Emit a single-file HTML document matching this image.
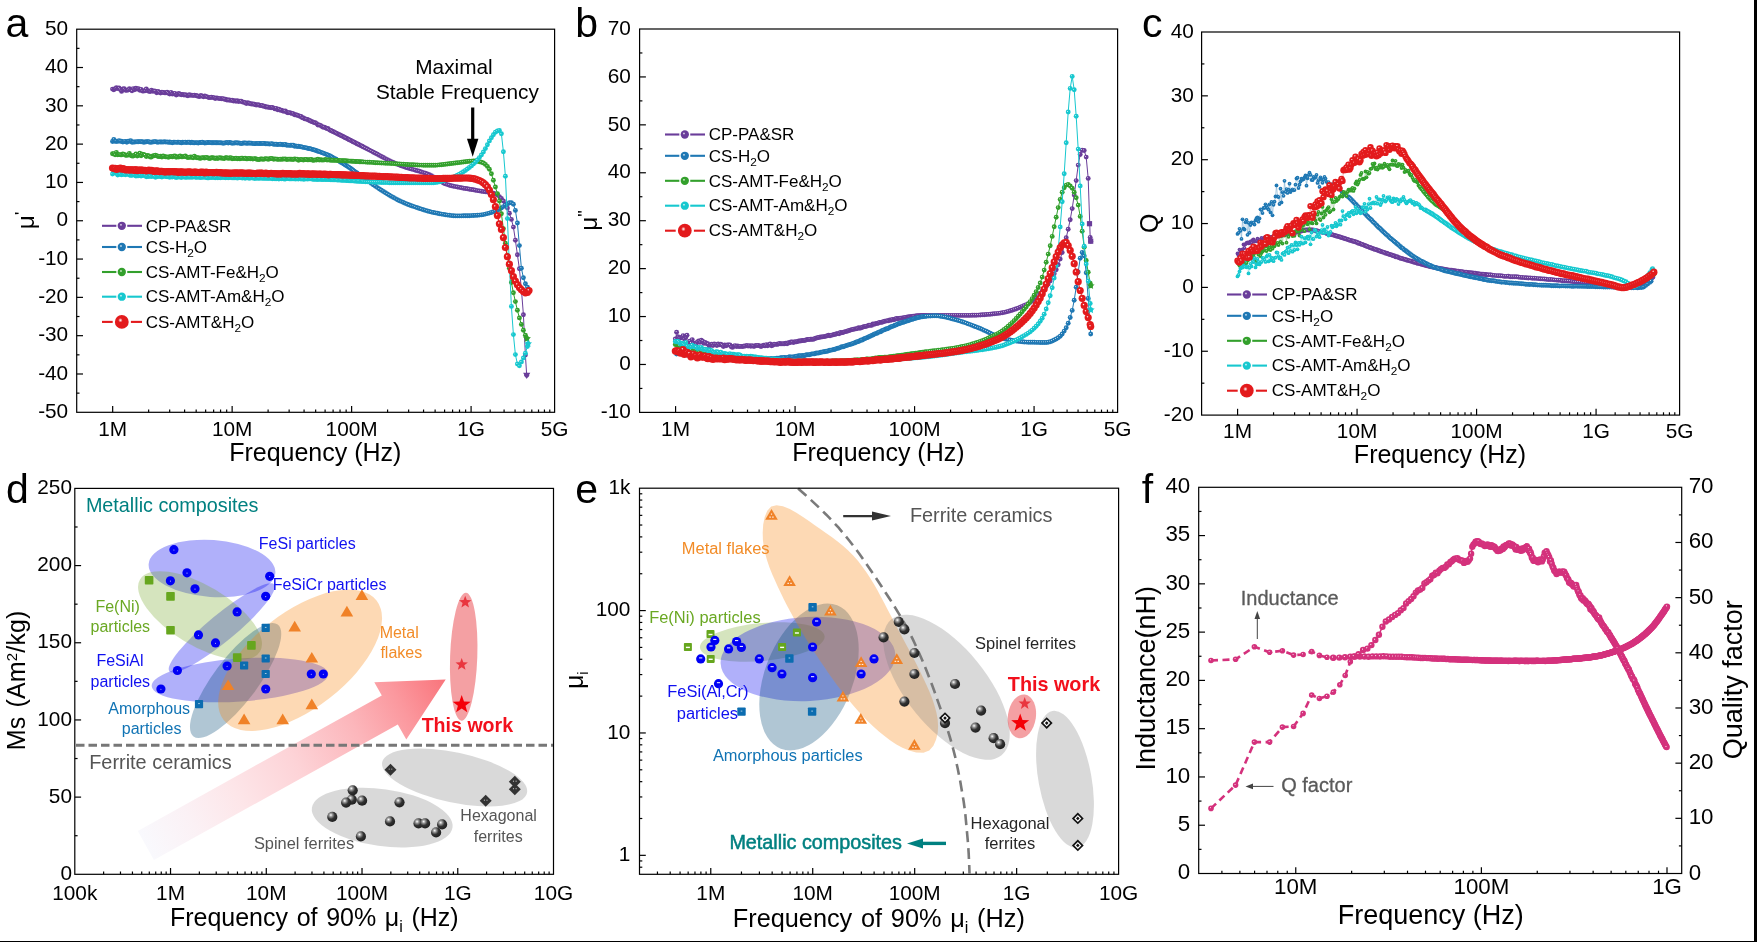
<!DOCTYPE html>
<html><head><meta charset="utf-8"><title>Figure</title>
<style>html,body{margin:0;padding:0;background:#fff;overflow:hidden}svg{display:block;will-change:transform}text{font-family:'Liberation Sans', sans-serif;}</style>
</head><body>
<svg width="1757" height="942" viewBox="0 0 1757 942">
<defs>
<radialGradient id="gpurple" cx="0.4" cy="0.38" r="0.5"><stop offset="0" stop-color="#fff" stop-opacity="0.95"/><stop offset="0.32" stop-color="#6a3d9a"/><stop offset="1" stop-color="#6a3d9a"/></radialGradient>
<marker id="mpurples" markerUnits="userSpaceOnUse" markerWidth="4.8" markerHeight="4.8" refX="2.4" refY="2.4"><circle cx="2.4" cy="2.4" r="1.9" fill="url(#gpurple)"/></marker>
<marker id="mpurple" markerUnits="userSpaceOnUse" markerWidth="5.9" markerHeight="5.9" refX="2.95" refY="2.95"><circle cx="2.95" cy="2.95" r="2.45" fill="url(#gpurple)"/></marker>
<radialGradient id="gblue" cx="0.4" cy="0.38" r="0.5"><stop offset="0" stop-color="#fff" stop-opacity="0.95"/><stop offset="0.32" stop-color="#1f78b4"/><stop offset="1" stop-color="#1f78b4"/></radialGradient>
<marker id="mblues" markerUnits="userSpaceOnUse" markerWidth="4.8" markerHeight="4.8" refX="2.4" refY="2.4"><circle cx="2.4" cy="2.4" r="1.9" fill="url(#gblue)"/></marker>
<marker id="mblue" markerUnits="userSpaceOnUse" markerWidth="5.9" markerHeight="5.9" refX="2.95" refY="2.95"><circle cx="2.95" cy="2.95" r="2.45" fill="url(#gblue)"/></marker>
<radialGradient id="ggreen" cx="0.4" cy="0.38" r="0.5"><stop offset="0" stop-color="#fff" stop-opacity="0.95"/><stop offset="0.32" stop-color="#33a02c"/><stop offset="1" stop-color="#33a02c"/></radialGradient>
<marker id="mgreens" markerUnits="userSpaceOnUse" markerWidth="4.8" markerHeight="4.8" refX="2.4" refY="2.4"><circle cx="2.4" cy="2.4" r="1.9" fill="url(#ggreen)"/></marker>
<marker id="mgreen" markerUnits="userSpaceOnUse" markerWidth="5.9" markerHeight="5.9" refX="2.95" refY="2.95"><circle cx="2.95" cy="2.95" r="2.45" fill="url(#ggreen)"/></marker>
<radialGradient id="gcyan" cx="0.4" cy="0.38" r="0.5"><stop offset="0" stop-color="#fff" stop-opacity="0.95"/><stop offset="0.32" stop-color="#17c8cf"/><stop offset="1" stop-color="#17c8cf"/></radialGradient>
<marker id="mcyans" markerUnits="userSpaceOnUse" markerWidth="4.8" markerHeight="4.8" refX="2.4" refY="2.4"><circle cx="2.4" cy="2.4" r="1.9" fill="url(#gcyan)"/></marker>
<marker id="mcyan" markerUnits="userSpaceOnUse" markerWidth="5.9" markerHeight="5.9" refX="2.95" refY="2.95"><circle cx="2.95" cy="2.95" r="2.45" fill="url(#gcyan)"/></marker>
<radialGradient id="gred" cx="0.4" cy="0.38" r="0.5"><stop offset="0" stop-color="#fff" stop-opacity="0.95"/><stop offset="0.32" stop-color="#e31a1c"/><stop offset="1" stop-color="#e31a1c"/></radialGradient>
<marker id="mreds" markerUnits="userSpaceOnUse" markerWidth="7.4" markerHeight="7.4" refX="3.7" refY="3.7"><circle cx="3.7" cy="3.7" r="3.2" fill="url(#gred)"/></marker>
<marker id="mred" markerUnits="userSpaceOnUse" markerWidth="8.2" markerHeight="8.2" refX="4.1" refY="4.1"><circle cx="4.1" cy="4.1" r="3.6" fill="url(#gred)"/></marker>
<radialGradient id="gpk" cx="0.4" cy="0.38" r="0.5"><stop offset="0" stop-color="#fff" stop-opacity="0.9"/><stop offset="0.3" stop-color="#d4317c"/><stop offset="1" stop-color="#d4317c"/></radialGradient>
<marker id="mpks" markerUnits="userSpaceOnUse" markerWidth="8" markerHeight="8" refX="4" refY="4"><circle cx="4" cy="4" r="2.8" fill="url(#gpk)"/></marker>
<marker id="mpk" markerUnits="userSpaceOnUse" markerWidth="8" markerHeight="8" refX="4" refY="4"><circle cx="4" cy="4" r="3.2" fill="url(#gpk)"/></marker>
<radialGradient id="gdk" cx="0.36" cy="0.32" r="0.65"><stop offset="0" stop-color="#fff"/><stop offset="0.25" stop-color="#999"/><stop offset="0.6" stop-color="#333"/><stop offset="1" stop-color="#222"/></radialGradient>
<linearGradient id="garr" gradientUnits="userSpaceOnUse" x1="146" y1="845.5" x2="445.7" y2="679.5"><stop offset="0" stop-color="#f9f9fd"/><stop offset="0.15" stop-color="#fbf1f5"/><stop offset="0.3" stop-color="#fde6e9"/><stop offset="0.5" stop-color="#fdd3d7"/><stop offset="0.7" stop-color="#fcb6bb"/><stop offset="0.85" stop-color="#fb989e"/><stop offset="1" stop-color="#f9747b"/></linearGradient>
</defs>
<rect width="1757" height="942" fill="#fff"/>
<polyline points="112.5,89.1 113.8,89.7 115.1,88.7 116.4,87.8 117.7,88.6 119,87.9 120.3,89.5 121.6,91.4 122.9,88.9 124.2,88.8 125.5,90.3 126.8,90.2 128.1,90 129.4,88.8 130.7,89.9 132,90.8 133.3,88.6 134.6,89.7 135.9,88.3 137.2,89 138.5,88.6 139.8,90.3 141.1,89.4 142.4,91 143.7,91 145,90.8 146.3,88.9 147.6,90.7 148.9,91.2 150.2,91.5 151.5,90.3 152.8,91.3 154.1,91 155.4,91.3 156.7,92.7 158,91.5 159.3,92.2 160.6,93 161.9,92.1 163.2,92.5 164.5,92.8 165.8,92.9 167.1,92.3 168.4,93.2 169.7,94.1 171,92.5 172.3,94 173.6,93.7 174.9,93.4 176.2,95 177.5,94.4 178.8,93.5 180.1,94.3 181.4,94.7 182.7,94.4 184,95 185.3,94.7 186.6,95.2 187.9,95.7 189.2,94.8 190.5,95.3 191.8,95.1 193.1,95.5 194.4,95.1 195.7,95.5 197,95.8 198.3,96.4 199.6,96.6 200.9,95.7" fill="none" stroke="#6a3d9a" stroke-width="0.35" stroke-linejoin="round" marker-start="url(#mpurple)" marker-mid="url(#mpurple)" marker-end="url(#mpurple)"/>
<polyline points="200.9,95.7 202.2,96.1 203.5,96.8 204.8,95.9 206.1,96.6 207.4,96.9 208.7,97.6 210,97.5 211.3,97.3 212.6,97.4 213.9,97.6 215.2,98.5 216.5,97.9 217.8,98.1 219.1,98.6 220.4,98.6 221.7,98.7 223,98.6 224.3,99.2 225.6,99.2 226.9,100 228.2,100 229.5,100 230.8,100.4 232.1,100.3 233.4,101 234.7,100.8 236,101.2 237.3,100.8 238.6,101.6 239.9,101.1 241.2,101.2 242.5,102.1 243.8,102.1 245.1,102.7 246.4,103.6 247.7,102.8 249,103.2 250.3,103.7 251.6,104 252.9,104 254.2,104.3 255.5,104.8 256.8,105 258.1,104.8 259.4,105.3 260.7,105.6 262,105.5 263.3,106.2 264.6,106.1 265.9,107 267.2,107 268.5,107.3 269.8,107.4 271.1,107.8 272.4,107.5 273.7,108.1 275,108.9 276.3,108.4 277.6,109.7 278.9,109.2 280.2,110.3 281.5,110.1 282.8,111 284.1,111.2 285.4,111 286.7,112.2 288,112.7 289.3,112.6 290.6,113 291.9,113.4 293.2,113.6 294.5,114.7 295.8,114.7 297.1,115.3 298.4,115.6 299.7,116.2 301,116.5 302.3,117.8 303.6,118 304.9,118.9 306.2,119.1 307.5,119.5 308.8,120.2 310.1,120.7 311.4,121.5 312.7,121.9 314,122.6 315.3,122.8 316.6,123.6 317.9,125 319.2,124.9 320.5,125.4 321.8,126.4 323.1,127.3 324.4,127.1 325.7,128 327,128.5 328.3,128.8 329.6,130.1 330.9,130.5 332.2,131.2 333.5,131.8 334.8,132.4 336.1,133.1 337.4,133.7 338.7,134.4 340,135 341.3,135.7 342.6,136.3 343.9,137 345.2,137.7 346.5,138.3 347.8,139 349.1,139.7 350.4,140.3 351.7,141 353,141.7 354.3,142.3 355.6,143 356.9,143.7 358.2,144.3 359.5,145 360.8,145.6 362.1,146.3 363.4,147 365.4,148 367.4,149 369.4,150.1 371.4,151.1 373.4,152.2 375.4,153.3 377.4,154.3 379.4,155.4 381.4,156.5 383.4,157.5 385.4,158.6 387.4,159.6 389.4,160.6 391.4,161.6 393.4,162.5 395.4,163.4 397.4,164.3 399.4,165.1 401.4,165.9 403.4,166.6 405.4,167.3 407.4,167.9 409.4,168.5 411.4,169.1 413.4,169.6 415.4,170.2 417.4,170.7 419.4,171.3 421.4,171.9 423.4,172.6 425.4,173.3 427.4,174 429.4,174.8 431.4,175.8 433.4,176.9 435.4,178.2 437.4,179.4 439.4,180.7 441.4,181.9 443.4,183 445.4,183.9 447.4,184.6 449.4,185.2 451.4,185.7 453.4,186.2 455.4,186.6 457.4,187 459.4,187.4 461.4,187.8 463.4,188.2 465.4,188.5 467.4,188.8 469.4,189.2 471.4,189.5 473.4,189.8 475.4,190.2 477.4,190.6 479.4,190.9 481.4,191.3 483.4,191.6 485.4,191.8 487.4,192.1 489.4,192.4 491.4,192.8 493.4,193.3 495.4,193.9 497.4,194.9 499.4,196.6 501.4,198.5 503.4,201 505.4,204.1 507.4,208.1 509.4,213.3 511.4,219.4 513.4,227.1 515.4,240.2 517.4,254.7 519.4,268.8 521.4,289.2 523.4,314.7 525.4,355.1 526.7,375.3" fill="none" stroke="#6a3d9a" stroke-width="1.0" stroke-linejoin="round" marker-start="url(#mpurple)" marker-mid="url(#mpurple)" marker-end="url(#mpurple)"/>
<polyline points="112.5,141.5 113.8,139.5 115.1,141.4 116.4,141.2 117.7,141.4 119,140.7 120.3,141.2 121.6,141.3 122.9,142.1 124.2,141.6 125.5,141.4 126.8,142.2 128.1,141.2 129.4,141.3 130.7,140.7 132,142.3 133.3,142 134.6,142 135.9,141.9 137.2,141.7 138.5,141.8 139.8,141.6 141.1,141.7 142.4,141.8 143.7,142.3 145,142 146.3,141.8 147.6,141.6 148.9,141.7 150.2,142.4 151.5,142.1 152.8,142 154.1,141.8 155.4,141.6 156.7,142 158,142.3 159.3,141.9 160.6,142 161.9,142 163.2,142.1 164.5,141.7 165.8,142.1 167.1,141.9 168.4,142.4 169.7,142 171,142.4 172.3,142.7 173.6,142.2 174.9,142.1 176.2,142.4 177.5,142.3 178.8,142.1 180.1,142.5 181.4,142.9 182.7,142.3 184,142.4 185.3,142.2 186.6,142.5 187.9,142.2 189.2,142.2 190.5,142.8 191.8,142.3 193.1,142.8 194.4,142.9 195.7,142.6 197,142.7 198.3,143 199.6,142.6 200.9,142.5" fill="none" stroke="#1f78b4" stroke-width="0.35" stroke-linejoin="round" marker-start="url(#mblue)" marker-mid="url(#mblue)" marker-end="url(#mblue)"/>
<polyline points="200.9,142.5 202.2,142.3 203.5,142.6 204.8,143 206.1,142.9 207.4,142.5 208.7,142.5 210,142.6 211.3,142.8 212.6,142.7 213.9,142.8 215.2,142.8 216.5,142.7 217.8,142.8 219.1,142.9 220.4,142.8 221.7,142.9 223,143.3 224.3,143 225.6,142.9 226.9,142.5 228.2,143 229.5,142.5 230.8,142.7 232.1,143.2 233.4,143.1 234.7,143 236,142.7 237.3,143 238.6,142.9 239.9,143.2 241.2,143.6 242.5,143.2 243.8,143 245.1,143 246.4,143.2 247.7,143.2 249,143 250.3,143.3 251.6,143.1 252.9,143.6 254.2,143.6 255.5,143.6 256.8,143.4 258.1,143.6 259.4,143.5 260.7,143.5 262,143.6 263.3,143.4 264.6,143.4 265.9,143.9 267.2,143.8 268.5,143.9 269.8,144.1 271.1,143.6 272.4,143.9 273.7,144.2 275,144.3 276.3,144.2 277.6,144.5 278.9,144.4 280.2,144.2 281.5,144.4 282.8,144.8 284.1,144.8 285.4,144.4 286.7,145.2 288,145.1 289.3,145.4 290.6,145.2 291.9,145.3 293.2,145.3 294.5,146.2 295.8,145.9 297.1,146.5 298.4,146.2 299.7,146.6 301,146.8 302.3,147.1 303.6,147.4 304.9,147.6 306.2,147.9 307.5,148.2 308.8,148.5 310.1,148.8 311.4,149.1 312.7,149.5 314,149.9 315.3,150.3 316.6,150.7 317.9,151.2 319.2,151.6 320.5,152.1 321.8,152.6 323.1,153.1 324.4,153.6 325.7,154.1 327,154.6 328.3,155.2 329.6,155.8 330.9,156.5 332.2,157.2 333.5,157.9 334.8,158.6 336.1,159.3 337.4,160.1 338.7,160.9 340,161.7 341.3,162.5 342.6,163.3 343.9,164.1 345.2,164.9 346.5,165.7 347.8,166.6 349.1,167.4 350.4,168.3 351.7,169.3 353,170.2 354.3,171.1 355.6,172.1 356.9,173 358.2,174 359.5,174.9 360.8,175.9 362.1,176.8 363.4,177.7 365.4,179.1 367.4,180.6 369.4,182 371.4,183.4 373.4,184.9 375.4,186.3 377.4,187.6 379.4,189 381.4,190.3 383.4,191.5 385.4,192.8 387.4,194 389.4,195.2 391.4,196.4 393.4,197.5 395.4,198.6 397.4,199.7 399.4,200.7 401.4,201.6 403.4,202.5 405.4,203.4 407.4,204.2 409.4,205 411.4,205.7 413.4,206.4 415.4,207.1 417.4,207.8 419.4,208.5 421.4,209.1 423.4,209.7 425.4,210.4 427.4,211 429.4,211.5 431.4,212.1 433.4,212.5 435.4,212.9 437.4,213.3 439.4,213.7 441.4,214.1 443.4,214.4 445.4,214.8 447.4,215.1 449.4,215.3 451.4,215.6 453.4,215.7 455.4,215.9 457.4,215.9 459.4,215.9 461.4,215.9 463.4,215.8 465.4,215.8 467.4,215.7 469.4,215.7 471.4,215.6 473.4,215.5 475.4,215.4 477.4,215.3 479.4,215.1 481.4,214.9 483.4,214.6 485.4,214.1 487.4,213.6 489.4,213.1 491.4,212.5 493.4,211.8 495.4,211.1 497.4,210.2 499.4,209.2 501.4,208 503.4,206.6 505.4,205.2 507.4,203.9 509.4,202.7 511.4,202.7 513.4,204.3 515.4,210.4 517.4,223 519.4,245.6 521.4,268.3 523.4,277.7 525.4,283.7 527.4,287.1" fill="none" stroke="#1f78b4" stroke-width="1.0" stroke-linejoin="round" marker-start="url(#mblue)" marker-mid="url(#mblue)" marker-end="url(#mblue)"/>
<polyline points="112.5,153.8 113.8,153.6 115.1,154.7 116.4,152.4 117.7,154.8 119,154.6 120.3,154.7 121.6,154.9 122.9,153.9 124.2,154.4 125.5,155.3 126.8,155.2 128.1,155 129.4,153.5 130.7,155.4 132,156 133.3,156 134.6,155.3 135.9,153.9 137.2,156 138.5,155.2 139.8,153.3 141.1,155.7 142.4,154.3 143.7,154.5 145,155.1 146.3,156.6 147.6,155.5 148.9,156 150.2,157.1 151.5,157 152.8,155.9 154.1,155.8 155.4,155.2 156.7,155.6 158,156.5 159.3,156.5 160.6,156.3 161.9,157 163.2,155.9 164.5,156.4 165.8,156.9 167.1,156.9 168.4,157.2 169.7,156.8 171,156.5 172.3,156.9 173.6,156.2 174.9,155.9 176.2,157.2 177.5,156.8 178.8,157.1 180.1,156 181.4,156.8 182.7,156.7 184,156.6 185.3,156 186.6,157 187.9,157.6 189.2,157.4 190.5,157 191.8,157.3 193.1,157.7 194.4,156.1 195.7,157.4 197,157.7 198.3,157.8 199.6,158.3 200.9,158.1" fill="none" stroke="#33a02c" stroke-width="0.35" stroke-linejoin="round" marker-start="url(#mgreen)" marker-mid="url(#mgreen)" marker-end="url(#mgreen)"/>
<polyline points="200.9,158.1 202.2,157.7 203.5,157.8 204.8,158 206.1,157.5 207.4,157.7 208.7,158.2 210,158.6 211.3,157.8 212.6,157.8 213.9,158 215.2,158.5 216.5,157.9 217.8,158.6 219.1,157.6 220.4,158 221.7,158 223,158.4 224.3,158.5 225.6,157.6 226.9,157.8 228.2,158.4 229.5,158 230.8,157.7 232.1,158.7 233.4,158.5 234.7,158.6 236,158.2 237.3,158.8 238.6,158.4 239.9,158.9 241.2,158.2 242.5,158.2 243.8,158.6 245.1,158.3 246.4,158.9 247.7,158.7 249,158.4 250.3,158.7 251.6,158.6 252.9,159.1 254.2,158.6 255.5,158.7 256.8,159.2 258.1,159.6 259.4,159.5 260.7,158.9 262,159 263.3,159.4 264.6,158.9 265.9,158.7 267.2,159 268.5,159.2 269.8,158.8 271.1,158.5 272.4,158.6 273.7,159.3 275,158.9 276.3,159.1 277.6,159.2 278.9,159.4 280.2,159.1 281.5,159.4 282.8,159 284.1,159.1 285.4,158.9 286.7,159.6 288,159.3 289.3,159.1 290.6,159.2 291.9,159.3 293.2,159.6 294.5,158.9 295.8,159.1 297.1,159.3 298.4,160.2 299.7,159.7 301,159.5 302.3,159.7 303.6,160.1 304.9,159.5 306.2,159.5 307.5,159.9 308.8,159.8 310.1,159.8 311.4,159.5 312.7,160.2 314,160.2 315.3,159.9 316.6,160 317.9,159.2 319.2,160 320.5,159.8 321.8,160 323.1,160.1 324.4,159.9 325.7,159.5 327,160.1 328.3,159.9 329.6,160 330.9,160.2 332.2,160.2 333.5,160.3 334.8,160.3 336.1,160.4 337.4,160.4 338.7,160.5 340,160.6 341.3,160.6 342.6,160.7 343.9,160.8 345.2,160.8 346.5,160.9 347.8,161 349.1,161.1 350.4,161.1 351.7,161.2 353,161.3 354.3,161.4 355.6,161.5 356.9,161.5 358.2,161.6 359.5,161.7 360.8,161.8 362.1,161.9 363.4,161.9 365.4,162.1 367.4,162.2 369.4,162.3 371.4,162.4 373.4,162.5 375.4,162.7 377.4,162.8 379.4,162.9 381.4,163 383.4,163.1 385.4,163.2 387.4,163.3 389.4,163.4 391.4,163.5 393.4,163.6 395.4,163.8 397.4,163.9 399.4,164 401.4,164.1 403.4,164.3 405.4,164.4 407.4,164.5 409.4,164.6 411.4,164.7 413.4,164.8 415.4,164.9 417.4,165 419.4,165.1 421.4,165.1 423.4,165.2 425.4,165.2 427.4,165.3 429.4,165.3 431.4,165.3 433.4,165.3 435.4,165.2 437.4,165.1 439.4,164.9 441.4,164.8 443.4,164.5 445.4,164.3 447.4,164 449.4,163.8 451.4,163.5 453.4,163.3 455.4,163 457.4,162.8 459.4,162.6 461.4,162.3 463.4,162 465.4,161.8 467.4,161.5 469.4,161.3 471.4,161.1 473.4,161 475.4,161 477.4,161.3 479.4,161.7 481.4,162.3 483.4,163 485.4,164.4 487.4,166.4 489.4,169.3 491.4,173.8 493.4,180.2 495.4,187 497.4,193.6 499.4,201.1 501.4,213.8 503.4,228.7 505.4,243.2 507.4,255.5 509.4,268.2 511.4,282.5 513.4,292.8 515.4,301.6 517.4,310.3 519.4,317.9 521.4,324.4 523.4,330.3 525.4,335.3 527,338.5" fill="none" stroke="#33a02c" stroke-width="1.0" stroke-linejoin="round" marker-start="url(#mgreen)" marker-mid="url(#mgreen)" marker-end="url(#mgreen)"/>
<polyline points="112.5,174 113.8,171.8 115.1,173 116.4,173.3 117.7,175 119,173.8 120.3,174.4 121.6,174.8 122.9,174.2 124.2,174.3 125.5,174.7 126.8,173.8 128.1,174.3 129.4,175 130.7,175.4 132,175.3 133.3,174.5 134.6,175.3 135.9,176 137.2,175.9 138.5,175.7 139.8,175.3 141.1,176.1 142.4,175.6 143.7,175.4 145,175.6 146.3,176.7 147.6,176.2 148.9,176.6 150.2,176 151.5,176.6 152.8,176 154.1,176.2 155.4,177.3 156.7,176.7 158,176.2 159.3,176.4 160.6,176.6 161.9,177 163.2,176.4 164.5,176 165.8,176.5 167.1,176.7 168.4,176.7 169.7,177.2 171,176.9 172.3,177.1 173.6,176.5 174.9,177.1 176.2,177.5 177.5,177.1 178.8,177 180.1,177 181.4,177.5 182.7,176.7 184,177 185.3,177.2 186.6,177.3 187.9,177 189.2,177.2 190.5,177 191.8,177.2 193.1,177.1 194.4,176.9 195.7,177.2 197,177.4 198.3,177 199.6,177.2 200.9,177.4" fill="none" stroke="#17c8cf" stroke-width="0.35" stroke-linejoin="round" marker-start="url(#mcyan)" marker-mid="url(#mcyan)" marker-end="url(#mcyan)"/>
<polyline points="200.9,177.4 202.2,177 203.5,177.3 204.8,177 206.1,177.6 207.4,177.9 208.7,177.9 210,177.3 211.3,177.6 212.6,177.4 213.9,177.4 215.2,177.8 216.5,177.1 217.8,177.7 219.1,177.5 220.4,177.8 221.7,177.6 223,177.4 224.3,177.6 225.6,177.7 226.9,177.6 228.2,177.7 229.5,177.5 230.8,177.2 232.1,177.9 233.4,177.8 234.7,177.7 236,177.7 237.3,178 238.6,177.7 239.9,177.6 241.2,177.8 242.5,178.1 243.8,177.6 245.1,178.2 246.4,177.8 247.7,177.7 249,178.2 250.3,178 251.6,177.7 252.9,178 254.2,178.3 255.5,178.4 256.8,178 258.1,178.3 259.4,178.3 260.7,178.1 262,178.3 263.3,178.3 264.6,178.2 265.9,178.2 267.2,178.4 268.5,178.4 269.8,178.3 271.1,178.3 272.4,178.7 273.7,178.5 275,178.7 276.3,178.7 277.6,178.6 278.9,179 280.2,178.4 281.5,178.8 282.8,178.5 284.1,179 285.4,179 286.7,178.3 288,178.5 289.3,178.9 290.6,178.9 291.9,178.9 293.2,178.8 294.5,178.9 295.8,179 297.1,178.8 298.4,179.1 299.7,178.4 301,179.1 302.3,178.7 303.6,179.2 304.9,179 306.2,178.9 307.5,179.1 308.8,178.9 310.1,178.9 311.4,178.8 312.7,179.2 314,179.3 315.3,179.4 316.6,179.2 317.9,179.5 319.2,179.3 320.5,179.3 321.8,179.5 323.1,179.6 324.4,179.4 325.7,179.5 327,179.5 328.3,179.6 329.6,179.5 330.9,179.7 332.2,179.7 333.5,179.8 334.8,179.9 336.1,179.9 337.4,180 338.7,180.1 340,180.1 341.3,180.2 342.6,180.3 343.9,180.3 345.2,180.4 346.5,180.5 347.8,180.6 349.1,180.7 350.4,180.8 351.7,180.8 353,180.9 354.3,181 355.6,181.1 356.9,181.2 358.2,181.3 359.5,181.3 360.8,181.4 362.1,181.5 363.4,181.6 365.4,181.7 367.4,181.8 369.4,181.9 371.4,182 373.4,182.1 375.4,182.2 377.4,182.3 379.4,182.4 381.4,182.5 383.4,182.5 385.4,182.6 387.4,182.6 389.4,182.7 391.4,182.7 393.4,182.7 395.4,182.7 397.4,182.7 399.4,182.7 401.4,182.7 403.4,182.7 405.4,182.7 407.4,182.7 409.4,182.7 411.4,182.7 413.4,182.7 415.4,182.7 417.4,182.7 419.4,182.7 421.4,182.7 423.4,182.7 425.4,182.7 427.4,182.7 429.4,182.7 431.4,182.7 433.4,182.7 435.4,182.5 437.4,182.2 439.4,181.8 441.4,181.3 443.4,180.7 445.4,180.1 447.4,179.5 449.4,178.9 451.4,178.2 453.4,177.3 455.4,176.3 457.4,175.3 459.4,174.1 461.4,173 463.4,171.8 465.4,170.5 467.4,169 469.4,167.5 471.4,165.9 473.4,164.1 475.4,162.2 477.4,160 479.4,157.6 481.4,154.9 483.4,152 485.4,148.6 487.4,144.7 489.4,140.9 491.4,137.7 493.4,134.7 495.4,132.2 497.4,131 499.4,130.5 501.4,133.8 503.4,151.7 505.4,176.2 507.4,218.6 509.4,265 511.4,306.4 513.4,334.6 515.4,354.6 517.4,364 519.4,365.8 521.4,361.9 523.4,357.9 525.4,353.3 527.4,346.5 528.1,343.7" fill="none" stroke="#17c8cf" stroke-width="1.0" stroke-linejoin="round" marker-start="url(#mcyan)" marker-mid="url(#mcyan)" marker-end="url(#mcyan)"/>
<polyline points="112.5,168 113.8,168.5 115.1,168.3 116.4,169.5 117.7,168.6 119,168.7 120.3,168.2 121.6,169.1 122.9,168.7 124.2,169.2 125.5,170 126.8,169.7 128.1,169.8 129.4,169.8 130.7,169.8 132,169.8 133.3,169.8 134.6,170.3 135.9,169.6 137.2,170.6 138.5,170.2 139.8,170 141.1,170.2 142.4,170.2 143.7,170.5 145,170.3 146.3,170.9 147.6,170.5 148.9,170.1 150.2,170.6 151.5,170.3 152.8,170.9 154.1,171.3 155.4,171.2 156.7,170.8 158,171 159.3,171.6 160.6,171.4 161.9,171.3 163.2,171.6 164.5,172 165.8,171.8 167.1,171.6 168.4,171.7 169.7,171.8 171,171.5 172.3,171.5 173.6,171.8 174.9,171.6 176.2,171.8 177.5,171.9 178.8,172.4 180.1,171.8 181.4,171.9 182.7,172 184,172.1 185.3,172.3 186.6,172 187.9,172 189.2,171.8 190.5,172 191.8,172.3 193.1,172.3 194.4,172.1 195.7,172.2 197,172.4 198.3,172.5 199.6,172.3 200.9,172.4" fill="none" stroke="#e31a1c" stroke-width="0.35" stroke-linejoin="round" marker-start="url(#mred)" marker-mid="url(#mred)" marker-end="url(#mred)"/>
<polyline points="200.9,172.4 202.2,172.1 203.5,172.3 204.8,172.8 206.1,172.1 207.4,172.5 208.7,172.6 210,172.5 211.3,172.5 212.6,172.7 213.9,172.7 215.2,172.7 216.5,172.4 217.8,172.7 219.1,172.6 220.4,172.7 221.7,172.9 223,173 224.3,173.1 225.6,172.8 226.9,173.1 228.2,173.2 229.5,173.2 230.8,173.3 232.1,173 233.4,173 234.7,173.2 236,172.8 237.3,173.1 238.6,173 239.9,173.1 241.2,172.8 242.5,173 243.8,173.2 245.1,173.4 246.4,173.4 247.7,173.2 249,173.2 250.3,173.1 251.6,173.4 252.9,173.3 254.2,173.5 255.5,173.7 256.8,173.4 258.1,173.1 259.4,173.3 260.7,173.2 262,173.2 263.3,173.7 264.6,173.5 265.9,173.2 267.2,173.7 268.5,173.8 269.8,173.5 271.1,173.4 272.4,173.5 273.7,173.7 275,173.7 276.3,173.9 277.6,173.9 278.9,173.9 280.2,173.9 281.5,173.8 282.8,173.4 284.1,173.7 285.4,173.8 286.7,173.7 288,173.9 289.3,173.7 290.6,173.6 291.9,174.1 293.2,174 294.5,173.9 295.8,174 297.1,174.1 298.4,173.9 299.7,173.4 301,173.8 302.3,173.8 303.6,173.7 304.9,174 306.2,174.2 307.5,173.9 308.8,173.8 310.1,174.4 311.4,174 312.7,173.8 314,174.1 315.3,174.2 316.6,174 317.9,174.3 319.2,174.1 320.5,174 321.8,174.3 323.1,174.4 324.4,174.2 325.7,174.4 327,174.3 328.3,174.9 329.6,174.3 330.9,174.4 332.2,174.5 333.5,174.5 334.8,174.5 336.1,174.6 337.4,174.6 338.7,174.7 340,174.7 341.3,174.8 342.6,174.8 343.9,174.9 345.2,174.9 346.5,175 347.8,175 349.1,175.1 350.4,175.1 351.7,175.2 353,175.2 354.3,175.3 355.6,175.4 356.9,175.4 358.2,175.5 359.5,175.5 360.8,175.6 362.1,175.7 363.4,175.7 365.4,175.8 367.4,175.9 369.4,176 371.4,176.1 373.4,176.2 375.4,176.2 377.4,176.3 379.4,176.4 381.4,176.5 383.4,176.6 385.4,176.6 387.4,176.7 389.4,176.8 391.4,176.9 393.4,177 395.4,177.1 397.4,177.2 399.4,177.3 401.4,177.4 403.4,177.5 405.4,177.6 407.4,177.7 409.4,177.8 411.4,177.9 413.4,177.9 415.4,178 417.4,178.1 419.4,178.2 421.4,178.2 423.4,178.3 425.4,178.4 427.4,178.4 429.4,178.4 431.4,178.5 433.4,178.5 435.4,178.5 437.4,178.5 439.4,178.5 441.4,178.5 443.4,178.4 445.4,178.4 447.4,178.4 449.4,178.3 451.4,178.3 453.4,178.2 455.4,178.2 457.4,178.1 459.4,178.1 461.4,178.1 463.4,178 465.4,178 467.4,178 469.4,178.1 471.4,178.3 473.4,178.7 475.4,179.2 477.4,179.8 479.4,180.5 481.4,181.5 483.4,182.9 485.4,184.7 487.4,186.8 489.4,190.1 491.4,194.5 493.4,199.7 495.4,206.7 497.4,215.6 499.4,223.8 501.4,229.4 503.4,237.6 505.4,247.5 507.4,256.7 509.4,264.2 511.4,270.7 513.4,276.7 515.4,281.2 517.4,284.7 519.4,287.5 521.4,289.7 523.4,291.5 525.4,292.8 527.4,292.4 529,290.6" fill="none" stroke="#e31a1c" stroke-width="1.0" stroke-linejoin="round" marker-start="url(#mred)" marker-mid="url(#mred)" marker-end="url(#mred)"/>
<path d="M523.1,372.8 H530.3 L526.7,378.9 Z" fill="#6a3d9a"/>
<polygon points="527,334.3 528.1,337 531,337.2 528.8,339.1 529.5,341.9 527,340.4 524.5,341.9 525.2,339.1 523,337.2 525.9,337" fill="#33a02c"/>
<polygon points="528.1,339.5 529.2,342.2 532.1,342.4 529.9,344.3 530.6,347.1 528.1,345.6 525.6,347.1 526.3,344.3 524.1,342.4 527,342.2" fill="#17c8cf"/>
<rect x="76.7" y="29.2" width="477.9" height="383.1" fill="none" stroke="#000" stroke-width="1.2"/>
<line x1="112.67" y1="412.3" x2="112.67" y2="406" stroke="#000" stroke-width="1.2" />
<line x1="148.63" y1="412.3" x2="148.63" y2="409.5" stroke="#000" stroke-width="1.2" />
<line x1="169.67" y1="412.3" x2="169.67" y2="409.5" stroke="#000" stroke-width="1.2" />
<line x1="184.6" y1="412.3" x2="184.6" y2="409.5" stroke="#000" stroke-width="1.2" />
<line x1="196.18" y1="412.3" x2="196.18" y2="409.5" stroke="#000" stroke-width="1.2" />
<line x1="205.64" y1="412.3" x2="205.64" y2="409.5" stroke="#000" stroke-width="1.2" />
<line x1="213.63" y1="412.3" x2="213.63" y2="409.5" stroke="#000" stroke-width="1.2" />
<line x1="220.56" y1="412.3" x2="220.56" y2="409.5" stroke="#000" stroke-width="1.2" />
<line x1="226.67" y1="412.3" x2="226.67" y2="409.5" stroke="#000" stroke-width="1.2" />
<line x1="232.14" y1="412.3" x2="232.14" y2="406" stroke="#000" stroke-width="1.2" />
<line x1="268.11" y1="412.3" x2="268.11" y2="409.5" stroke="#000" stroke-width="1.2" />
<line x1="289.14" y1="412.3" x2="289.14" y2="409.5" stroke="#000" stroke-width="1.2" />
<line x1="304.07" y1="412.3" x2="304.07" y2="409.5" stroke="#000" stroke-width="1.2" />
<line x1="315.65" y1="412.3" x2="315.65" y2="409.5" stroke="#000" stroke-width="1.2" />
<line x1="325.11" y1="412.3" x2="325.11" y2="409.5" stroke="#000" stroke-width="1.2" />
<line x1="333.11" y1="412.3" x2="333.11" y2="409.5" stroke="#000" stroke-width="1.2" />
<line x1="340.04" y1="412.3" x2="340.04" y2="409.5" stroke="#000" stroke-width="1.2" />
<line x1="346.15" y1="412.3" x2="346.15" y2="409.5" stroke="#000" stroke-width="1.2" />
<line x1="351.62" y1="412.3" x2="351.62" y2="406" stroke="#000" stroke-width="1.2" />
<line x1="387.58" y1="412.3" x2="387.58" y2="409.5" stroke="#000" stroke-width="1.2" />
<line x1="408.62" y1="412.3" x2="408.62" y2="409.5" stroke="#000" stroke-width="1.2" />
<line x1="423.55" y1="412.3" x2="423.55" y2="409.5" stroke="#000" stroke-width="1.2" />
<line x1="435.12" y1="412.3" x2="435.12" y2="409.5" stroke="#000" stroke-width="1.2" />
<line x1="444.59" y1="412.3" x2="444.59" y2="409.5" stroke="#000" stroke-width="1.2" />
<line x1="452.58" y1="412.3" x2="452.58" y2="409.5" stroke="#000" stroke-width="1.2" />
<line x1="459.51" y1="412.3" x2="459.51" y2="409.5" stroke="#000" stroke-width="1.2" />
<line x1="465.62" y1="412.3" x2="465.62" y2="409.5" stroke="#000" stroke-width="1.2" />
<line x1="471.09" y1="412.3" x2="471.09" y2="406" stroke="#000" stroke-width="1.2" />
<line x1="490.17" y1="412.3" x2="490.17" y2="409.5" stroke="#000" stroke-width="1.2" />
<line x1="504.09" y1="412.3" x2="504.09" y2="409.5" stroke="#000" stroke-width="1.2" />
<line x1="515.05" y1="412.3" x2="515.05" y2="409.5" stroke="#000" stroke-width="1.2" />
<line x1="524.1" y1="412.3" x2="524.1" y2="409.5" stroke="#000" stroke-width="1.2" />
<line x1="531.8" y1="412.3" x2="531.8" y2="409.5" stroke="#000" stroke-width="1.2" />
<line x1="538.51" y1="412.3" x2="538.51" y2="409.5" stroke="#000" stroke-width="1.2" />
<line x1="544.44" y1="412.3" x2="544.44" y2="409.5" stroke="#000" stroke-width="1.2" />
<line x1="549.77" y1="412.3" x2="549.77" y2="409.5" stroke="#000" stroke-width="1.2" />
<text x="112.67" y="435.8" font-size="20.8" fill="#000" text-anchor="middle" >1M</text>
<text x="232.14" y="435.8" font-size="20.8" fill="#000" text-anchor="middle" >10M</text>
<text x="351.62" y="435.8" font-size="20.8" fill="#000" text-anchor="middle" >100M</text>
<text x="471.09" y="435.8" font-size="20.8" fill="#000" text-anchor="middle" >1G</text>
<text x="554.6" y="435.8" font-size="20.8" fill="#000" text-anchor="middle" >5G</text>
<line x1="76.7" y1="393.14" x2="79.5" y2="393.14" stroke="#000" stroke-width="1.2" />
<line x1="76.7" y1="354.84" x2="79.5" y2="354.84" stroke="#000" stroke-width="1.2" />
<line x1="76.7" y1="316.52" x2="79.5" y2="316.52" stroke="#000" stroke-width="1.2" />
<line x1="76.7" y1="278.22" x2="79.5" y2="278.22" stroke="#000" stroke-width="1.2" />
<line x1="76.7" y1="239.91" x2="79.5" y2="239.91" stroke="#000" stroke-width="1.2" />
<line x1="76.7" y1="201.59" x2="79.5" y2="201.59" stroke="#000" stroke-width="1.2" />
<line x1="76.7" y1="163.28" x2="79.5" y2="163.28" stroke="#000" stroke-width="1.2" />
<line x1="76.7" y1="124.97" x2="79.5" y2="124.97" stroke="#000" stroke-width="1.2" />
<line x1="76.7" y1="86.67" x2="79.5" y2="86.67" stroke="#000" stroke-width="1.2" />
<line x1="76.7" y1="48.36" x2="79.5" y2="48.36" stroke="#000" stroke-width="1.2" />
<line x1="76.7" y1="373.99" x2="83" y2="373.99" stroke="#000" stroke-width="1.2" />
<line x1="76.7" y1="335.68" x2="83" y2="335.68" stroke="#000" stroke-width="1.2" />
<line x1="76.7" y1="297.37" x2="83" y2="297.37" stroke="#000" stroke-width="1.2" />
<line x1="76.7" y1="259.06" x2="83" y2="259.06" stroke="#000" stroke-width="1.2" />
<line x1="76.7" y1="220.75" x2="83" y2="220.75" stroke="#000" stroke-width="1.2" />
<line x1="76.7" y1="182.44" x2="83" y2="182.44" stroke="#000" stroke-width="1.2" />
<line x1="76.7" y1="144.13" x2="83" y2="144.13" stroke="#000" stroke-width="1.2" />
<line x1="76.7" y1="105.82" x2="83" y2="105.82" stroke="#000" stroke-width="1.2" />
<line x1="76.7" y1="67.51" x2="83" y2="67.51" stroke="#000" stroke-width="1.2" />
<text x="68.2" y="418" font-size="20.8" fill="#000" text-anchor="end" >-50</text>
<text x="68.2" y="379.69" font-size="20.8" fill="#000" text-anchor="end" >-40</text>
<text x="68.2" y="341.38" font-size="20.8" fill="#000" text-anchor="end" >-30</text>
<text x="68.2" y="303.07" font-size="20.8" fill="#000" text-anchor="end" >-20</text>
<text x="68.2" y="264.76" font-size="20.8" fill="#000" text-anchor="end" >-10</text>
<text x="68.2" y="226.45" font-size="20.8" fill="#000" text-anchor="end" >0</text>
<text x="68.2" y="188.14" font-size="20.8" fill="#000" text-anchor="end" >10</text>
<text x="68.2" y="149.83" font-size="20.8" fill="#000" text-anchor="end" >20</text>
<text x="68.2" y="111.52" font-size="20.8" fill="#000" text-anchor="end" >30</text>
<text x="68.2" y="73.21" font-size="20.8" fill="#000" text-anchor="end" >40</text>
<text x="68.2" y="34.9" font-size="20.8" fill="#000" text-anchor="end" >50</text>
<text x="315.3" y="460.9" font-size="25" fill="#000" text-anchor="middle" >Frequency (Hz)</text>
<text x="33.6" y="220.5" font-size="24.5" fill="#000" text-anchor="middle" transform="rotate(-90 33.6 220.5)" >μ<tspan dy="-7" font-size="17">'</tspan></text>
<text x="5.4" y="37.2" font-size="41" fill="#000" text-anchor="start" >a</text>
<line x1="102" y1="225.8" x2="116.35" y2="225.8" stroke="#6a3d9a" stroke-width="2.1" />
<line x1="127.25" y1="225.8" x2="142" y2="225.8" stroke="#6a3d9a" stroke-width="2.1" />
<circle cx="121.8" cy="225.8" r="4.15" fill="url(#gpurple)"/>
<text x="145.7" y="231.5" font-size="17" fill="#000" text-anchor="start" >CP-PA&amp;SR</text>
<line x1="102" y1="247" x2="116.35" y2="247" stroke="#1f78b4" stroke-width="2.1" />
<line x1="127.25" y1="247" x2="142" y2="247" stroke="#1f78b4" stroke-width="2.1" />
<circle cx="121.8" cy="247" r="4.15" fill="url(#gblue)"/>
<text x="145.7" y="252.7" font-size="17" fill="#000" text-anchor="start" >CS-H<tspan dy="4" font-size="11.8">2</tspan><tspan dy="-4">O</tspan></text>
<line x1="102" y1="272" x2="116.35" y2="272" stroke="#33a02c" stroke-width="2.1" />
<line x1="127.25" y1="272" x2="142" y2="272" stroke="#33a02c" stroke-width="2.1" />
<circle cx="121.8" cy="272" r="4.15" fill="url(#ggreen)"/>
<text x="145.7" y="277.7" font-size="17" fill="#000" text-anchor="start" >CS-AMT-Fe&amp;H<tspan dy="4" font-size="11.8">2</tspan><tspan dy="-4">O</tspan></text>
<line x1="102" y1="296.7" x2="116.35" y2="296.7" stroke="#17c8cf" stroke-width="2.1" />
<line x1="127.25" y1="296.7" x2="142" y2="296.7" stroke="#17c8cf" stroke-width="2.1" />
<circle cx="121.8" cy="296.7" r="4.15" fill="url(#gcyan)"/>
<text x="145.7" y="302.4" font-size="17" fill="#000" text-anchor="start" >CS-AMT-Am&amp;H<tspan dy="4" font-size="11.8">2</tspan><tspan dy="-4">O</tspan></text>
<line x1="102" y1="321.9" x2="112.7" y2="321.9" stroke="#e31a1c" stroke-width="2.1" />
<line x1="130.9" y1="321.9" x2="142" y2="321.9" stroke="#e31a1c" stroke-width="2.1" />
<circle cx="121.8" cy="321.9" r="6.9" fill="url(#gred)"/>
<text x="145.7" y="327.6" font-size="17" fill="#000" text-anchor="start" >CS-AMT&amp;H<tspan dy="4" font-size="11.8">2</tspan><tspan dy="-4">O</tspan></text>
<text x="454" y="73.6" font-size="20.8" fill="#000" text-anchor="middle" >Maximal</text>
<text x="457.4" y="99" font-size="20.8" fill="#000" text-anchor="middle" >Stable Frequency</text>
<path d="M472.7,107.5 V142" stroke="#000" stroke-width="3.2"/><path d="M467,138.8 H478.4 L472.7,156.8 Z" fill="#000"/>
<polyline points="675.3,338.9 676.6,332.2 677.9,336.8 679.2,337.9 680.5,338.1 681.8,337.2 683.1,335.6 684.4,339.1 685.7,337.5 687,335.3 688.3,343.8 689.6,341.1 690.9,343 692.2,339.6 693.5,343.1 694.8,343.5 696.1,343.7 697.4,342 698.7,340.9 700,342.4 701.3,340.3 702.6,341.2 703.9,343.4 705.2,342.5 706.5,343.5 707.8,343.8 709.1,345.9 710.4,345.4 711.7,344.3 713,345.6 714.3,343.9 715.6,344.4 716.9,345.6 718.2,343.9 719.5,344.8 720.8,344.1 722.1,345.3 723.4,346.5 724.7,344.9 726,345.7 727.3,345 728.6,344.9 729.9,345 731.2,346.8 732.5,347.4 733.8,346.3 735.1,345.6 736.4,346.5 737.7,346 739,346.6 740.3,346.4 741.6,346.4 742.9,346.6 744.2,346 745.5,346.1 746.8,345.4 748.1,346.1 749.4,345.6 750.7,346.2 752,345.7 753.3,346.2 754.6,346.3 755.9,345.4 757.2,345.6 758.5,345.4 759.8,346.1 761.1,346.3" fill="none" stroke="#6a3d9a" stroke-width="0.35" stroke-linejoin="round" marker-start="url(#mpurple)" marker-mid="url(#mpurple)" marker-end="url(#mpurple)"/>
<polyline points="761.1,346.3 762.4,345.9 763.7,345.3 765,345.9 766.3,344.6 767.6,345.7 768.9,344.7 770.2,343.9 771.5,345.7 772.8,345.2 774.1,344.1 775.4,344.4 776.7,344.2 778,344.2 779.3,343.5 780.6,343.7 781.9,343.9 783.2,343.7 784.5,343.8 785.8,343.3 787.1,343.8 788.4,342.7 789.7,342.8 791,342 792.3,342 793.6,342.5 794.9,341.7 796.2,341.9 797.5,341.5 798.8,341 800.1,341 801.4,340.7 802.7,340.5 804,340.6 805.3,340.3 806.6,339.8 807.9,339.5 809.2,339.5 810.5,339.2 811.8,339.2 813.1,339.4 814.4,338.7 815.7,338.2 817,337.9 818.3,337.5 819.6,337.3 820.9,337 822.2,336.9 823.5,336.6 824.8,336.6 826.1,336.1 827.4,335.8 828.7,335.3 830,335.7 831.3,335.1 832.6,335.1 833.9,334.5 835.2,334.4 836.5,333.7 837.8,333.6 839.1,333.7 840.4,332.5 841.7,332.7 843,332.5 844.3,331.9 845.6,331.6 846.9,331.4 848.2,330.6 849.5,330.5 850.8,329.9 852.1,329.6 853.4,329.3 854.7,329.1 856,328.8 857.3,328.6 858.6,327.8 859.9,328.3 861.2,327.8 862.5,327.3 863.8,326.8 865.1,326.5 866.4,326.3 867.7,325.9 869,325.1 870.3,325.3 871.6,325.4 872.9,324 874.2,324.3 875.5,323.8 876.8,323.4 878.1,323.3 879.4,322.4 880.7,322.4 882,322.3 883.3,321.7 884.6,321.3 885.9,321.1 887.2,320.7 888.5,320.8 889.8,320 891.1,320.2 892.4,319.5 893.7,319.7 895,319.3 896.3,318.5 897.6,318.8 898.9,318.4 900.2,318.3 901.5,318.1 902.8,317.9 904.1,317.6 905.4,317.4 906.7,317.2 908,317 909.3,316.8 910.6,316.6 911.9,316.4 913.2,316.2 914.5,316.1 915.8,315.9 917.1,315.8 918.4,315.7 919.7,315.6 921,315.5 922.3,315.4 923.6,315.4 924.9,315.4 926.2,315.4 928.2,315.4 930.2,315.4 932.2,315.4 934.2,315.4 936.2,315.4 938.2,315.4 940.2,315.4 942.2,315.4 944.2,315.4 946.2,315.4 948.2,315.4 950.2,315.4 952.2,315.4 954.2,315.4 956.2,315.4 958.2,315.4 960.2,315.4 962.2,315.4 964.2,315.4 966.2,315.4 968.2,315.4 970.2,315.4 972.2,315.3 974.2,315.3 976.2,315.2 978.2,315.1 980.2,315 982.2,314.8 984.2,314.7 986.2,314.5 988.2,314.4 990.2,314.2 992.2,314 994.2,313.8 996.2,313.6 998.2,313.4 1000.2,313.1 1002.2,312.8 1004.2,312.4 1006.2,311.9 1008.2,311.4 1010.2,310.8 1012.2,310.2 1014.2,309.5 1016.2,308.8 1018.2,308.1 1020.2,307.3 1022.2,306.4 1024.2,305.5 1026.2,304.6 1028.2,303.6 1030.2,302.4 1032.2,300.9 1034.2,299.3 1036.2,297.5 1038.2,295.6 1040.2,293.5 1042.2,291.3 1044.2,289 1046.2,286.6 1048.2,283.9 1050.2,280.9 1052.2,277.6 1054.2,273.8 1056.2,269.7 1058.2,264.8 1060.2,259.1 1062.2,252.5 1064.2,245.3 1066.2,237.7 1068.2,229.3 1070.2,219.7 1072.2,208.6 1074.2,195.1 1076.2,180.6 1078.2,165.1 1080.2,154.5 1082.2,150.2 1084.2,150.5 1086.2,157.1 1088.2,178.4 1090.2,237.4 1090.7,241.2" fill="none" stroke="#6a3d9a" stroke-width="1.0" stroke-linejoin="round" marker-start="url(#mpurple)" marker-mid="url(#mpurple)" marker-end="url(#mpurple)"/>
<polyline points="675.3,351 676.6,354 677.9,353.1 679.2,353.3 680.5,353.7 681.8,353.9 683.1,354.6 684.4,353.6 685.7,354 687,355.1 688.3,355.2 689.6,355 690.9,355.1 692.2,355.2 693.5,355.8 694.8,356.7 696.1,355.6 697.4,357.1 698.7,356.9 700,356.4 701.3,357.2 702.6,356.3 703.9,356.3 705.2,356.6 706.5,357.2 707.8,357.3 709.1,357.3 710.4,357.7 711.7,356.9 713,358 714.3,357.4 715.6,357.7 716.9,357.9 718.2,357.7 719.5,357.7 720.8,357.9 722.1,358.3 723.4,358.6 724.7,358.6 726,358.2 727.3,358.4 728.6,358.4 729.9,358.8 731.2,358.2 732.5,359.2 733.8,358.8 735.1,358.7 736.4,359.1 737.7,359.3 739,359.2 740.3,359.4 741.6,359.2 742.9,359.5 744.2,359.5 745.5,359.2 746.8,359.6 748.1,359.4 749.4,359.4 750.7,359.2 752,359.3 753.3,359.6 754.6,359.1 755.9,359.5 757.2,359.5 758.5,359.4 759.8,358.9 761.1,359.3" fill="none" stroke="#1f78b4" stroke-width="0.35" stroke-linejoin="round" marker-start="url(#mblue)" marker-mid="url(#mblue)" marker-end="url(#mblue)"/>
<polyline points="761.1,359.3 762.4,359.4 763.7,359.1 765,359.2 766.3,358.7 767.6,359.1 768.9,358.8 770.2,359 771.5,358.4 772.8,358.8 774.1,358.5 775.4,358.6 776.7,358.2 778,358.1 779.3,358.5 780.6,357.8 781.9,357.7 783.2,357.7 784.5,357.4 785.8,357.7 787.1,357.7 788.4,357.1 789.7,356.8 791,357.2 792.3,357 793.6,356.9 794.9,356.8 796.2,356.3 797.5,356.2 798.8,355.8 800.1,355.7 801.4,355.9 802.7,355.4 804,355.7 805.3,355.2 806.6,354.8 807.9,354.9 809.2,354.8 810.5,354.4 811.8,353.9 813.1,353.9 814.4,353.9 815.7,353.3 817,353 818.3,353.1 819.6,352.7 820.9,352.3 822.2,352.1 823.5,351.8 824.8,351.7 826.1,351.3 827.4,351.2 828.7,350.8 830,350.2 831.3,350.1 832.6,349.9 833.9,349.5 835.2,349.2 836.5,348.6 837.8,348.2 839.1,348.1 840.4,347.4 841.7,346.8 843,346.9 844.3,346.3 845.6,345.9 846.9,345.4 848.2,344.9 849.5,344.6 850.8,344.2 852.1,343.9 853.4,343.1 854.7,343 856,342.2 857.3,341.7 858.6,341.5 859.9,340.8 861.2,340 862.5,340 863.8,339 865.1,338.5 866.4,337.9 867.7,337.5 869,336.6 870.3,336.2 871.6,335.4 872.9,335 874.2,334.2 875.5,333.6 876.8,333.4 878.1,332.5 879.4,331.9 880.7,331.7 882,330.8 883.3,330.1 884.6,329.8 885.9,329 887.2,328.8 888.5,328.2 889.8,327.4 891.1,326.8 892.4,326.4 893.7,325.9 895,325.2 896.3,324.9 897.6,324 898.9,323.7 900.2,323.3 901.5,322.8 902.8,322.4 904.1,322 905.4,321.5 906.7,321.1 908,320.7 909.3,320.2 910.6,319.8 911.9,319.4 913.2,319 914.5,318.6 915.8,318.2 917.1,317.8 918.4,317.5 919.7,317.2 921,316.9 922.3,316.7 923.6,316.5 924.9,316.4 926.2,316.3 928.2,316.1 930.2,316 932.2,315.9 934.2,315.8 936.2,315.8 938.2,315.9 940.2,316.2 942.2,316.5 944.2,316.9 946.2,317.3 948.2,317.8 950.2,318.3 952.2,318.9 954.2,319.4 956.2,319.9 958.2,320.5 960.2,321.1 962.2,321.7 964.2,322.4 966.2,323.1 968.2,323.9 970.2,324.6 972.2,325.4 974.2,326.2 976.2,326.9 978.2,327.7 980.2,328.5 982.2,329.4 984.2,330.4 986.2,331.3 988.2,332.3 990.2,333.3 992.2,334.3 994.2,335.2 996.2,336.1 998.2,336.9 1000.2,337.6 1002.2,338.2 1004.2,338.7 1006.2,339.2 1008.2,339.6 1010.2,340 1012.2,340.4 1014.2,340.7 1016.2,341 1018.2,341.3 1020.2,341.6 1022.2,341.8 1024.2,342 1026.2,342.1 1028.2,342.2 1030.2,342.2 1032.2,342.3 1034.2,342.3 1036.2,342.4 1038.2,342.4 1040.2,342.5 1042.2,342.5 1044.2,342.5 1046.2,342.5 1048.2,342.2 1050.2,341.7 1052.2,341 1054.2,340 1056.2,339 1058.2,337.8 1060.2,336.3 1062.2,334 1064.2,331.1 1066.2,327.7 1068.2,323.3 1070.2,317.5 1072.2,310.4 1074.2,300.3 1076.2,287.3 1078.2,272 1080.2,258.3 1082.2,252.5 1084.2,255.9 1086.2,272.7 1088.2,298.5 1090.2,327.4 1090.7,334" fill="none" stroke="#1f78b4" stroke-width="1.0" stroke-linejoin="round" marker-start="url(#mblue)" marker-mid="url(#mblue)" marker-end="url(#mblue)"/>
<polyline points="675.3,344.6 676.6,344.7 677.9,345.6 679.2,345.7 680.5,347.6 681.8,349 683.1,346.1 684.4,348.4 685.7,348.6 687,349.8 688.3,349 689.6,350.1 690.9,349.8 692.2,351.6 693.5,351.5 694.8,351.7 696.1,352.5 697.4,352.4 698.7,351.9 700,353.6 701.3,353.7 702.6,353.7 703.9,354.6 705.2,355 706.5,353.9 707.8,354.4 709.1,355.8 710.4,356 711.7,355.1 713,355.1 714.3,355.6 715.6,355.9 716.9,355.6 718.2,356.6 719.5,356.2 720.8,356.4 722.1,357.5 723.4,357 724.7,357.4 726,357.8 727.3,358 728.6,357.8 729.9,358 731.2,357.9 732.5,358.9 733.8,358.6 735.1,358.1 736.4,358.6 737.7,358.9 739,358.9 740.3,359.4 741.6,359.4 742.9,358.9 744.2,359.1 745.5,358.9 746.8,359.4 748.1,359.5 749.4,360.3 750.7,359.6 752,359.1 753.3,359.6 754.6,359.9 755.9,359.6 757.2,359.8 758.5,360 759.8,360.3 761.1,360.2" fill="none" stroke="#33a02c" stroke-width="0.35" stroke-linejoin="round" marker-start="url(#mgreen)" marker-mid="url(#mgreen)" marker-end="url(#mgreen)"/>
<polyline points="761.1,360.2 762.4,360.1 763.7,360.6 765,360.4 766.3,360.4 767.6,360.3 768.9,360.5 770.2,360.9 771.5,360.4 772.8,360.9 774.1,361.1 775.4,360.9 776.7,361.1 778,360.8 779.3,361.4 780.6,361.4 781.9,361.3 783.2,360.9 784.5,361.1 785.8,361.6 787.1,361.8 788.4,361.5 789.7,361.7 791,361.3 792.3,361.4 793.6,361.5 794.9,361.6 796.2,361.2 797.5,361.7 798.8,361.8 800.1,361.3 801.4,361.2 802.7,361.6 804,361.3 805.3,361 806.6,361.6 807.9,361.5 809.2,361.4 810.5,361.9 811.8,361.5 813.1,361.3 814.4,361.4 815.7,361.2 817,361.2 818.3,361.5 819.6,361.2 820.9,361.2 822.2,361.7 823.5,361.5 824.8,361.5 826.1,361.4 827.4,361.3 828.7,361.5 830,361.2 831.3,361.6 832.6,361 833.9,361.1 835.2,360.8 836.5,361 837.8,361.2 839.1,361.3 840.4,360.9 841.7,361 843,360.9 844.3,360.7 845.6,360.6 846.9,360.8 848.2,360.4 849.5,360.7 850.8,360.6 852.1,360.3 853.4,360.2 854.7,360 856,360.6 857.3,359.8 858.6,360.3 859.9,360 861.2,359.6 862.5,359.4 863.8,359.7 865.1,359.7 866.4,359 867.7,359 869,359.2 870.3,358.9 871.6,359.1 872.9,358.4 874.2,358.5 875.5,358 876.8,358.5 878.1,357.8 879.4,357.4 880.7,357.7 882,357.5 883.3,357.8 884.6,357.2 885.9,357.2 887.2,357.1 888.5,357.2 889.8,356.7 891.1,356.8 892.4,356.5 893.7,356.2 895,356.1 896.3,355.9 897.6,355.6 898.9,355.8 900.2,355.4 901.5,355.2 902.8,355.1 904.1,354.9 905.4,354.7 906.7,354.5 908,354.3 909.3,354.2 910.6,354 911.9,353.8 913.2,353.6 914.5,353.4 915.8,353.3 917.1,353.1 918.4,352.9 919.7,352.7 921,352.5 922.3,352.3 923.6,352.2 924.9,352 926.2,351.8 928.2,351.6 930.2,351.3 932.2,351 934.2,350.8 936.2,350.6 938.2,350.3 940.2,350.1 942.2,349.8 944.2,349.6 946.2,349.3 948.2,349 950.2,348.7 952.2,348.4 954.2,348.1 956.2,347.7 958.2,347.4 960.2,347 962.2,346.5 964.2,346.1 966.2,345.6 968.2,345.1 970.2,344.6 972.2,344 974.2,343.4 976.2,342.8 978.2,342.1 980.2,341.4 982.2,340.7 984.2,339.9 986.2,339.1 988.2,338.2 990.2,337.3 992.2,336.4 994.2,335.5 996.2,334.5 998.2,333.4 1000.2,332.2 1002.2,330.9 1004.2,329.5 1006.2,327.9 1008.2,326.2 1010.2,324.4 1012.2,322.6 1014.2,320.6 1016.2,318.5 1018.2,316.3 1020.2,314.1 1022.2,311.7 1024.2,309.3 1026.2,306.9 1028.2,304.3 1030.2,301.6 1032.2,298.6 1034.2,295.3 1036.2,291.6 1038.2,287.5 1040.2,282.9 1042.2,277.1 1044.2,270.1 1046.2,262.3 1048.2,254.1 1050.2,245.7 1052.2,236.4 1054.2,226.8 1056.2,217.3 1058.2,207.6 1060.2,199.5 1062.2,192.2 1064.2,187.7 1066.2,185.1 1068.2,184.5 1070.2,185.9 1072.2,188.2 1074.2,192.2 1076.2,197.8 1078.2,205.1 1080.2,216.4 1082.2,231.2 1084.2,247.2 1086.2,260.4 1088.2,272.3 1090.2,283.2 1090.7,285.7" fill="none" stroke="#33a02c" stroke-width="1.0" stroke-linejoin="round" marker-start="url(#mgreen)" marker-mid="url(#mgreen)" marker-end="url(#mgreen)"/>
<polyline points="675.3,341.5 676.6,341.8 677.9,341.2 679.2,342.5 680.5,343.7 681.8,343.3 683.1,344 684.4,344.7 685.7,342.4 687,346.2 688.3,347.3 689.6,346.4 690.9,346.8 692.2,345.1 693.5,346.6 694.8,346.4 696.1,347 697.4,348.5 698.7,347.5 700,348.4 701.3,347.4 702.6,349 703.9,349.5 705.2,349.3 706.5,349.6 707.8,351.5 709.1,349.8 710.4,350.2 711.7,350.6 713,352.1 714.3,352.8 715.6,352 716.9,351.7 718.2,352.1 719.5,353.1 720.8,352.3 722.1,353.7 723.4,353.9 724.7,353.4 726,353.9 727.3,354.1 728.6,354.7 729.9,353.7 731.2,354.8 732.5,354.3 733.8,354.3 735.1,354.9 736.4,354.9 737.7,354.8 739,354.7 740.3,355.1 741.6,356.2 742.9,356.6 744.2,356.2 745.5,356.6 746.8,356.1 748.1,356.4 749.4,356.7 750.7,356.3 752,356.5 753.3,357 754.6,357 755.9,356.9 757.2,357.6 758.5,357.5 759.8,358 761.1,357.9" fill="none" stroke="#17c8cf" stroke-width="0.35" stroke-linejoin="round" marker-start="url(#mcyan)" marker-mid="url(#mcyan)" marker-end="url(#mcyan)"/>
<polyline points="761.1,357.9 762.4,357.9 763.7,358.2 765,358.2 766.3,358.2 767.6,358.5 768.9,358.9 770.2,359.1 771.5,359.4 772.8,358.7 774.1,359.2 775.4,359.3 776.7,359.6 778,359.6 779.3,359.7 780.6,360.1 781.9,360.1 783.2,359.8 784.5,360.6 785.8,360.6 787.1,360.3 788.4,360.8 789.7,360.4 791,361 792.3,360.7 793.6,360.6 794.9,360.8 796.2,360.7 797.5,361 798.8,361 800.1,361 801.4,360.9 802.7,360.2 804,361.1 805.3,360.7 806.6,361.2 807.9,361.4 809.2,361.3 810.5,361.1 811.8,361.2 813.1,361.2 814.4,361.2 815.7,361.2 817,361.1 818.3,361.6 819.6,361.4 820.9,361.6 822.2,361.3 823.5,361.4 824.8,361.4 826.1,361.5 827.4,361.6 828.7,361.5 830,361.3 831.3,361.3 832.6,361.8 833.9,361.4 835.2,361.4 836.5,361.8 837.8,361.7 839.1,361.6 840.4,361.4 841.7,362 843,361.6 844.3,361.6 845.6,361.4 846.9,361.1 848.2,361.1 849.5,361.5 850.8,361.5 852.1,361.3 853.4,361 854.7,361 856,361.1 857.3,360.9 858.6,361.3 859.9,361.3 861.2,361.6 862.5,361.1 863.8,360.8 865.1,360.7 866.4,360.1 867.7,360.6 869,360.6 870.3,360.8 871.6,360.7 872.9,360.6 874.2,360.5 875.5,360.5 876.8,360.6 878.1,360 879.4,360.1 880.7,359.8 882,360.4 883.3,360.2 884.6,360.1 885.9,359.6 887.2,359.8 888.5,359.7 889.8,359.6 891.1,359.5 892.4,359.6 893.7,359.3 895,359.5 896.3,359.3 897.6,359.1 898.9,359 900.2,359 901.5,358.9 902.8,358.8 904.1,358.7 905.4,358.6 906.7,358.5 908,358.4 909.3,358.3 910.6,358.2 911.9,358.1 913.2,358 914.5,357.9 915.8,357.8 917.1,357.7 918.4,357.6 919.7,357.5 921,357.3 922.3,357.2 923.6,357.1 924.9,357 926.2,356.9 928.2,356.7 930.2,356.5 932.2,356.2 934.2,356 936.2,355.8 938.2,355.5 940.2,355.2 942.2,355 944.2,354.7 946.2,354.4 948.2,354.2 950.2,353.9 952.2,353.6 954.2,353.3 956.2,353 958.2,352.7 960.2,352.5 962.2,352.2 964.2,351.9 966.2,351.7 968.2,351.4 970.2,351.2 972.2,351 974.2,350.7 976.2,350.5 978.2,350.2 980.2,349.9 982.2,349.7 984.2,349.4 986.2,349.1 988.2,348.7 990.2,348.4 992.2,348 994.2,347.6 996.2,347.2 998.2,346.7 1000.2,346.2 1002.2,345.7 1004.2,345 1006.2,344.3 1008.2,343.6 1010.2,342.8 1012.2,341.9 1014.2,341 1016.2,340 1018.2,339 1020.2,337.9 1022.2,336.8 1024.2,335.6 1026.2,334.4 1028.2,333.1 1030.2,331.7 1032.2,330.1 1034.2,328.3 1036.2,326.2 1038.2,323.9 1040.2,321.3 1042.2,318.3 1044.2,314.2 1046.2,309 1048.2,302.8 1050.2,295.7 1052.2,287.8 1054.2,278 1056.2,265.8 1058.2,249.9 1060.2,226.9 1062.2,201.7 1064.2,173.7 1066.2,142.8 1068.2,112 1070.2,88.4 1072.2,76.4 1074.2,89.8 1076.2,116.3 1078.2,149.1 1080.2,185.9 1082.2,224 1084.2,246.3 1086.2,263.9 1088.2,281.1 1090.2,303.5 1090.7,309.8" fill="none" stroke="#17c8cf" stroke-width="1.0" stroke-linejoin="round" marker-start="url(#mcyan)" marker-mid="url(#mcyan)" marker-end="url(#mcyan)"/>
<polyline points="675.3,351.1 676.6,350.6 677.9,351.8 679.2,351.1 680.5,353.2 681.8,351.8 683.1,349.6 684.4,354.4 685.7,353.3 687,352.3 688.3,353.8 689.6,353.5 690.9,356.8 692.2,355.6 693.5,354 694.8,356.2 696.1,355.7 697.4,357.9 698.7,355.7 700,355.1 701.3,357 702.6,356.9 703.9,357 705.2,356.1 706.5,357.9 707.8,358.7 709.1,356.7 710.4,358.6 711.7,357.7 713,359.4 714.3,358.5 715.6,358.2 716.9,358.9 718.2,358.7 719.5,358.3 720.8,359 722.1,358.5 723.4,358 724.7,359.7 726,358.8 727.3,358.8 728.6,359.2 729.9,358.5 731.2,358.7 732.5,359.1 733.8,359.1 735.1,359.4 736.4,359.8 737.7,359.4 739,359.8 740.3,359.9 741.6,359.4 742.9,359.9 744.2,359.6 745.5,360.3 746.8,360.2 748.1,360.1 749.4,359.8 750.7,360.3 752,360.1 753.3,360.6 754.6,360.5 755.9,360.4 757.2,360.9 758.5,360.9 759.8,360.6 761.1,361.2" fill="none" stroke="#e31a1c" stroke-width="0.35" stroke-linejoin="round" marker-start="url(#mred)" marker-mid="url(#mred)" marker-end="url(#mred)"/>
<polyline points="761.1,361.2 762.4,360.9 763.7,360.9 765,361.1 766.3,361 767.6,361.1 768.9,361.2 770.2,361.7 771.5,361.7 772.8,361.4 774.1,361.9 775.4,361.6 776.7,361.7 778,361.9 779.3,361.8 780.6,362.3 781.9,361.9 783.2,361.6 784.5,362.2 785.8,361.8 787.1,361.9 788.4,361.3 789.7,362.2 791,362.2 792.3,362.2 793.6,362.3 794.9,362.4 796.2,362.1 797.5,362.3 798.8,361.9 800.1,362 801.4,362.3 802.7,362.2 804,361.8 805.3,362.2 806.6,362.1 807.9,361.9 809.2,362.2 810.5,362 811.8,361.8 813.1,361.9 814.4,362.5 815.7,361.8 817,362.1 818.3,362.2 819.6,362.2 820.9,361.8 822.2,362 823.5,362.1 824.8,362.3 826.1,362 827.4,361.9 828.7,362.3 830,362.3 831.3,362.2 832.6,362 833.9,362.2 835.2,362.1 836.5,362.3 837.8,361.8 839.1,362.1 840.4,362.1 841.7,361.9 843,362.1 844.3,362.1 845.6,362 846.9,362.1 848.2,361.7 849.5,361.9 850.8,361.9 852.1,361.8 853.4,361.9 854.7,361.4 856,361.3 857.3,361.5 858.6,361.5 859.9,361.7 861.2,361.3 862.5,360.9 863.8,361.2 865.1,360.7 866.4,360.5 867.7,361.2 869,360.6 870.3,360.6 871.6,360.4 872.9,360.6 874.2,360.2 875.5,360.2 876.8,359.7 878.1,359.5 879.4,360 880.7,359.9 882,359.6 883.3,359.4 884.6,359.3 885.9,359 887.2,359.3 888.5,359.1 889.8,358.9 891.1,358.8 892.4,358.8 893.7,358.6 895,358.5 896.3,358 897.6,358.2 898.9,358.4 900.2,357.8 901.5,357.7 902.8,357.6 904.1,357.4 905.4,357.3 906.7,357.2 908,357 909.3,356.9 910.6,356.8 911.9,356.6 913.2,356.5 914.5,356.3 915.8,356.2 917.1,356.1 918.4,355.9 919.7,355.8 921,355.6 922.3,355.5 923.6,355.3 924.9,355.2 926.2,355 928.2,354.8 930.2,354.6 932.2,354.4 934.2,354.2 936.2,354 938.2,353.7 940.2,353.5 942.2,353.3 944.2,353 946.2,352.8 948.2,352.5 950.2,352.2 952.2,352 954.2,351.7 956.2,351.3 958.2,351 960.2,350.7 962.2,350.3 964.2,349.9 966.2,349.5 968.2,349 970.2,348.6 972.2,348.1 974.2,347.5 976.2,347 978.2,346.4 980.2,345.8 982.2,345.2 984.2,344.5 986.2,343.8 988.2,343.1 990.2,342.3 992.2,341.5 994.2,340.7 996.2,339.9 998.2,339 1000.2,338 1002.2,337 1004.2,335.8 1006.2,334.6 1008.2,333.3 1010.2,331.9 1012.2,330.4 1014.2,328.8 1016.2,327.2 1018.2,325.5 1020.2,323.7 1022.2,321.8 1024.2,319.9 1026.2,317.9 1028.2,315.8 1030.2,313.4 1032.2,310.8 1034.2,308 1036.2,304.9 1038.2,301.5 1040.2,298 1042.2,293.8 1044.2,289 1046.2,284 1048.2,278.7 1050.2,273.5 1052.2,267.7 1054.2,261.9 1056.2,256.7 1058.2,252 1060.2,247.7 1062.2,244.8 1064.2,242.9 1066.2,242.4 1068.2,245.5 1070.2,250.4 1072.2,256.3 1074.2,263.7 1076.2,272 1078.2,281.7 1080.2,290.5 1082.2,298.3 1084.2,305.4 1086.2,311.6 1088.2,317.6 1090.2,324.6 1090.7,326.5" fill="none" stroke="#e31a1c" stroke-width="1.0" stroke-linejoin="round" marker-start="url(#mred)" marker-mid="url(#mred)" marker-end="url(#mred)"/>
<rect x="1086.9" y="221.1" width="5.2" height="5.2" fill="#6a3d9a"/>
<rect x="1088.1" y="238.6" width="5.2" height="5.2" fill="#6a3d9a"/>
<polygon points="1090.7,281.5 1091.8,284.2 1094.7,284.4 1092.5,286.3 1093.2,289.1 1090.7,287.6 1088.2,289.1 1088.9,286.3 1086.7,284.4 1089.6,284.2" fill="#33a02c"/>
<polygon points="1090.7,305.6 1091.8,308.3 1094.7,308.5 1092.5,310.4 1093.2,313.2 1090.7,311.7 1088.2,313.2 1088.9,310.4 1086.7,308.5 1089.6,308.3" fill="#17c8cf"/>
<rect x="639.6" y="29" width="478" height="383.4" fill="none" stroke="#000" stroke-width="1.2"/>
<line x1="675.57" y1="412.4" x2="675.57" y2="406.1" stroke="#000" stroke-width="1.2" />
<line x1="711.55" y1="412.4" x2="711.55" y2="409.6" stroke="#000" stroke-width="1.2" />
<line x1="732.59" y1="412.4" x2="732.59" y2="409.6" stroke="#000" stroke-width="1.2" />
<line x1="747.52" y1="412.4" x2="747.52" y2="409.6" stroke="#000" stroke-width="1.2" />
<line x1="759.1" y1="412.4" x2="759.1" y2="409.6" stroke="#000" stroke-width="1.2" />
<line x1="768.56" y1="412.4" x2="768.56" y2="409.6" stroke="#000" stroke-width="1.2" />
<line x1="776.56" y1="412.4" x2="776.56" y2="409.6" stroke="#000" stroke-width="1.2" />
<line x1="783.49" y1="412.4" x2="783.49" y2="409.6" stroke="#000" stroke-width="1.2" />
<line x1="789.61" y1="412.4" x2="789.61" y2="409.6" stroke="#000" stroke-width="1.2" />
<line x1="795.07" y1="412.4" x2="795.07" y2="406.1" stroke="#000" stroke-width="1.2" />
<line x1="831.05" y1="412.4" x2="831.05" y2="409.6" stroke="#000" stroke-width="1.2" />
<line x1="852.09" y1="412.4" x2="852.09" y2="409.6" stroke="#000" stroke-width="1.2" />
<line x1="867.02" y1="412.4" x2="867.02" y2="409.6" stroke="#000" stroke-width="1.2" />
<line x1="878.6" y1="412.4" x2="878.6" y2="409.6" stroke="#000" stroke-width="1.2" />
<line x1="888.06" y1="412.4" x2="888.06" y2="409.6" stroke="#000" stroke-width="1.2" />
<line x1="896.06" y1="412.4" x2="896.06" y2="409.6" stroke="#000" stroke-width="1.2" />
<line x1="902.99" y1="412.4" x2="902.99" y2="409.6" stroke="#000" stroke-width="1.2" />
<line x1="909.11" y1="412.4" x2="909.11" y2="409.6" stroke="#000" stroke-width="1.2" />
<line x1="914.57" y1="412.4" x2="914.57" y2="406.1" stroke="#000" stroke-width="1.2" />
<line x1="950.55" y1="412.4" x2="950.55" y2="409.6" stroke="#000" stroke-width="1.2" />
<line x1="971.59" y1="412.4" x2="971.59" y2="409.6" stroke="#000" stroke-width="1.2" />
<line x1="986.52" y1="412.4" x2="986.52" y2="409.6" stroke="#000" stroke-width="1.2" />
<line x1="998.1" y1="412.4" x2="998.1" y2="409.6" stroke="#000" stroke-width="1.2" />
<line x1="1007.56" y1="412.4" x2="1007.56" y2="409.6" stroke="#000" stroke-width="1.2" />
<line x1="1015.56" y1="412.4" x2="1015.56" y2="409.6" stroke="#000" stroke-width="1.2" />
<line x1="1022.49" y1="412.4" x2="1022.49" y2="409.6" stroke="#000" stroke-width="1.2" />
<line x1="1028.61" y1="412.4" x2="1028.61" y2="409.6" stroke="#000" stroke-width="1.2" />
<line x1="1034.07" y1="412.4" x2="1034.07" y2="406.1" stroke="#000" stroke-width="1.2" />
<line x1="1053.16" y1="412.4" x2="1053.16" y2="409.6" stroke="#000" stroke-width="1.2" />
<line x1="1067.08" y1="412.4" x2="1067.08" y2="409.6" stroke="#000" stroke-width="1.2" />
<line x1="1078.05" y1="412.4" x2="1078.05" y2="409.6" stroke="#000" stroke-width="1.2" />
<line x1="1087.09" y1="412.4" x2="1087.09" y2="409.6" stroke="#000" stroke-width="1.2" />
<line x1="1094.8" y1="412.4" x2="1094.8" y2="409.6" stroke="#000" stroke-width="1.2" />
<line x1="1101.5" y1="412.4" x2="1101.5" y2="409.6" stroke="#000" stroke-width="1.2" />
<line x1="1107.44" y1="412.4" x2="1107.44" y2="409.6" stroke="#000" stroke-width="1.2" />
<line x1="1112.77" y1="412.4" x2="1112.77" y2="409.6" stroke="#000" stroke-width="1.2" />
<text x="675.57" y="435.8" font-size="20.8" fill="#000" text-anchor="middle" >1M</text>
<text x="795.07" y="435.8" font-size="20.8" fill="#000" text-anchor="middle" >10M</text>
<text x="914.57" y="435.8" font-size="20.8" fill="#000" text-anchor="middle" >100M</text>
<text x="1034.07" y="435.8" font-size="20.8" fill="#000" text-anchor="middle" >1G</text>
<text x="1117.6" y="435.8" font-size="20.8" fill="#000" text-anchor="middle" >5G</text>
<line x1="639.6" y1="388.44" x2="642.4" y2="388.44" stroke="#000" stroke-width="1.2" />
<line x1="639.6" y1="340.51" x2="642.4" y2="340.51" stroke="#000" stroke-width="1.2" />
<line x1="639.6" y1="292.59" x2="642.4" y2="292.59" stroke="#000" stroke-width="1.2" />
<line x1="639.6" y1="244.66" x2="642.4" y2="244.66" stroke="#000" stroke-width="1.2" />
<line x1="639.6" y1="196.74" x2="642.4" y2="196.74" stroke="#000" stroke-width="1.2" />
<line x1="639.6" y1="148.81" x2="642.4" y2="148.81" stroke="#000" stroke-width="1.2" />
<line x1="639.6" y1="100.89" x2="642.4" y2="100.89" stroke="#000" stroke-width="1.2" />
<line x1="639.6" y1="52.96" x2="642.4" y2="52.96" stroke="#000" stroke-width="1.2" />
<line x1="639.6" y1="364.47" x2="645.9" y2="364.47" stroke="#000" stroke-width="1.2" />
<line x1="639.6" y1="316.55" x2="645.9" y2="316.55" stroke="#000" stroke-width="1.2" />
<line x1="639.6" y1="268.62" x2="645.9" y2="268.62" stroke="#000" stroke-width="1.2" />
<line x1="639.6" y1="220.7" x2="645.9" y2="220.7" stroke="#000" stroke-width="1.2" />
<line x1="639.6" y1="172.77" x2="645.9" y2="172.77" stroke="#000" stroke-width="1.2" />
<line x1="639.6" y1="124.85" x2="645.9" y2="124.85" stroke="#000" stroke-width="1.2" />
<line x1="639.6" y1="76.93" x2="645.9" y2="76.93" stroke="#000" stroke-width="1.2" />
<text x="630.8" y="418.1" font-size="20.8" fill="#000" text-anchor="end" >-10</text>
<text x="630.8" y="370.17" font-size="20.8" fill="#000" text-anchor="end" >0</text>
<text x="630.8" y="322.25" font-size="20.8" fill="#000" text-anchor="end" >10</text>
<text x="630.8" y="274.32" font-size="20.8" fill="#000" text-anchor="end" >20</text>
<text x="630.8" y="226.4" font-size="20.8" fill="#000" text-anchor="end" >30</text>
<text x="630.8" y="178.47" font-size="20.8" fill="#000" text-anchor="end" >40</text>
<text x="630.8" y="130.55" font-size="20.8" fill="#000" text-anchor="end" >50</text>
<text x="630.8" y="82.63" font-size="20.8" fill="#000" text-anchor="end" >60</text>
<text x="630.8" y="34.7" font-size="20.8" fill="#000" text-anchor="end" >70</text>
<text x="878.4" y="460.9" font-size="25" fill="#000" text-anchor="middle" >Frequency (Hz)</text>
<text x="597" y="220.5" font-size="24.5" fill="#000" text-anchor="middle" transform="rotate(-90 597 220.5)" >μ<tspan dy="-7" font-size="17">''</tspan></text>
<text x="575.3" y="37.4" font-size="41" fill="#000" text-anchor="start" >b</text>
<line x1="665" y1="134.5" x2="679.35" y2="134.5" stroke="#6a3d9a" stroke-width="2.1" />
<line x1="690.25" y1="134.5" x2="705" y2="134.5" stroke="#6a3d9a" stroke-width="2.1" />
<circle cx="684.8" cy="134.5" r="4.15" fill="url(#gpurple)"/>
<text x="708.7" y="140.2" font-size="17" fill="#000" text-anchor="start" >CP-PA&amp;SR</text>
<line x1="665" y1="155.8" x2="679.35" y2="155.8" stroke="#1f78b4" stroke-width="2.1" />
<line x1="690.25" y1="155.8" x2="705" y2="155.8" stroke="#1f78b4" stroke-width="2.1" />
<circle cx="684.8" cy="155.8" r="4.15" fill="url(#gblue)"/>
<text x="708.7" y="161.5" font-size="17" fill="#000" text-anchor="start" >CS-H<tspan dy="4" font-size="11.8">2</tspan><tspan dy="-4">O</tspan></text>
<line x1="665" y1="180.8" x2="679.35" y2="180.8" stroke="#33a02c" stroke-width="2.1" />
<line x1="690.25" y1="180.8" x2="705" y2="180.8" stroke="#33a02c" stroke-width="2.1" />
<circle cx="684.8" cy="180.8" r="4.15" fill="url(#ggreen)"/>
<text x="708.7" y="186.5" font-size="17" fill="#000" text-anchor="start" >CS-AMT-Fe&amp;H<tspan dy="4" font-size="11.8">2</tspan><tspan dy="-4">O</tspan></text>
<line x1="665" y1="205.7" x2="679.35" y2="205.7" stroke="#17c8cf" stroke-width="2.1" />
<line x1="690.25" y1="205.7" x2="705" y2="205.7" stroke="#17c8cf" stroke-width="2.1" />
<circle cx="684.8" cy="205.7" r="4.15" fill="url(#gcyan)"/>
<text x="708.7" y="211.4" font-size="17" fill="#000" text-anchor="start" >CS-AMT-Am&amp;H<tspan dy="4" font-size="11.8">2</tspan><tspan dy="-4">O</tspan></text>
<line x1="665" y1="230.7" x2="675.7" y2="230.7" stroke="#e31a1c" stroke-width="2.1" />
<line x1="693.9" y1="230.7" x2="705" y2="230.7" stroke="#e31a1c" stroke-width="2.1" />
<circle cx="684.8" cy="230.7" r="6.9" fill="url(#gred)"/>
<text x="708.7" y="236.4" font-size="17" fill="#000" text-anchor="start" >CS-AMT&amp;H<tspan dy="4" font-size="11.8">2</tspan><tspan dy="-4">O</tspan></text>
<polyline points="1237.5,253.5 1238.5,255.4 1239.5,249.6 1240.5,251.4 1241.5,250.5 1242.5,249.4 1243.5,244.5 1244.5,248 1245.5,244.2 1246.5,243 1247.5,242.5 1248.5,243.4 1249.5,242.2 1250.5,241.5 1251.5,243.2 1252.5,240.1 1253.5,239.5 1254.5,241.5 1255.5,241.1 1256.5,241.3 1257.5,238.6 1258.5,240.7 1259.5,239.8 1260.5,240.8 1261.5,237.8 1262.5,239 1263.5,238.4 1264.5,237.3 1265.5,237.8 1266.5,238.6 1267.5,237.8 1268.5,237.7" fill="none" stroke="#6a3d9a" stroke-width="0.35" stroke-linejoin="round" marker-start="url(#mpurples)" marker-mid="url(#mpurples)" marker-end="url(#mpurples)"/>
<polyline points="1268.5,237.7 1269.8,237.6 1271.1,237.4 1272.4,237.2 1273.7,236.7 1275,236.5 1276.3,236.4 1277.6,235.9 1278.9,235.7 1280.2,235.6 1281.5,235.4 1282.8,234.8 1284.1,234.4 1285.4,234.3 1286.7,234.1 1288,233.9 1289.3,233.8 1290.6,233.4 1291.9,233.1 1293.2,233 1294.5,232.6 1295.8,232.4 1297.1,232 1298.4,232 1299.7,231.5 1301,231 1302.3,230.7 1303.6,230.5 1304.9,230.1 1306.2,230 1307.5,229.9 1308.8,230 1310.1,229.9 1311.4,229.9 1312.7,230 1314,230.2 1315.3,230.6 1316.6,230.8 1317.9,231.2 1319.2,231.4 1320.5,231.9 1321.8,232.1 1323.1,232.5 1324.4,232.6 1325.7,233 1327,233.6 1328.3,234 1329.6,234.2 1330.9,234.5 1332.2,234.8 1333.5,235.1 1334.8,235.5 1336.1,236 1337.4,236.3 1338.7,236.6 1340,237 1341.3,237.5 1342.6,237.9 1343.9,238.2 1345.2,238.8 1346.5,239.1 1347.8,239.5 1349.1,240.1 1350.4,240.4 1351.7,240.8 1353,241.3 1354.3,241.5 1355.6,242 1356.9,242.3 1358.2,243.2 1359.5,243.3 1360.8,244.1 1362.1,244.4 1363.4,244.9 1364.7,245.5 1366,246 1367.3,246.5 1368.6,247.1 1369.9,247.5 1371.2,248 1372.5,248.4 1373.8,249 1375.1,249.4 1376.4,249.8 1377.7,250.3 1379,250.8 1380.3,251.2 1381.6,251.7 1382.9,252.1 1384.2,252.5 1385.5,253.1 1386.8,253.3 1388.1,253.9 1389.4,254.5 1390.7,254.6 1392,255.2 1393.3,255.8 1394.6,256 1395.9,256.9 1397.2,256.8 1398.5,257.6 1399.8,258 1401.1,258.4 1402.4,258.7 1403.7,259.1 1405,259.4 1406.3,260 1407.6,260.2 1408.9,260.6 1410.2,261.1 1411.5,261.3 1412.8,261.8 1414.1,262.2 1415.4,262.4 1416.7,263.1 1418,263.4 1419.3,263.5 1420.6,264 1421.9,264.3 1423.2,264.7 1424.5,265.1 1425.8,265.4 1427.1,265.9 1428.4,266 1429.7,266.5 1431,266.7 1432.3,267.1 1433.6,267.2 1434.9,267.4 1436.2,267.6 1437.5,268.1 1438.8,268.3 1440.1,268.7 1441.4,268.8 1442.7,269 1444,269.1 1445.3,269.4 1446.6,269.6 1447.9,269.9 1449.2,270.1 1450.5,270.1 1451.8,270.3 1453.1,270.7 1454.4,270.8 1455.7,270.9 1457,271.3 1458.3,271.3 1459.6,271.5 1460.9,271.6 1462.2,271.7 1463.5,272.1 1464.8,272.1 1466.1,272.3 1467.4,272.4 1468.7,272.8 1470,272.8 1471.3,273 1472.6,273 1473.9,273.3 1475.2,273.3 1476.5,273.6 1477.8,273.8 1479.1,273.9 1480.4,274.2 1481.7,274.2 1483,274.3 1484.3,274.4 1485.6,274.5 1486.9,274.8 1488.2,274.9 1490.2,274.8 1492.2,275.3 1494.2,275.4 1496.2,275.6 1498.2,275.7 1500.2,275.7 1502.2,275.9 1504.2,276.4 1506.2,276.4 1508.2,276.3 1510.2,276.7 1512.2,276.7 1514.2,276.7 1516.2,276.8 1518.2,277 1520.2,277.4 1522.2,277.5 1524.2,277.6 1526.2,277.8 1528.2,278 1530.2,277.9 1532.2,278.2 1534.2,278.3 1536.2,278.4 1538.2,278.6 1540.2,278.8 1542.2,278.9 1544.2,279 1546.2,279.2 1548.2,279.6 1550.2,279.5 1552.2,279.6 1554.2,279.9 1556.2,280.1 1558.2,280.3 1560.2,280.3 1562.2,280.7 1564.2,280.7 1566.2,280.8 1568.2,281.1 1570.2,281.3 1572.2,281.6 1574.2,281.8 1576.2,281.9 1578.2,282.2 1580.2,282.3 1582.2,282.6 1584.2,282.6 1586.2,282.8 1588.2,283.2 1590.2,283.2 1592.2,283.6 1594.2,283.8 1596.2,284.1 1598.2,284.3 1600.2,284.8 1602.2,284.7 1604.2,285.3 1606.2,285.7 1608.2,285.7 1610.2,285.9 1612.2,286.2 1614.2,286.5 1616.2,286.3 1618.2,286.5 1620.2,286.5 1622.2,286.5 1624.2,286.5 1626.2,286.5 1628.2,286.3 1630.2,286.2 1632.2,286.1 1634.2,285.9 1636.2,285.8 1638.2,285.7 1640.2,285.4 1642.2,285.1 1644.2,284 1646.2,282.6 1648.2,281.3 1650.2,279.4 1652.2,277.8 1653,277" fill="none" stroke="#6a3d9a" stroke-width="1.0" stroke-linejoin="round" marker-start="url(#mpurple)" marker-mid="url(#mpurple)" marker-end="url(#mpurple)"/>
<polyline points="1237.5,233.9 1238.5,232.8 1239.5,228.8 1240.5,230.8 1241.5,238.9 1242.5,219.3 1243.5,228.7 1244.5,229.5 1245.5,222.2 1246.5,220 1247.5,234.8 1248.5,222.8 1249.5,232.8 1250.5,225.1 1251.5,222.3 1252.5,223.2 1253.5,223 1254.5,224.6 1255.5,220.4 1256.5,218.2 1257.5,217.5 1258.5,221.7 1259.5,218.4 1260.5,209.3 1261.5,209.9 1262.5,213.1 1263.5,207.9 1264.5,207.9 1265.5,204.3 1266.5,206.2 1267.5,208.2 1268.5,209.7 1269.5,204.3 1270.5,212.4 1271.5,201.9 1272.5,215.3 1273.5,204.8 1274.5,201.7 1275.5,196.5 1276.5,185.4 1277.5,196.4 1278.5,197.1 1279.5,204 1280.5,188.7 1281.5,202.4 1282.5,192.2 1283.5,195.8 1284.5,180.8 1285.5,191.9 1286.5,189.1 1287.5,192.9 1288.5,189.7 1289.5,183.7 1290.5,192.1 1291.5,190.3 1292.5,189.3 1293.5,190.3 1294.5,190.1 1295.5,184.7 1296.5,178.5 1297.5,177.7 1298.5,188 1299.5,184.7 1300.5,181.5 1301.5,178.7 1302.5,179.8 1303.5,179.2 1304.5,177.3 1305.5,175.5 1306.5,185.7 1307.5,178.3 1308.5,175.1 1309.5,172.7 1310.5,174.8 1311.5,179.9 1312.5,180.2 1313.5,177 1314.5,178.1 1315.5,177.2 1316.5,174.9 1317.5,182.9 1318.5,180.2 1319.5,186.9 1320.5,177.3 1321.5,179.5 1322.5,182.8 1323.5,179.8 1324.5,176.9 1325.5,178.6 1326.5,181.8 1327.5,182.8 1328.5,182.1 1329.5,185.3 1330.5,185.7 1331.5,184.5 1332.5,184.3 1333.5,184.2 1334.5,186.5 1335.5,187.8 1336.5,186.7 1337.5,188.1 1338.5,187.4 1339.5,186.4 1340.5,188 1341.5,191.7 1342.5,192 1343.5,194.4 1344.5,193.3 1345.5,195 1346.5,196.1 1347.5,196.5 1348.5,196.9" fill="none" stroke="#1f78b4" stroke-width="0.35" stroke-linejoin="round" marker-start="url(#mblues)" marker-mid="url(#mblues)" marker-end="url(#mblues)"/>
<polyline points="1348.5,196.9 1349.8,198.2 1351.1,199.5 1352.4,200.7 1353.7,202.2 1355,203.6 1356.3,204.8 1357.6,206.4 1358.9,207.5 1360.2,208.8 1361.5,210.1 1362.8,211.4 1364.1,212.8 1365.4,214.1 1366.7,215.6 1368,216.8 1369.3,218.1 1370.6,219.3 1371.9,220.5 1373.2,221.9 1374.5,223.1 1375.8,224.6 1377.1,225.8 1378.4,227.2 1379.7,228.3 1381,229.5 1382.3,230.7 1383.6,231.9 1384.9,233.2 1386.2,234.4 1387.5,235.4 1388.8,236.7 1390.1,238.1 1391.4,239 1392.7,240.1 1394,241.2 1395.3,242.2 1396.6,243.5 1397.9,244.5 1399.2,245.6 1400.5,246.8 1401.8,247.9 1403.1,248.6 1404.4,249.9 1405.7,250.8 1407,251.8 1408.3,252.8 1409.6,253.7 1410.9,254.8 1412.2,255.6 1413.5,256.5 1414.8,257.4 1416.1,258.2 1417.4,258.9 1418.7,259.7 1420,260.6 1421.3,261.2 1422.6,261.8 1423.9,262.5 1425.2,263.2 1426.5,263.8 1427.8,264.5 1429.1,265.2 1430.4,265.5 1431.7,266.3 1433,266.9 1434.3,267.3 1435.6,267.7 1436.9,268.3 1438.2,268.6 1439.5,268.9 1440.8,269.3 1442.1,269.8 1443.4,270.3 1444.7,270.7 1446,271 1447.3,271.2 1448.6,271.6 1449.9,271.9 1451.2,272.3 1452.5,272.4 1453.8,272.9 1455.1,273.3 1456.4,273.5 1457.7,273.8 1459,274 1460.3,274.2 1461.6,274.6 1462.9,275.1 1464.2,275.3 1465.5,275.5 1466.8,275.9 1468.1,276.1 1469.4,276.5 1470.7,276.7 1472,276.9 1473.3,277.3 1474.6,277.4 1475.9,277.7 1477.2,277.9 1478.5,278.3 1479.8,278.6 1481.1,278.8 1482.4,279 1483.7,279.5 1485,279.5 1486.3,279.7 1487.6,280.2 1489.6,280.5 1491.6,280.7 1493.6,280.8 1495.6,281.2 1497.6,281.6 1499.6,281.8 1501.6,282.2 1503.6,282.1 1505.6,282.5 1507.6,282.6 1509.6,283 1511.6,283 1513.6,283.3 1515.6,283.3 1517.6,283.4 1519.6,283.6 1521.6,283.8 1523.6,283.9 1525.6,284.3 1527.6,284.4 1529.6,284.5 1531.6,284.4 1533.6,284.7 1535.6,284.7 1537.6,285.1 1539.6,285.1 1541.6,285.2 1543.6,285.2 1545.6,285.2 1547.6,285.4 1549.6,285.4 1551.6,285.7 1553.6,285.7 1555.6,285.7 1557.6,285.8 1559.6,286.1 1561.6,285.9 1563.6,285.9 1565.6,286 1567.6,286 1569.6,286.1 1571.6,286.2 1573.6,286.4 1575.6,286.1 1577.6,286.3 1579.6,286.3 1581.6,286.3 1583.6,286.4 1585.6,286.4 1587.6,286.6 1589.6,286.5 1591.6,286.6 1593.6,286.6 1595.6,286.7 1597.6,286.7 1599.6,286.9 1601.6,286.9 1603.6,287 1605.6,287 1607.6,287 1609.6,287.1 1611.6,287.1 1613.6,287.3 1615.6,287.3 1617.6,287.3 1619.6,287.4 1621.6,287.5 1623.6,287.3 1625.6,287.7 1627.6,287.6 1629.6,287.6 1631.6,287.7 1633.6,287.7 1635.6,287.6 1637.6,287.9 1639.6,287.6 1641.6,287.6 1643.6,287 1645.6,285.6 1647.6,284.1 1649.6,282.4 1651.1,281.2" fill="none" stroke="#1f78b4" stroke-width="1.0" stroke-linejoin="round" marker-start="url(#mblue)" marker-mid="url(#mblue)" marker-end="url(#mblue)"/>
<polyline points="1237.5,261.9 1238.5,264 1239.5,265.7 1240.5,263.4 1241.5,258.8 1242.5,263.3 1243.5,261.8 1244.5,262.4 1245.5,263.9 1246.5,263 1247.5,260.6 1248.5,259.8 1249.5,254.9 1250.5,257.3 1251.5,257.9 1252.5,255.4 1253.5,256.4 1254.5,253 1255.5,259.8 1256.5,261.1 1257.5,252.7 1258.5,254.6 1259.5,252.1 1260.5,256.2 1261.5,253 1262.5,251.4 1263.5,249.9 1264.5,250.4 1265.5,246.4 1266.5,251 1267.5,246.1 1268.5,249.4 1269.5,247.6 1270.5,250 1271.5,246 1272.5,248.7 1273.5,242.1 1274.5,246.3 1275.5,243.1 1276.5,243.9 1277.5,242.9 1278.5,245 1279.5,235.3 1280.5,242 1281.5,235.8 1282.5,243.6 1283.5,233.2 1284.5,235.6 1285.5,233 1286.5,242.7 1287.5,233 1288.5,236.8 1289.5,234.2 1290.5,229.7 1291.5,233.6 1292.5,236.1 1293.5,232.9 1294.5,235.8 1295.5,231.1 1296.5,231.7 1297.5,229.8 1298.5,231.5 1299.5,235.6 1300.5,230.2 1301.5,229.1 1302.5,225.9 1303.5,224.9 1304.5,231.1 1305.5,222.5 1306.5,222.4 1307.5,224.3 1308.5,222.6 1309.5,229.3 1310.5,215.2 1311.5,223 1312.5,223.4 1313.5,217 1314.5,217.8 1315.5,220.4 1316.5,223.4 1317.5,214.7 1318.5,211.9 1319.5,219.1 1320.5,220 1321.5,213.5 1322.5,206.9 1323.5,217.5 1324.5,211.5 1325.5,214.8 1326.5,210.3 1327.5,208.4 1328.5,207.2 1329.5,212.3 1330.5,211.2 1331.5,199.2 1332.5,202 1333.5,209.5 1334.5,201.9 1335.5,197.8 1336.5,201.1 1337.5,199.8 1338.5,198.9 1339.5,196.8 1340.5,196.3 1341.5,195 1342.5,196.5 1343.5,192 1344.5,192.8 1345.5,192.3 1346.5,195.9 1347.5,192 1348.5,189.6 1349.5,190.7 1350.5,189.4 1351.5,190.5 1352.5,187.8 1353.5,190.9 1354.5,188.6 1355.5,183.5 1356.5,181.4 1357.5,184.6 1358.5,182.7 1359.5,180 1360.5,174.9 1361.5,173 1362.5,178.8 1363.5,179.2 1364.5,178.4 1365.5,171.4 1366.5,177.3 1367.5,171.9 1368.5,173.7 1369.5,173 1370.5,168.8 1371.5,168.6 1372.5,163.9 1373.5,166.5 1374.5,163.5 1375.5,169.1 1376.5,167.7 1377.5,169.6 1378.5,167.9 1379.5,165.2 1380.5,167.5 1381.5,165.5 1382.5,167.8 1383.5,167 1384.5,163.7 1385.5,165.9 1386.5,165.9 1387.5,165 1388.5,167.6 1389.5,169.3 1390.5,164.6 1391.5,164.6 1392.5,160.5 1393.5,164.9 1394.5,164.3 1395.5,160.8 1396.5,165.7 1397.5,166.2 1398.5,163.9 1399.5,164.9 1400.5,164.3 1401.5,168 1402.5,164.7 1403.5,167.6 1404.5,172.1 1405.5,169.8 1406.5,171.3 1407.5,171.2 1408.5,170.7 1409.5,173.5 1410.5,175.3 1411.5,174.8 1412.5,177.8 1413.5,180.1 1414.5,181.1 1415.5,179.8 1416.5,181.7 1417.5,182.5 1418.5,185.5 1419.5,186.3 1420.5,187.4" fill="none" stroke="#33a02c" stroke-width="0.35" stroke-linejoin="round" marker-start="url(#mgreens)" marker-mid="url(#mgreens)" marker-end="url(#mgreens)"/>
<polyline points="1420.5,187.4 1421.8,188.9 1423.1,190.5 1424.4,192.2 1425.7,193.8 1427,195.3 1428.3,196.9 1429.6,198.4 1430.9,199.7 1432.2,200.9 1433.5,202.1 1434.8,203.4 1436.1,204.5 1437.4,205.3 1438.7,206.1 1440,206.9 1441.3,207.8 1442.6,208.7 1443.9,209.7 1445.2,210.7 1446.5,212.2 1447.8,213.8 1449.1,215.3 1450.4,216.9 1451.7,218.7 1453,220.5 1454.3,221.9 1455.6,223.4 1456.9,224.5 1458.2,225.8 1459.5,227 1460.8,228.3 1462.1,229.7 1463.4,230.8 1464.7,231.9 1466,233.1 1467.3,234.1 1468.6,235.1 1469.9,236.2 1471.2,237.2 1472.5,238.2 1473.8,239.1 1475.1,240 1476.4,240.8 1477.7,241.7 1479,242.5 1480.3,243.5 1481.6,244 1482.9,245 1484.2,246.1 1485.5,246.6 1486.8,247.3 1488.1,248.2 1490.1,249.5 1492.1,250.5 1494.1,251.7 1496.1,252.7 1498.1,253.6 1500.1,254.9 1502.1,255.4 1504.1,256.2 1506.1,257 1508.1,257.8 1510.1,258.5 1512.1,259.3 1514.1,259.9 1516.1,260.4 1518.1,261.3 1520.1,261.8 1522.1,262.5 1524.1,263 1526.1,263.7 1528.1,264.3 1530.1,265 1532.1,265.4 1534.1,266.2 1536.1,266.8 1538.1,267.2 1540.1,267.8 1542.1,268.4 1544.1,269.1 1546.1,269.3 1548.1,270 1550.1,270.4 1552.1,271 1554.1,271.7 1556.1,272 1558.1,272.6 1560.1,273 1562.1,273.8 1564.1,274.1 1566.1,274.6 1568.1,274.8 1570.1,275.3 1572.1,276 1574.1,276.3 1576.1,276.7 1578.1,277.2 1580.1,277.5 1582.1,278.1 1584.1,278.5 1586.1,279 1588.1,279.3 1590.1,279.9 1592.1,280.2 1594.1,280.8 1596.1,281.3 1598.1,281.8 1600.1,282.2 1602.1,282.7 1604.1,282.8 1606.1,283.6 1608.1,284 1610.1,284.5 1612.1,285 1614.1,285.4 1616.1,286.1 1618.1,286.9 1620.1,287.4 1622.1,287.6 1624.1,287.6 1626.1,287.6 1628.1,286.8 1630.1,286.5 1632.1,285.6 1634.1,284.8 1636.1,284.3 1638.1,283.5 1640.1,282.3 1642.1,281.7 1644.1,280.5 1646.1,279.6 1648.1,278.2 1650.1,276.8 1652.1,275.5 1654.1,274.1" fill="none" stroke="#33a02c" stroke-width="1.0" stroke-linejoin="round" marker-start="url(#mgreen)" marker-mid="url(#mgreen)" marker-end="url(#mgreen)"/>
<polyline points="1237.5,276.4 1238.5,274.9 1239.5,271.5 1240.5,268.4 1241.5,267.2 1242.5,267.5 1243.5,265.5 1244.5,266.7 1245.5,259.8 1246.5,267.3 1247.5,266.3 1248.5,273.4 1249.5,267.8 1250.5,263.8 1251.5,266.4 1252.5,260.8 1253.5,262.2 1254.5,258.2 1255.5,267.4 1256.5,264.5 1257.5,259 1258.5,261.8 1259.5,264.4 1260.5,262.6 1261.5,261.9 1262.5,257.9 1263.5,258.2 1264.5,259.9 1265.5,261.9 1266.5,256.4 1267.5,255.2 1268.5,261.4 1269.5,255 1270.5,260.4 1271.5,257.6 1272.5,259.1 1273.5,261.2 1274.5,257.8 1275.5,257.7 1276.5,252.4 1277.5,252.7 1278.5,256.2 1279.5,258.4 1280.5,257.6 1281.5,259.9 1282.5,253.7 1283.5,253 1284.5,254.9 1285.5,251.6 1286.5,251 1287.5,247.7 1288.5,253.2 1289.5,246.8 1290.5,250.9 1291.5,244.9 1292.5,251.7 1293.5,245.1 1294.5,250 1295.5,242.4 1296.5,245.2 1297.5,249.3 1298.5,243 1299.5,244.9 1300.5,242.6 1301.5,236.7 1302.5,243.6 1303.5,243.3 1304.5,238.2 1305.5,242.4 1306.5,237.8 1307.5,236.6 1308.5,238.9 1309.5,236.3 1310.5,244.3 1311.5,232.6 1312.5,238.8 1313.5,239 1314.5,230 1315.5,230.3 1316.5,236.6 1317.5,233.2 1318.5,235.3 1319.5,237.2 1320.5,232.4 1321.5,230.1 1322.5,224.9 1323.5,233.1 1324.5,229.4 1325.5,232.7 1326.5,232.1 1327.5,227 1328.5,235.5 1329.5,233.2 1330.5,232 1331.5,225.6 1332.5,227.3 1333.5,226.1 1334.5,225.7 1335.5,222.8 1336.5,226.3 1337.5,224.7 1338.5,224.1 1339.5,220.5 1340.5,224.7 1341.5,220.5 1342.5,211.1 1343.5,216.2 1344.5,217.1 1345.5,219.3 1346.5,215 1347.5,214.6 1348.5,212.9 1349.5,216.3 1350.5,212.6 1351.5,211.7 1352.5,210.9 1353.5,214.3 1354.5,210.8 1355.5,207.1 1356.5,213.3 1357.5,209.1 1358.5,211.8 1359.5,211.4 1360.5,213.3 1361.5,212.3 1362.5,207.1 1363.5,207.7 1364.5,203.8 1365.5,211.7 1366.5,207.5 1367.5,209.6 1368.5,204.1 1369.5,198.7 1370.5,208 1371.5,203.5 1372.5,203.1 1373.5,202.4 1374.5,203.5 1375.5,202.9 1376.5,197 1377.5,203.7 1378.5,199.4 1379.5,199.5 1380.5,205 1381.5,202.8 1382.5,199.6 1383.5,195.9 1384.5,200.7 1385.5,201.6 1386.5,200 1387.5,197.3 1388.5,198.3 1389.5,197.2 1390.5,200.5 1391.5,201.8 1392.5,202.2 1393.5,198.4 1394.5,200.4 1395.5,201.1 1396.5,198.9 1397.5,199.6 1398.5,204.1 1399.5,200.3 1400.5,201.6 1401.5,199.1 1402.5,200 1403.5,196.9 1404.5,199.9 1405.5,201.9 1406.5,203.4 1407.5,201.9 1408.5,201.3 1409.5,200.7 1410.5,200.2 1411.5,201.5 1412.5,203.2 1413.5,201.9 1414.5,204.8 1415.5,203.1 1416.5,202.8 1417.5,204.3 1418.5,204.2 1419.5,205.2 1420.5,208 1421.5,207.5 1422.5,208.3 1423.5,209.4 1424.5,209.8 1425.5,209.9" fill="none" stroke="#17c8cf" stroke-width="0.35" stroke-linejoin="round" marker-start="url(#mcyans)" marker-mid="url(#mcyans)" marker-end="url(#mcyans)"/>
<polyline points="1425.5,209.9 1426.8,210.9 1428.1,211.6 1429.4,212.3 1430.7,213.2 1432,213.8 1433.3,214.7 1434.6,215.6 1435.9,216.5 1437.2,217.3 1438.5,218.2 1439.8,219.2 1441.1,220.2 1442.4,221.1 1443.7,222.1 1445,222.9 1446.3,223.8 1447.6,224.8 1448.9,225.7 1450.2,226.6 1451.5,227.7 1452.8,228.4 1454.1,229.2 1455.4,230.1 1456.7,231.1 1458,231.8 1459.3,232.7 1460.6,233.4 1461.9,234.2 1463.2,235 1464.5,235.8 1465.8,236.8 1467.1,237.2 1468.4,238.3 1469.7,238.7 1471,239.5 1472.3,240.3 1473.6,240.9 1474.9,241.5 1476.2,242 1477.5,242.8 1478.8,243.3 1480.1,244.3 1481.4,244.6 1482.7,245.2 1484,245.7 1485.3,246.3 1486.6,246.8 1487.9,247.5 1489.9,248.2 1491.9,249 1493.9,249.5 1495.9,250.2 1497.9,251 1499.9,251.4 1501.9,251.9 1503.9,252.7 1505.9,253.1 1507.9,253.7 1509.9,254.4 1511.9,254.8 1513.9,255.6 1515.9,256 1517.9,256.7 1519.9,257.2 1521.9,257.6 1523.9,258.1 1525.9,258.6 1527.9,259.2 1529.9,259.8 1531.9,260 1533.9,260.7 1535.9,261 1537.9,261.5 1539.9,261.9 1541.9,262.7 1543.9,263 1545.9,263.4 1547.9,263.8 1549.9,264.4 1551.9,264.5 1553.9,265.1 1555.9,265.8 1557.9,266 1559.9,266.4 1561.9,266.9 1563.9,267.2 1565.9,267.6 1567.9,268.1 1569.9,268.4 1571.9,268.9 1573.9,269.2 1575.9,269.6 1577.9,270 1579.9,270.5 1581.9,270.8 1583.9,271.1 1585.9,271.3 1587.9,272 1589.9,272.4 1591.9,272.6 1593.9,272.9 1595.9,273.3 1597.9,273.9 1599.9,274.1 1601.9,274.5 1603.9,275 1605.9,275.5 1607.9,275.8 1609.9,276.3 1611.9,276.8 1613.9,277.6 1615.9,278.1 1617.9,278.6 1619.9,279.2 1621.9,280 1623.9,281 1625.9,281.8 1627.9,283.3 1629.9,284.9 1631.9,286.2 1633.9,286.5 1635.9,285.8 1637.9,284.4 1639.9,283 1641.9,281.8 1643.9,279.6 1645.9,277.6 1647.9,275.4 1649.9,272.6 1651.9,269.7 1652.6,268.6" fill="none" stroke="#17c8cf" stroke-width="1.0" stroke-linejoin="round" marker-start="url(#mcyan)" marker-mid="url(#mcyan)" marker-end="url(#mcyan)"/>
<polyline points="1237.5,260.8 1238.5,261.9 1239.5,262.6 1240.5,258 1241.5,260.7 1242.5,253.8 1243.5,257 1244.5,253.9 1245.5,256.1 1246.5,257.4 1247.5,257.9 1248.5,251 1249.5,257.5 1250.5,251.5 1251.5,249.3 1252.5,251.4 1253.5,246.8 1254.5,250.8 1255.5,251.1 1256.5,249 1257.5,250.7 1258.5,247.4 1259.5,247.8 1260.5,242.6 1261.5,246.5 1262.5,243 1263.5,243.6 1264.5,243.9 1265.5,244.1 1266.5,237.6 1267.5,237.1 1268.5,240.3 1269.5,242 1270.5,240.9 1271.5,241.8 1272.5,242.4 1273.5,239.2 1274.5,236.9 1275.5,233.1 1276.5,232.7 1277.5,233.6 1278.5,235.3 1279.5,234.5 1280.5,233.3 1281.5,232.2 1282.5,234.1 1283.5,232.2 1284.5,231.9 1285.5,231.4 1286.5,228.2 1287.5,226.1 1288.5,230.2 1289.5,229.4 1290.5,226.8 1291.5,225.6 1292.5,233.3 1293.5,223.2 1294.5,224.2 1295.5,225 1296.5,219.9 1297.5,223.1 1298.5,227.6 1299.5,224.2 1300.5,222.6 1301.5,221.7 1302.5,219.4 1303.5,221.3 1304.5,217 1305.5,215.4 1306.5,216.2 1307.5,217.9 1308.5,215.2 1309.5,215.4 1310.5,206.1 1311.5,215.2 1312.5,217.7 1313.5,213.6 1314.5,207.4 1315.5,204.5 1316.5,206.8 1317.5,201.5 1318.5,205.4 1319.5,200.2 1320.5,203.4 1321.5,203.2 1322.5,191.3 1323.5,197.2 1324.5,192.8 1325.5,189.4 1326.5,190.8 1327.5,191 1328.5,194 1329.5,185.3 1330.5,192.6 1331.5,194.9 1332.5,189.9 1333.5,189 1334.5,186.5 1335.5,182 1336.5,186.2 1337.5,184.5 1338.5,184.3 1339.5,188.6 1340.5,181.4 1341.5,178.9 1342.5,180.9 1343.5,170.3 1344.5,169.4 1345.5,170.1 1346.5,167.4 1347.5,169.6 1348.5,164.7 1349.5,169.5 1350.5,167.7 1351.5,164.6 1352.5,160.3 1353.5,162.8 1354.5,162.8 1355.5,156.6 1356.5,160.4 1357.5,160.9 1358.5,159 1359.5,162.3 1360.5,160.5 1361.5,153.9 1362.5,155.7 1363.5,152 1364.5,155.1 1365.5,150.2 1366.5,154.4 1367.5,152.4 1368.5,153.6 1369.5,150.6 1370.5,147.3 1371.5,155.7 1372.5,150.8 1373.5,154.9 1374.5,152.6 1375.5,153.3 1376.5,156.2 1377.5,152.7 1378.5,155.2 1379.5,148.4 1380.5,153.6 1381.5,150.8 1382.5,150.7 1383.5,150.5 1384.5,150.7 1385.5,152.9 1386.5,145.1 1387.5,148.5 1388.5,146.4 1389.5,149.7 1390.5,146.2 1391.5,147.5 1392.5,145.8 1393.5,147.6 1394.5,148.3 1395.5,146.3 1396.5,147.7 1397.5,146.2 1398.5,149.8 1399.5,151.6 1400.5,150.5 1401.5,153.8 1402.5,150.7 1403.5,152.2 1404.5,154.2 1405.5,156.6 1406.5,158.5 1407.5,159.7 1408.5,161.1 1409.5,163 1410.5,163.6 1411.5,164.8 1412.5,166.6" fill="none" stroke="#e31a1c" stroke-width="0.35" stroke-linejoin="round" marker-start="url(#mreds)" marker-mid="url(#mreds)" marker-end="url(#mreds)"/>
<polyline points="1412.5,166.6 1413.8,168.8 1415.1,170.2 1416.4,172.3 1417.7,174.2 1419,175.9 1420.3,177.5 1421.6,179.4 1422.9,181.2 1424.2,183 1425.5,184.5 1426.8,186.3 1428.1,188 1429.4,189.7 1430.7,191.4 1432,192.9 1433.3,194.4 1434.6,196.3 1435.9,198 1437.2,199.5 1438.5,201.1 1439.8,202.9 1441.1,204.2 1442.4,206 1443.7,207.5 1445,209.2 1446.3,210.9 1447.6,212.7 1448.9,214.2 1450.2,215.9 1451.5,217.4 1452.8,219.2 1454.1,220.7 1455.4,222.2 1456.7,223.4 1458,224.9 1459.3,226.3 1460.6,227.5 1461.9,228.9 1463.2,230.1 1464.5,231.2 1465.8,232.2 1467.1,233.6 1468.4,234.7 1469.7,235.8 1471,236.5 1472.3,237.6 1473.6,238.5 1474.9,239.6 1476.2,240.7 1477.5,241.6 1478.8,242.4 1480.1,243.3 1481.4,244.2 1482.7,244.9 1484,245.8 1485.3,246.5 1486.6,247.1 1487.9,248.1 1489.9,249.4 1491.9,250.4 1493.9,251.5 1495.9,252.5 1497.9,253.5 1499.9,254.6 1501.9,255.3 1503.9,256 1505.9,256.6 1507.9,257.6 1509.9,258.2 1511.9,259 1513.9,259.9 1515.9,260.6 1517.9,261 1519.9,261.9 1521.9,262.5 1523.9,263 1525.9,263.8 1527.9,264.1 1529.9,264.8 1531.9,265.4 1533.9,266 1535.9,266.8 1537.9,267.1 1539.9,267.7 1541.9,268.3 1543.9,269 1545.9,269.4 1547.9,270.1 1549.9,270.5 1551.9,270.9 1553.9,271.5 1555.9,272.1 1557.9,272.5 1559.9,273.1 1561.9,273.7 1563.9,273.9 1565.9,274.5 1567.9,275 1569.9,275.3 1571.9,275.7 1573.9,276.1 1575.9,276.7 1577.9,277.2 1579.9,277.5 1581.9,278 1583.9,278.5 1585.9,279 1587.9,279.2 1589.9,279.8 1591.9,280.2 1593.9,280.8 1595.9,281.1 1597.9,281.6 1599.9,282 1601.9,282.4 1603.9,283 1605.9,283.4 1607.9,284 1609.9,284.3 1611.9,284.9 1613.9,285.4 1615.9,286 1617.9,286.8 1619.9,287.2 1621.9,287.6 1623.9,287.6 1625.9,287.4 1627.9,286.7 1629.9,286 1631.9,285.2 1633.9,284.5 1635.9,283.6 1637.9,282.7 1639.9,281.8 1641.9,280.7 1643.9,279.6 1645.9,278.4 1647.9,277 1649.9,275.5 1651.9,274 1653.9,272.2" fill="none" stroke="#e31a1c" stroke-width="1.0" stroke-linejoin="round" marker-start="url(#mred)" marker-mid="url(#mred)" marker-end="url(#mred)"/>
<rect x="1201.6" y="32" width="478" height="383.1" fill="none" stroke="#000" stroke-width="1.2"/>
<line x1="1237.57" y1="415.1" x2="1237.57" y2="408.8" stroke="#000" stroke-width="1.2" />
<line x1="1273.55" y1="415.1" x2="1273.55" y2="412.3" stroke="#000" stroke-width="1.2" />
<line x1="1294.59" y1="415.1" x2="1294.59" y2="412.3" stroke="#000" stroke-width="1.2" />
<line x1="1309.52" y1="415.1" x2="1309.52" y2="412.3" stroke="#000" stroke-width="1.2" />
<line x1="1321.1" y1="415.1" x2="1321.1" y2="412.3" stroke="#000" stroke-width="1.2" />
<line x1="1330.56" y1="415.1" x2="1330.56" y2="412.3" stroke="#000" stroke-width="1.2" />
<line x1="1338.56" y1="415.1" x2="1338.56" y2="412.3" stroke="#000" stroke-width="1.2" />
<line x1="1345.49" y1="415.1" x2="1345.49" y2="412.3" stroke="#000" stroke-width="1.2" />
<line x1="1351.61" y1="415.1" x2="1351.61" y2="412.3" stroke="#000" stroke-width="1.2" />
<line x1="1357.07" y1="415.1" x2="1357.07" y2="408.8" stroke="#000" stroke-width="1.2" />
<line x1="1393.05" y1="415.1" x2="1393.05" y2="412.3" stroke="#000" stroke-width="1.2" />
<line x1="1414.09" y1="415.1" x2="1414.09" y2="412.3" stroke="#000" stroke-width="1.2" />
<line x1="1429.02" y1="415.1" x2="1429.02" y2="412.3" stroke="#000" stroke-width="1.2" />
<line x1="1440.6" y1="415.1" x2="1440.6" y2="412.3" stroke="#000" stroke-width="1.2" />
<line x1="1450.06" y1="415.1" x2="1450.06" y2="412.3" stroke="#000" stroke-width="1.2" />
<line x1="1458.06" y1="415.1" x2="1458.06" y2="412.3" stroke="#000" stroke-width="1.2" />
<line x1="1464.99" y1="415.1" x2="1464.99" y2="412.3" stroke="#000" stroke-width="1.2" />
<line x1="1471.11" y1="415.1" x2="1471.11" y2="412.3" stroke="#000" stroke-width="1.2" />
<line x1="1476.57" y1="415.1" x2="1476.57" y2="408.8" stroke="#000" stroke-width="1.2" />
<line x1="1512.55" y1="415.1" x2="1512.55" y2="412.3" stroke="#000" stroke-width="1.2" />
<line x1="1533.59" y1="415.1" x2="1533.59" y2="412.3" stroke="#000" stroke-width="1.2" />
<line x1="1548.52" y1="415.1" x2="1548.52" y2="412.3" stroke="#000" stroke-width="1.2" />
<line x1="1560.1" y1="415.1" x2="1560.1" y2="412.3" stroke="#000" stroke-width="1.2" />
<line x1="1569.56" y1="415.1" x2="1569.56" y2="412.3" stroke="#000" stroke-width="1.2" />
<line x1="1577.56" y1="415.1" x2="1577.56" y2="412.3" stroke="#000" stroke-width="1.2" />
<line x1="1584.49" y1="415.1" x2="1584.49" y2="412.3" stroke="#000" stroke-width="1.2" />
<line x1="1590.61" y1="415.1" x2="1590.61" y2="412.3" stroke="#000" stroke-width="1.2" />
<line x1="1596.07" y1="415.1" x2="1596.07" y2="408.8" stroke="#000" stroke-width="1.2" />
<line x1="1615.16" y1="415.1" x2="1615.16" y2="412.3" stroke="#000" stroke-width="1.2" />
<line x1="1629.08" y1="415.1" x2="1629.08" y2="412.3" stroke="#000" stroke-width="1.2" />
<line x1="1640.05" y1="415.1" x2="1640.05" y2="412.3" stroke="#000" stroke-width="1.2" />
<line x1="1649.09" y1="415.1" x2="1649.09" y2="412.3" stroke="#000" stroke-width="1.2" />
<line x1="1656.8" y1="415.1" x2="1656.8" y2="412.3" stroke="#000" stroke-width="1.2" />
<line x1="1663.5" y1="415.1" x2="1663.5" y2="412.3" stroke="#000" stroke-width="1.2" />
<line x1="1669.44" y1="415.1" x2="1669.44" y2="412.3" stroke="#000" stroke-width="1.2" />
<line x1="1674.77" y1="415.1" x2="1674.77" y2="412.3" stroke="#000" stroke-width="1.2" />
<text x="1237.57" y="437.8" font-size="20.8" fill="#000" text-anchor="middle" >1M</text>
<text x="1357.07" y="437.8" font-size="20.8" fill="#000" text-anchor="middle" >10M</text>
<text x="1476.57" y="437.8" font-size="20.8" fill="#000" text-anchor="middle" >100M</text>
<text x="1596.07" y="437.8" font-size="20.8" fill="#000" text-anchor="middle" >1G</text>
<text x="1679.6" y="437.8" font-size="20.8" fill="#000" text-anchor="middle" >5G</text>
<line x1="1201.6" y1="383.18" x2="1204.4" y2="383.18" stroke="#000" stroke-width="1.2" />
<line x1="1201.6" y1="319.33" x2="1204.4" y2="319.33" stroke="#000" stroke-width="1.2" />
<line x1="1201.6" y1="255.47" x2="1204.4" y2="255.47" stroke="#000" stroke-width="1.2" />
<line x1="1201.6" y1="191.62" x2="1204.4" y2="191.62" stroke="#000" stroke-width="1.2" />
<line x1="1201.6" y1="127.77" x2="1204.4" y2="127.77" stroke="#000" stroke-width="1.2" />
<line x1="1201.6" y1="63.93" x2="1204.4" y2="63.93" stroke="#000" stroke-width="1.2" />
<line x1="1201.6" y1="351.25" x2="1207.9" y2="351.25" stroke="#000" stroke-width="1.2" />
<line x1="1201.6" y1="287.4" x2="1207.9" y2="287.4" stroke="#000" stroke-width="1.2" />
<line x1="1201.6" y1="223.55" x2="1207.9" y2="223.55" stroke="#000" stroke-width="1.2" />
<line x1="1201.6" y1="159.7" x2="1207.9" y2="159.7" stroke="#000" stroke-width="1.2" />
<line x1="1201.6" y1="95.85" x2="1207.9" y2="95.85" stroke="#000" stroke-width="1.2" />
<text x="1193.8" y="420.8" font-size="20.8" fill="#000" text-anchor="end" >-20</text>
<text x="1193.8" y="356.95" font-size="20.8" fill="#000" text-anchor="end" >-10</text>
<text x="1193.8" y="293.1" font-size="20.8" fill="#000" text-anchor="end" >0</text>
<text x="1193.8" y="229.25" font-size="20.8" fill="#000" text-anchor="end" >10</text>
<text x="1193.8" y="165.4" font-size="20.8" fill="#000" text-anchor="end" >20</text>
<text x="1193.8" y="101.55" font-size="20.8" fill="#000" text-anchor="end" >30</text>
<text x="1193.8" y="37.7" font-size="20.8" fill="#000" text-anchor="end" >40</text>
<text x="1440" y="462.9" font-size="25" fill="#000" text-anchor="middle" >Frequency (Hz)</text>
<text x="1157.6" y="223.3" font-size="25" fill="#000" text-anchor="middle" transform="rotate(-90 1157.6 223.3)" >Q</text>
<text x="1141.9" y="37.4" font-size="41" fill="#000" text-anchor="start" >c</text>
<line x1="1227" y1="294.5" x2="1241.35" y2="294.5" stroke="#6a3d9a" stroke-width="2.1" />
<line x1="1252.25" y1="294.5" x2="1267" y2="294.5" stroke="#6a3d9a" stroke-width="2.1" />
<circle cx="1246.8" cy="294.5" r="4.15" fill="url(#gpurple)"/>
<text x="1271.8" y="300.2" font-size="17" fill="#000" text-anchor="start" >CP-PA&amp;SR</text>
<line x1="1227" y1="315.8" x2="1241.35" y2="315.8" stroke="#1f78b4" stroke-width="2.1" />
<line x1="1252.25" y1="315.8" x2="1267" y2="315.8" stroke="#1f78b4" stroke-width="2.1" />
<circle cx="1246.8" cy="315.8" r="4.15" fill="url(#gblue)"/>
<text x="1271.8" y="321.5" font-size="17" fill="#000" text-anchor="start" >CS-H<tspan dy="4" font-size="11.8">2</tspan><tspan dy="-4">O</tspan></text>
<line x1="1227" y1="340.8" x2="1241.35" y2="340.8" stroke="#33a02c" stroke-width="2.1" />
<line x1="1252.25" y1="340.8" x2="1267" y2="340.8" stroke="#33a02c" stroke-width="2.1" />
<circle cx="1246.8" cy="340.8" r="4.15" fill="url(#ggreen)"/>
<text x="1271.8" y="346.5" font-size="17" fill="#000" text-anchor="start" >CS-AMT-Fe&amp;H<tspan dy="4" font-size="11.8">2</tspan><tspan dy="-4">O</tspan></text>
<line x1="1227" y1="365.6" x2="1241.35" y2="365.6" stroke="#17c8cf" stroke-width="2.1" />
<line x1="1252.25" y1="365.6" x2="1267" y2="365.6" stroke="#17c8cf" stroke-width="2.1" />
<circle cx="1246.8" cy="365.6" r="4.15" fill="url(#gcyan)"/>
<text x="1271.8" y="371.3" font-size="17" fill="#000" text-anchor="start" >CS-AMT-Am&amp;H<tspan dy="4" font-size="11.8">2</tspan><tspan dy="-4">O</tspan></text>
<line x1="1227" y1="390.7" x2="1237.7" y2="390.7" stroke="#e31a1c" stroke-width="2.1" />
<line x1="1255.9" y1="390.7" x2="1267" y2="390.7" stroke="#e31a1c" stroke-width="2.1" />
<circle cx="1246.8" cy="390.7" r="6.9" fill="url(#gred)"/>
<text x="1271.8" y="396.4" font-size="17" fill="#000" text-anchor="start" >CS-AMT&amp;H<tspan dy="4" font-size="11.8">2</tspan><tspan dy="-4">O</tspan></text>
<polyline points="1211,660.5 1235.6,659.3 1254.4,646.8 1269.7,652.3 1282.4,650.7 1293.6,655.1 1303.1,654.5 1311.7,651.6 1319.4,655.4 1327,657.3 1333.4,657.7" fill="none" stroke="#d4317c" stroke-width="2.6" stroke-dasharray="7 4.5" marker-start="url(#mpks)" marker-mid="url(#mpks)" marker-end="url(#mpks)"/>
<polyline points="1333.2,657.8 1339.3,657.6 1345,657.2 1350.3,656.7 1355.3,656.4 1359.9,656.6 1364.4,656.5 1368.6,656.7 1372.5,656.4 1376.3,656.4 1380,656.5 1383.4,656.3 1386.8,656.4 1390,656.8 1393,656.8 1396,656.8 1398.8,656.8 1401.6,656.8 1404.3,657.1 1406.8,657.2 1409.3,657.3 1411.8,657.3 1414.1,657.5 1416.4,657.6 1418.6,657.8 1420.8,658 1422.9,658 1425,657.9 1427,658.1 1428.9,658.1 1430.8,658.2 1432.7,658.5 1434.5,658.5 1436.3,658.5 1438,658.7 1439.8,658.6 1441.4,658.6 1443.1,658.7 1444.7,658.8 1446.2,659.1 1447.8,658.9 1449.3,659.2 1450.8,659.3 1452.2,659.2 1453.7,659.3 1455.1,659.3 1456.5,659.4 1457.8,659.5 1459.2,659.5 1460.5,659.6 1461.8,659.7 1463.1,659.7 1464.3,659.7 1465.5,659.7 1466.8,659.8 1468,659.7 1469.1,659.9 1470.3,659.9 1471.5,659.9 1472.6,660.1 1473.7,659.9 1474.8,660 1475.9,660.1 1477,660 1478,660.1 1479.1,660.1 1480.1,660.2 1481.1,660.3 1482.1,660.3 1483.1,660.4 1484.1,660.4 1485.1,660.5 1486,660.5 1487,660.4 1487.9,660.6 1488.8,660.5 1489.7,660.5 1490.6,660.7 1491.5,660.7 1492.4,660.7 1493.3,660.7 1494.2,660.7 1495,660.6 1495.9,660.7 1496.7,660.7 1497.5,660.8 1498.3,660.7 1499.2,660.9 1500,660.8 1500.8,660.8 1501.5,660.8 1502.3,660.8 1503.1,660.9 1503.9,660.9 1504.6,660.9 1505.4,660.8 1506.1,660.9 1506.9,660.9 1507.6,660.9 1508.3,661 1509,660.8 1509.7,660.9 1510.5,660.9 1511.1,660.9 1511.8,660.9 1512.5,660.9 1513.2,660.9 1513.9,660.9 1514.6,660.8 1515.2,660.8 1515.9,660.9 1516.5,660.9 1517.2,660.8 1517.8,660.9 1518.5,660.9 1519.1,661 1519.7,661 1520.4,660.9 1521,660.8 1521.6,660.9 1522.2,660.9 1522.8,660.9 1523.4,660.9 1524,660.9 1524.6,661 1525.2,661 1525.8,660.9 1526.3,660.8 1526.9,661 1527.5,660.9 1528.1,661 1528.6,661 1529.2,660.9 1529.7,660.9 1530.3,660.9 1530.8,660.9 1531.4,660.9 1531.9,661 1532.4,660.9 1533,660.9 1533.5,661 1534,660.9 1534.6,660.9 1535.1,661 1535.6,660.9 1536.1,660.9 1536.6,660.9 1537.1,660.8 1537.6,660.8 1538.6,660.9 1539.6,660.9 1540.6,660.9 1541.5,660.9 1542.5,660.9 1543.4,660.8 1544.4,660.9 1545.3,661 1546.2,660.9 1547.1,660.8 1548,660.7 1548.8,660.7 1549.7,660.6 1550.6,660.7 1551.4,660.6 1552.3,660.6 1553.1,660.5 1553.9,660.4 1554.7,660.4 1555.5,660.4 1556.3,660.2 1557.1,660.2 1557.9,660.2 1558.7,660.1 1559.5,660.1 1560.2,660 1561,660 1561.7,659.9 1562.5,659.8 1563.2,659.8 1563.9,659.6 1564.6,659.7 1565.4,659.5 1566.1,659.5 1566.8,659.5 1567.5,659.4 1568.2,659.4 1568.8,659.3 1569.5,659.1 1570.2,659.2 1570.9,659.2 1571.5,659.1 1572.2,659 1572.8,658.9 1573.5,658.8 1574.1,658.8 1574.7,658.8 1575.4,658.8 1576,658.7 1576.6,658.6 1577.2,658.6 1577.9,658.5 1578.5,658.5 1579.1,658.5 1579.7,658.4 1580.3,658.3 1580.8,658.3 1581.4,658.2 1582,658.1 1582.6,658 1583.2,658 1583.7,657.9 1584.3,658 1584.8,657.8 1585.4,657.8 1586,657.7 1586.5,657.7 1587.1,657.6 1587.6,657.5 1588.1,657.4 1588.7,657.4 1589.2,657.4 1589.7,657.2 1590.2,657.2 1590.8,657.1 1591.3,657.1 1591.8,657 1592.3,657 1592.8,656.8 1593.3,656.7 1593.8,656.7 1594.6,656.5 1595.3,656.4 1596,656.4 1596.8,656.2 1597.5,656.1 1598.2,656 1598.9,655.8 1599.6,655.7 1600.3,655.5 1601,655.4 1601.7,655.2 1602.3,655.1 1603,654.9 1603.7,654.7 1604.3,654.5 1605,654.3 1605.6,654.1 1606.3,654 1606.9,653.8 1607.6,653.6 1608.2,653.4 1608.8,653.2 1609.4,653.1 1610.1,652.9 1610.7,652.6 1611.3,652.4 1611.9,652.3 1612.5,652.1 1613.1,651.9 1613.7,651.7 1614.2,651.5 1614.8,651.3 1615.4,651.1 1616,650.9 1616.5,650.7 1617.1,650.5 1617.7,650.3 1618.2,650.1 1618.8,649.9 1619.3,649.7 1619.9,649.4 1620.4,649.2 1620.9,649 1621.5,648.8 1622,648.6 1622.5,648.4 1623,648.1 1623.6,647.9 1624.1,647.6 1624.6,647.4 1625.1,647.2 1625.6,646.9 1626.1,646.7 1626.6,646.4 1627.3,646.1 1627.9,645.8 1628.6,645.4 1629.2,645.1 1629.9,644.8 1630.5,644.5 1631.1,644.1 1631.8,643.7 1632.4,643.4 1633,643 1633.6,642.6 1634.2,642.3 1634.8,641.8 1635.4,641.5 1636,641.1 1636.6,640.7 1637.2,640.3 1637.8,639.8 1638.4,639.4 1638.9,639 1639.5,638.6 1640.1,638.1 1640.6,637.7 1641.2,637.3 1641.7,636.8 1642.3,636.4 1642.8,635.9 1643.4,635.5 1643.9,635 1644.4,634.6 1645,634.2 1645.5,633.7 1646,633.2 1646.5,632.8 1647.1,632.3 1647.6,631.8 1648.1,631.3 1648.6,630.8 1649.1,630.3 1649.6,629.8 1650.2,629.2 1650.8,628.5 1651.5,627.9 1652.1,627.2 1652.7,626.6 1653.3,625.9 1653.9,625.2 1654.5,624.5 1655,623.7 1655.6,623 1656.2,622.3 1656.8,621.5 1657.4,620.7 1657.9,619.9 1658.5,619.2 1659,618.4 1659.6,617.6 1660.1,616.8 1660.7,616.1 1661.2,615.3 1661.8,614.5 1662.3,613.7 1662.8,612.9 1663.4,612.2 1663.9,611.4 1664.4,610.7 1664.9,609.8 1665.4,609 1666,608.2 1666.5,607.5 1667,606.6" fill="none" stroke="#d4317c" stroke-width="1.5" marker-start="url(#mpk)" marker-mid="url(#mpk)" marker-end="url(#mpk)"/>
<polyline points="1211,808.4 1235.6,785.1 1254.4,742.1 1269.7,742.1 1282.4,727.1 1293.6,726.5 1303.1,713.4 1311.7,695 1319.4,698.5 1327,696.2 1333.4,692.1 1339.8,684.8 1345.2,675.5 1350.3,661.8 1354.1,657" fill="none" stroke="#d4317c" stroke-width="2.6" stroke-dasharray="7 4.5" marker-start="url(#mpks)" marker-mid="url(#mpks)" marker-end="url(#mpks)"/>
<polyline points="1353.9,656.4 1358.6,654.2 1363.1,649.9 1367.4,648.6 1371.4,645.1 1375.3,640 1378.9,634.8 1382.4,626.8 1385.8,621.5 1389,619.5 1392.1,617 1395.1,614.9 1398,613.1 1400.8,610.3 1403.5,608.1 1406.1,603.5 1408.6,601.1 1411.1,599 1413.5,596.3 1415.8,592.6 1418,590.5 1420.2,589.6 1422.3,587.9 1424.4,583.5 1426.4,582.2 1428.4,580.6 1430.3,579.2 1432.2,575.8 1434,575 1435.8,572.8 1437.5,573.3 1439.3,570.7 1440.9,569.1 1442.6,568 1444.2,567.9 1445.8,566.7 1447.3,564.5 1448.9,564.3 1450.4,562 1451.8,561.2 1453.3,559.7 1454.7,558.7 1456.1,558.6 1457.4,558.1 1458.8,559.4 1460.1,560.3 1461.4,560.5 1462.7,560.8 1464,562.9 1465.2,561.1 1466.4,560.9 1467.6,561.8 1468.8,560.3 1470,558.6 1471.1,553.7 1472.3,546.8 1473.4,544.6 1474.5,543.6 1475.6,541.6 1476.7,541.4 1477.7,541.1 1478.8,541.7 1479.8,543.6 1480.8,544 1481.8,543.4 1482.8,544.1 1483.8,544.9 1484.8,546 1485.7,544.9 1486.7,545.7 1487.6,544.4 1488.6,545.1 1489.5,546.3 1490.4,546.7 1491.3,545.3 1492.2,545.7 1493,546.9 1493.9,546.5 1494.8,547.1 1495.6,548.7 1496.5,549.3 1497.3,550.7 1498.1,551 1498.9,550.3 1499.7,550.5 1500.5,550.2 1501.3,548.8 1502.1,548.4 1502.9,549 1503.6,546.5 1504.4,547.5 1505.2,546.2 1505.9,545.2 1506.6,545.1 1507.4,544.6 1508.1,544.8 1508.8,543.5 1509.5,543.7 1510.2,543.8 1510.9,545.6 1511.6,545.3 1512.3,544.4 1513,545.4 1513.7,545.6 1514.4,546.7 1515,547.4 1515.7,549.4 1516.3,547 1517,549.5 1517.6,549.5 1518.3,549 1518.9,549.7 1519.6,549.6 1520.2,550.1 1520.8,550.7 1521.4,548.7 1522,550.4 1522.6,548.8 1523.2,549.7 1523.8,548.5 1524.4,548.6 1525,547.8 1525.6,547.9 1526.2,547 1526.8,546.3 1527.3,547.7 1527.9,548.5 1528.5,550.4 1529,548.6 1529.6,551 1530.1,553 1530.7,552.4 1531.2,554.4 1531.8,557.4 1532.3,558.2 1532.8,557.8 1533.4,560.4 1533.9,560.8 1534.4,560.7 1534.9,560.6 1535.4,560.6 1536,560 1536.5,560.4 1537,561.3 1537.5,561 1538,562.3 1539,560.9 1540,559.5 1540.9,561 1541.9,561.4 1542.8,559.6 1543.8,556.5 1544.7,552.8 1545.6,552.6 1546.5,551.1 1547.4,553.5 1548.3,555.2 1549.2,557.2 1550,561.4 1550.9,560.5 1551.7,563.7 1552.6,566.6 1553.4,568 1554.2,570.5 1555,571.3 1555.8,572 1556.6,574.1 1557.4,572.4 1558.2,572.4 1559,571.6 1559.7,571.8 1560.5,572.6 1561.2,572.5 1562,572 1562.7,571.5 1563.5,572.6 1564.2,571.6 1564.9,573.5 1565.6,574.8 1566.3,575.8 1567,577.9 1567.7,578.7 1568.4,579.8 1569.1,582.5 1569.8,582.5 1570.4,583.3 1571.1,583 1571.8,584.1 1572.4,584.5 1573.1,585.2 1573.7,586.5 1574.3,585.2 1575,586.1 1575.6,586.6 1576.2,585 1576.8,587.6 1577.5,589.7 1578.1,591.4 1578.7,591.8 1579.3,594.2 1579.9,595.5 1580.5,595.5 1581,597.8 1581.6,598.8 1582.2,598.6 1582.8,598.3 1583.4,600.6 1583.9,599.9 1584.5,600.3 1585,601.1 1585.6,601.2 1586.2,602.8 1586.7,603.1 1587.2,603.9 1587.8,604.1 1588.3,603.7 1588.9,604.8 1589.4,606.3 1589.9,606.1 1590.4,609.2 1591,607.7 1591.5,608.2 1592,610.2 1592.5,610.7 1593,610.9 1593.5,611.5 1594,612.7 1594.7,614.1 1595.5,615.1 1596.2,615.4 1596.9,616.9 1597.7,618.2 1598.4,619.2 1599.1,617.5 1599.8,620 1600.5,621.3 1601.1,622.5 1601.8,623.7 1602.5,624.9 1603.2,625.8 1603.8,626.5 1604.5,627.5 1605.2,629.1 1605.8,629.1 1606.4,630.4 1607.1,631.8 1607.7,632.3 1608.3,632.2 1609,634.1 1609.6,634.8 1610.2,635.8 1610.8,637.2 1611.4,637.9 1612,638.6 1612.6,640 1613.2,640.8 1613.8,641.7 1614.4,642.8 1615,643.8 1615.5,644.6 1616.1,645.6 1616.7,646.8 1617.2,647.4 1617.8,648.4 1618.3,650.5 1618.9,650.9 1619.4,652 1620,653 1620.5,654.1 1621.1,655.1 1621.6,656.2 1622.1,656.8 1622.6,658.5 1623.2,658.9 1623.7,660.6 1624.2,660.4 1624.7,661.8 1625.2,663.6 1625.7,664.1 1626.2,664.9 1626.9,666.7 1627.6,667.4 1628.2,669.2 1628.9,669.5 1629.5,671.6 1630.1,672.8 1630.8,674.5 1631.4,675.9 1632,676.5 1632.7,678.8 1633.3,679.2 1633.9,679.8 1634.5,680.9 1635.1,683.8 1635.7,684.4 1636.3,685.4 1636.9,686.6 1637.4,687.7 1638,689.9 1638.6,690.6 1639.2,692.6 1639.7,693 1640.3,694.1 1640.9,695.6 1641.4,696.7 1642,697.9 1642.5,699.3 1643.1,700.3 1643.6,701.6 1644.1,702.6 1644.7,703.7 1645.2,704.9 1645.7,705.9 1646.3,707.2 1646.8,708.3 1647.3,709.2 1647.8,710.3 1648.3,711.4 1648.8,712.3 1649.3,713.5 1649.8,714.4 1650.4,715.7 1651.1,716.8 1651.7,718.2 1652.3,719.4 1652.9,720.5 1653.5,721.7 1654.1,722.9 1654.7,724.2 1655.2,725.2 1655.8,726.5 1656.4,727.8 1657,728.8 1657.5,729.7 1658.1,731 1658.7,732.2 1659.2,733.1 1659.8,734.4 1660.3,735.4 1660.9,736.4 1661.4,737.4 1662,738.4 1662.5,739.5 1663,740.6 1663.5,741.6 1664.1,742.6 1664.6,743.5 1665.1,744.6 1665.6,745.6 1666.1,746.3 1666.6,747.1" fill="none" stroke="#d4317c" stroke-width="1.5" marker-start="url(#mpk)" marker-mid="url(#mpk)" marker-end="url(#mpk)"/>
<rect x="1198.7" y="487.3" width="483" height="386.2" fill="none" stroke="#000" stroke-width="1.2"/>
<line x1="1221.89" y1="873.5" x2="1221.89" y2="870.7" stroke="#000" stroke-width="1.2" />
<line x1="1239.88" y1="873.5" x2="1239.88" y2="870.7" stroke="#000" stroke-width="1.2" />
<line x1="1254.58" y1="873.5" x2="1254.58" y2="870.7" stroke="#000" stroke-width="1.2" />
<line x1="1267" y1="873.5" x2="1267" y2="870.7" stroke="#000" stroke-width="1.2" />
<line x1="1277.77" y1="873.5" x2="1277.77" y2="870.7" stroke="#000" stroke-width="1.2" />
<line x1="1287.26" y1="873.5" x2="1287.26" y2="870.7" stroke="#000" stroke-width="1.2" />
<line x1="1295.76" y1="873.5" x2="1295.76" y2="867.2" stroke="#000" stroke-width="1.2" />
<line x1="1351.64" y1="873.5" x2="1351.64" y2="870.7" stroke="#000" stroke-width="1.2" />
<line x1="1384.32" y1="873.5" x2="1384.32" y2="870.7" stroke="#000" stroke-width="1.2" />
<line x1="1407.51" y1="873.5" x2="1407.51" y2="870.7" stroke="#000" stroke-width="1.2" />
<line x1="1425.5" y1="873.5" x2="1425.5" y2="870.7" stroke="#000" stroke-width="1.2" />
<line x1="1440.2" y1="873.5" x2="1440.2" y2="870.7" stroke="#000" stroke-width="1.2" />
<line x1="1452.63" y1="873.5" x2="1452.63" y2="870.7" stroke="#000" stroke-width="1.2" />
<line x1="1463.39" y1="873.5" x2="1463.39" y2="870.7" stroke="#000" stroke-width="1.2" />
<line x1="1472.89" y1="873.5" x2="1472.89" y2="870.7" stroke="#000" stroke-width="1.2" />
<line x1="1481.38" y1="873.5" x2="1481.38" y2="867.2" stroke="#000" stroke-width="1.2" />
<line x1="1537.26" y1="873.5" x2="1537.26" y2="870.7" stroke="#000" stroke-width="1.2" />
<line x1="1569.94" y1="873.5" x2="1569.94" y2="870.7" stroke="#000" stroke-width="1.2" />
<line x1="1593.14" y1="873.5" x2="1593.14" y2="870.7" stroke="#000" stroke-width="1.2" />
<line x1="1611.12" y1="873.5" x2="1611.12" y2="870.7" stroke="#000" stroke-width="1.2" />
<line x1="1625.82" y1="873.5" x2="1625.82" y2="870.7" stroke="#000" stroke-width="1.2" />
<line x1="1638.25" y1="873.5" x2="1638.25" y2="870.7" stroke="#000" stroke-width="1.2" />
<line x1="1649.01" y1="873.5" x2="1649.01" y2="870.7" stroke="#000" stroke-width="1.2" />
<line x1="1658.51" y1="873.5" x2="1658.51" y2="870.7" stroke="#000" stroke-width="1.2" />
<line x1="1667" y1="873.5" x2="1667" y2="867.2" stroke="#000" stroke-width="1.2" />
<text x="1295.76" y="893.9" font-size="22.3" fill="#000" text-anchor="middle" >10M</text>
<text x="1481.38" y="893.9" font-size="22.3" fill="#000" text-anchor="middle" >100M</text>
<text x="1667" y="893.9" font-size="22.3" fill="#000" text-anchor="middle" >1G</text>
<line x1="1198.7" y1="849.36" x2="1201.5" y2="849.36" stroke="#000" stroke-width="1.2" />
<line x1="1198.7" y1="801.09" x2="1201.5" y2="801.09" stroke="#000" stroke-width="1.2" />
<line x1="1198.7" y1="752.81" x2="1201.5" y2="752.81" stroke="#000" stroke-width="1.2" />
<line x1="1198.7" y1="704.54" x2="1201.5" y2="704.54" stroke="#000" stroke-width="1.2" />
<line x1="1198.7" y1="656.26" x2="1201.5" y2="656.26" stroke="#000" stroke-width="1.2" />
<line x1="1198.7" y1="607.99" x2="1201.5" y2="607.99" stroke="#000" stroke-width="1.2" />
<line x1="1198.7" y1="559.71" x2="1201.5" y2="559.71" stroke="#000" stroke-width="1.2" />
<line x1="1198.7" y1="511.44" x2="1201.5" y2="511.44" stroke="#000" stroke-width="1.2" />
<line x1="1198.7" y1="825.23" x2="1205" y2="825.23" stroke="#000" stroke-width="1.2" />
<line x1="1198.7" y1="776.95" x2="1205" y2="776.95" stroke="#000" stroke-width="1.2" />
<line x1="1198.7" y1="728.67" x2="1205" y2="728.67" stroke="#000" stroke-width="1.2" />
<line x1="1198.7" y1="680.4" x2="1205" y2="680.4" stroke="#000" stroke-width="1.2" />
<line x1="1198.7" y1="632.12" x2="1205" y2="632.12" stroke="#000" stroke-width="1.2" />
<line x1="1198.7" y1="583.85" x2="1205" y2="583.85" stroke="#000" stroke-width="1.2" />
<line x1="1198.7" y1="535.58" x2="1205" y2="535.58" stroke="#000" stroke-width="1.2" />
<text x="1190.2" y="879.2" font-size="22.3" fill="#000" text-anchor="end" >0</text>
<text x="1190.2" y="830.93" font-size="22.3" fill="#000" text-anchor="end" >5</text>
<text x="1190.2" y="782.65" font-size="22.3" fill="#000" text-anchor="end" >10</text>
<text x="1190.2" y="734.38" font-size="22.3" fill="#000" text-anchor="end" >15</text>
<text x="1190.2" y="686.1" font-size="22.3" fill="#000" text-anchor="end" >20</text>
<text x="1190.2" y="637.83" font-size="22.3" fill="#000" text-anchor="end" >25</text>
<text x="1190.2" y="589.55" font-size="22.3" fill="#000" text-anchor="end" >30</text>
<text x="1190.2" y="541.28" font-size="22.3" fill="#000" text-anchor="end" >35</text>
<text x="1190.2" y="493" font-size="22.3" fill="#000" text-anchor="end" >40</text>
<line x1="1681.7" y1="845.91" x2="1678.9" y2="845.91" stroke="#000" stroke-width="1.2" />
<line x1="1681.7" y1="790.74" x2="1678.9" y2="790.74" stroke="#000" stroke-width="1.2" />
<line x1="1681.7" y1="735.57" x2="1678.9" y2="735.57" stroke="#000" stroke-width="1.2" />
<line x1="1681.7" y1="680.4" x2="1678.9" y2="680.4" stroke="#000" stroke-width="1.2" />
<line x1="1681.7" y1="625.23" x2="1678.9" y2="625.23" stroke="#000" stroke-width="1.2" />
<line x1="1681.7" y1="570.06" x2="1678.9" y2="570.06" stroke="#000" stroke-width="1.2" />
<line x1="1681.7" y1="514.89" x2="1678.9" y2="514.89" stroke="#000" stroke-width="1.2" />
<line x1="1681.7" y1="818.33" x2="1675.4" y2="818.33" stroke="#000" stroke-width="1.2" />
<line x1="1681.7" y1="763.16" x2="1675.4" y2="763.16" stroke="#000" stroke-width="1.2" />
<line x1="1681.7" y1="707.99" x2="1675.4" y2="707.99" stroke="#000" stroke-width="1.2" />
<line x1="1681.7" y1="652.81" x2="1675.4" y2="652.81" stroke="#000" stroke-width="1.2" />
<line x1="1681.7" y1="597.64" x2="1675.4" y2="597.64" stroke="#000" stroke-width="1.2" />
<line x1="1681.7" y1="542.47" x2="1675.4" y2="542.47" stroke="#000" stroke-width="1.2" />
<text x="1688.7" y="879.5" font-size="22.3" fill="#000" text-anchor="start" >0</text>
<text x="1688.7" y="824.33" font-size="22.3" fill="#000" text-anchor="start" >10</text>
<text x="1688.7" y="769.16" font-size="22.3" fill="#000" text-anchor="start" >20</text>
<text x="1688.7" y="713.99" font-size="22.3" fill="#000" text-anchor="start" >30</text>
<text x="1688.7" y="658.81" font-size="22.3" fill="#000" text-anchor="start" >40</text>
<text x="1688.7" y="603.64" font-size="22.3" fill="#000" text-anchor="start" >50</text>
<text x="1688.7" y="548.47" font-size="22.3" fill="#000" text-anchor="start" >60</text>
<text x="1688.7" y="493.3" font-size="22.3" fill="#000" text-anchor="start" >70</text>
<text x="1430.7" y="923.9" font-size="27" fill="#000" text-anchor="middle" >Frequency (Hz)</text>
<text x="1155.2" y="678.2" font-size="27" fill="#000" text-anchor="middle" transform="rotate(-90 1155.2 678.2)" >Inductance(nH)</text>
<text x="1741.8" y="679.8" font-size="27" fill="#000" text-anchor="middle" transform="rotate(-90 1741.8 679.8)" >Quality factor</text>
<text x="1141.8" y="503.4" font-size="41" fill="#000" text-anchor="start" >f</text>
<text x="1240.8" y="605.3" font-size="20" fill="#5a5a5a" text-anchor="start" stroke="#5a5a5a" stroke-width="0.3">Inductance</text>
<text x="1281.2" y="791.8" font-size="20" fill="#5a5a5a" text-anchor="start" stroke="#5a5a5a" stroke-width="0.3">Q factor</text>
<path d="M1257.3,639 V617" stroke="#444" stroke-width="1"/><path d="M1254.5,619 L1257.3,611 L1260.1,619 Z" fill="#444"/>
<path d="M1273.5,786.4 H1252" stroke="#444" stroke-width="1"/><path d="M1253,783.6 L1245.5,786.4 L1253,789.2 Z" fill="#444"/>
<path d="M137.8,830.9 L381.8,695.4 L374.3,682.3 L445.7,679.5 L406.3,739.6 L397.8,724.6 L153.9,860 Z" fill="url(#garr)"/>
<ellipse cx="212" cy="568.5" rx="63.5" ry="28.5" transform="rotate(4 212 568.5)" fill="#0000ee" fill-opacity="0.31"/>
<ellipse cx="221.8" cy="627.9" rx="68" ry="13.5" transform="rotate(-39.6 221.8 627.9)" fill="#0000ee" fill-opacity="0.31"/>
<ellipse cx="240" cy="680" rx="88.5" ry="21.5" transform="rotate(-4 240 680)" fill="#0000ee" fill-opacity="0.31"/>
<ellipse cx="200" cy="615.5" rx="70" ry="30" transform="rotate(31 200 615.5)" fill="#78a82d" fill-opacity="0.31"/>
<ellipse cx="235.6" cy="680.5" rx="70" ry="22" transform="rotate(-53 235.6 680.5)" fill="#004774" fill-opacity="0.31"/>
<ellipse cx="300.1" cy="660.3" rx="97" ry="48" transform="rotate(-38 300.1 660.3)" fill="#f88005" fill-opacity="0.3"/>
<ellipse cx="463.7" cy="656.7" rx="13.6" ry="64" transform="rotate(2 463.7 656.7)" fill="#e41219" fill-opacity="0.4"/>
<ellipse cx="382.2" cy="817.6" rx="71" ry="28.5" transform="rotate(8 382.2 817.6)" fill="#808080" fill-opacity="0.3"/>
<ellipse cx="454.6" cy="777.5" rx="74" ry="25" transform="rotate(12 454.6 777.5)" fill="#808080" fill-opacity="0.3"/>
<line x1="76" y1="745.2" x2="553" y2="745.2" stroke="#777" stroke-width="3" stroke-dasharray="8.5 4"/>
<circle cx="173.9" cy="549.7" r="4.6" fill="#0000f5"/>
<circle cx="173.9" cy="550" r="0.55" fill="#fff" fill-opacity="0.8"/>
<circle cx="187" cy="572.8" r="4.6" fill="#0000f5"/>
<circle cx="187" cy="573.1" r="0.55" fill="#fff" fill-opacity="0.8"/>
<circle cx="170.4" cy="580.8" r="4.6" fill="#0000f5"/>
<circle cx="170.4" cy="581.1" r="0.55" fill="#fff" fill-opacity="0.8"/>
<circle cx="195" cy="588.8" r="4.6" fill="#0000f5"/>
<circle cx="195" cy="589.1" r="0.55" fill="#fff" fill-opacity="0.8"/>
<circle cx="269.7" cy="576.3" r="4.6" fill="#0000f5"/>
<circle cx="269.7" cy="576.6" r="0.55" fill="#fff" fill-opacity="0.8"/>
<circle cx="265.7" cy="596.3" r="4.6" fill="#0000f5"/>
<circle cx="265.7" cy="596.6" r="0.55" fill="#fff" fill-opacity="0.8"/>
<circle cx="237.1" cy="611.9" r="4.6" fill="#0000f5"/>
<circle cx="237.1" cy="612.2" r="0.55" fill="#fff" fill-opacity="0.8"/>
<circle cx="198.5" cy="634.9" r="4.6" fill="#0000f5"/>
<circle cx="198.5" cy="635.2" r="0.55" fill="#fff" fill-opacity="0.8"/>
<circle cx="215.5" cy="642.9" r="4.6" fill="#0000f5"/>
<circle cx="215.5" cy="643.2" r="0.55" fill="#fff" fill-opacity="0.8"/>
<circle cx="177.4" cy="670.5" r="4.6" fill="#0000f5"/>
<circle cx="177.4" cy="670.8" r="0.55" fill="#fff" fill-opacity="0.8"/>
<circle cx="160.9" cy="689" r="4.6" fill="#0000f5"/>
<circle cx="160.9" cy="689.3" r="0.55" fill="#fff" fill-opacity="0.8"/>
<circle cx="227.1" cy="666" r="4.6" fill="#0000f5"/>
<circle cx="227.1" cy="666.3" r="0.55" fill="#fff" fill-opacity="0.8"/>
<circle cx="265.7" cy="689" r="4.6" fill="#0000f5"/>
<circle cx="265.7" cy="689.3" r="0.55" fill="#fff" fill-opacity="0.8"/>
<circle cx="311.3" cy="674" r="4.6" fill="#0000f5"/>
<circle cx="311.3" cy="674.3" r="0.55" fill="#fff" fill-opacity="0.8"/>
<circle cx="323.3" cy="674" r="4.6" fill="#0000f5"/>
<circle cx="323.3" cy="674.3" r="0.55" fill="#fff" fill-opacity="0.8"/>
<rect x="144.8" y="575.9" width="8.6" height="8.6" fill="#66a61e" rx="0.8"/>
<rect x="166.2" y="592.1" width="8.6" height="8.6" fill="#66a61e" rx="0.8"/>
<rect x="166.2" y="626" width="8.6" height="8.6" fill="#66a61e" rx="0.8"/>
<rect x="247.1" y="641.1" width="8.6" height="8.6" fill="#66a61e" rx="0.8"/>
<rect x="232.9" y="653.3" width="8.6" height="8.6" fill="#66a61e" rx="0.8"/>
<rect x="261.6" y="623.8" width="8.2" height="8.2" fill="#0b6cb0" rx="0.8"/>
<rect x="264.9" y="626.9" width="1.6" height="1" fill="#fff" fill-opacity="0.65"/>
<rect x="261.6" y="654.4" width="8.2" height="8.2" fill="#0b6cb0" rx="0.8"/>
<rect x="264.9" y="657.5" width="1.6" height="1" fill="#fff" fill-opacity="0.65"/>
<rect x="240" y="661.4" width="8.2" height="8.2" fill="#0b6cb0" rx="0.8"/>
<rect x="243.3" y="664.5" width="1.6" height="1" fill="#fff" fill-opacity="0.65"/>
<rect x="261.6" y="669.9" width="8.2" height="8.2" fill="#0b6cb0" rx="0.8"/>
<rect x="264.9" y="673" width="1.6" height="1" fill="#fff" fill-opacity="0.65"/>
<rect x="194.9" y="700" width="8.2" height="8.2" fill="#0b6cb0" rx="0.8"/>
<rect x="198.2" y="703.1" width="1.6" height="1" fill="#fff" fill-opacity="0.65"/>
<path d="M361.9,589.2 L368.2,599.9 H355.6 Z" fill="#f08228"/>
<path d="M346.9,605.8 L353.2,616.5 H340.6 Z" fill="#f08228"/>
<path d="M294.7,620.8 L301,631.5 H288.4 Z" fill="#f08228"/>
<path d="M311.8,651.9 L318.1,662.6 H305.5 Z" fill="#f08228"/>
<path d="M228.1,679.4 L234.4,690.1 H221.8 Z" fill="#f08228"/>
<path d="M244.1,713.5 L250.4,724.2 H237.8 Z" fill="#f08228"/>
<path d="M282.7,713.5 L289,724.2 H276.4 Z" fill="#f08228"/>
<path d="M311.8,698.5 L318.1,709.2 H305.5 Z" fill="#f08228"/>
<polygon points="465.2,595.8 466.8,600.1 471.4,600.3 467.8,603.1 469,607.6 465.2,605 461.4,607.6 462.6,603.1 459,600.3 463.6,600.1" fill="#e9363f"/>
<polygon points="461.7,658 463.3,662.3 467.9,662.5 464.3,665.3 465.5,669.8 461.7,667.2 457.9,669.8 459.1,665.3 455.5,662.5 460.1,662.3" fill="#e9363f"/>
<polygon points="461.7,695.1 464,701.4 470.7,701.7 465.5,705.8 467.3,712.3 461.7,708.6 456.1,712.3 457.9,705.8 452.7,701.7 459.4,701.4" fill="#f40008"/>
<circle cx="351.8" cy="799.7" r="5.1" fill="url(#gdk)"/>
<circle cx="352.7" cy="790.3" r="5.1" fill="url(#gdk)"/>
<circle cx="346.1" cy="802.6" r="5.1" fill="url(#gdk)"/>
<circle cx="362.1" cy="800.7" r="5.1" fill="url(#gdk)"/>
<circle cx="399.5" cy="802.3" r="5.1" fill="url(#gdk)"/>
<circle cx="332.3" cy="816.9" r="5.1" fill="url(#gdk)"/>
<circle cx="390" cy="821.4" r="5.1" fill="url(#gdk)"/>
<circle cx="418.5" cy="823.4" r="5.1" fill="url(#gdk)"/>
<circle cx="425.1" cy="823.4" r="5.1" fill="url(#gdk)"/>
<circle cx="442.1" cy="824.4" r="5.1" fill="url(#gdk)"/>
<circle cx="436.1" cy="832.4" r="5.1" fill="url(#gdk)"/>
<circle cx="360.9" cy="836.4" r="5.1" fill="url(#gdk)"/>
<path d="M390.5,763.7 L396.5,769.7 L390.5,775.7 L384.5,769.7 Z" fill="#333"/>
<circle cx="389.2" cy="769.1" r="0.6" fill="#bbb"/><circle cx="391.8" cy="769.1" r="0.6" fill="#bbb"/>
<path d="M514.8,775.8 L520.8,781.8 L514.8,787.8 L508.8,781.8 Z" fill="#333"/>
<circle cx="513.5" cy="781.2" r="0.6" fill="#bbb"/><circle cx="516.1" cy="781.2" r="0.6" fill="#bbb"/>
<path d="M514.8,783.3 L520.8,789.3 L514.8,795.3 L508.8,789.3 Z" fill="#333"/>
<circle cx="513.5" cy="788.7" r="0.6" fill="#bbb"/><circle cx="516.1" cy="788.7" r="0.6" fill="#bbb"/>
<path d="M485.7,794.8 L491.7,800.8 L485.7,806.8 L479.7,800.8 Z" fill="#333"/>
<circle cx="484.4" cy="800.2" r="0.6" fill="#bbb"/><circle cx="487" cy="800.2" r="0.6" fill="#bbb"/>
<rect x="74.8" y="488.4" width="478.7" height="385.9" fill="none" stroke="#000" stroke-width="1.2"/>
<line x1="103.62" y1="874.3" x2="103.62" y2="871.5" stroke="#000" stroke-width="1.2" />
<line x1="120.48" y1="874.3" x2="120.48" y2="871.5" stroke="#000" stroke-width="1.2" />
<line x1="132.44" y1="874.3" x2="132.44" y2="871.5" stroke="#000" stroke-width="1.2" />
<line x1="141.72" y1="874.3" x2="141.72" y2="871.5" stroke="#000" stroke-width="1.2" />
<line x1="149.3" y1="874.3" x2="149.3" y2="871.5" stroke="#000" stroke-width="1.2" />
<line x1="155.71" y1="874.3" x2="155.71" y2="871.5" stroke="#000" stroke-width="1.2" />
<line x1="161.26" y1="874.3" x2="161.26" y2="871.5" stroke="#000" stroke-width="1.2" />
<line x1="166.16" y1="874.3" x2="166.16" y2="871.5" stroke="#000" stroke-width="1.2" />
<line x1="170.54" y1="874.3" x2="170.54" y2="868" stroke="#000" stroke-width="1.2" />
<line x1="199.36" y1="874.3" x2="199.36" y2="871.5" stroke="#000" stroke-width="1.2" />
<line x1="216.22" y1="874.3" x2="216.22" y2="871.5" stroke="#000" stroke-width="1.2" />
<line x1="228.18" y1="874.3" x2="228.18" y2="871.5" stroke="#000" stroke-width="1.2" />
<line x1="237.46" y1="874.3" x2="237.46" y2="871.5" stroke="#000" stroke-width="1.2" />
<line x1="245.04" y1="874.3" x2="245.04" y2="871.5" stroke="#000" stroke-width="1.2" />
<line x1="251.45" y1="874.3" x2="251.45" y2="871.5" stroke="#000" stroke-width="1.2" />
<line x1="257" y1="874.3" x2="257" y2="871.5" stroke="#000" stroke-width="1.2" />
<line x1="261.9" y1="874.3" x2="261.9" y2="871.5" stroke="#000" stroke-width="1.2" />
<line x1="266.28" y1="874.3" x2="266.28" y2="868" stroke="#000" stroke-width="1.2" />
<line x1="295.1" y1="874.3" x2="295.1" y2="871.5" stroke="#000" stroke-width="1.2" />
<line x1="311.96" y1="874.3" x2="311.96" y2="871.5" stroke="#000" stroke-width="1.2" />
<line x1="323.92" y1="874.3" x2="323.92" y2="871.5" stroke="#000" stroke-width="1.2" />
<line x1="333.2" y1="874.3" x2="333.2" y2="871.5" stroke="#000" stroke-width="1.2" />
<line x1="340.78" y1="874.3" x2="340.78" y2="871.5" stroke="#000" stroke-width="1.2" />
<line x1="347.19" y1="874.3" x2="347.19" y2="871.5" stroke="#000" stroke-width="1.2" />
<line x1="352.74" y1="874.3" x2="352.74" y2="871.5" stroke="#000" stroke-width="1.2" />
<line x1="357.64" y1="874.3" x2="357.64" y2="871.5" stroke="#000" stroke-width="1.2" />
<line x1="362.02" y1="874.3" x2="362.02" y2="868" stroke="#000" stroke-width="1.2" />
<line x1="390.84" y1="874.3" x2="390.84" y2="871.5" stroke="#000" stroke-width="1.2" />
<line x1="407.7" y1="874.3" x2="407.7" y2="871.5" stroke="#000" stroke-width="1.2" />
<line x1="419.66" y1="874.3" x2="419.66" y2="871.5" stroke="#000" stroke-width="1.2" />
<line x1="428.94" y1="874.3" x2="428.94" y2="871.5" stroke="#000" stroke-width="1.2" />
<line x1="436.52" y1="874.3" x2="436.52" y2="871.5" stroke="#000" stroke-width="1.2" />
<line x1="442.93" y1="874.3" x2="442.93" y2="871.5" stroke="#000" stroke-width="1.2" />
<line x1="448.48" y1="874.3" x2="448.48" y2="871.5" stroke="#000" stroke-width="1.2" />
<line x1="453.38" y1="874.3" x2="453.38" y2="871.5" stroke="#000" stroke-width="1.2" />
<line x1="457.76" y1="874.3" x2="457.76" y2="868" stroke="#000" stroke-width="1.2" />
<line x1="486.58" y1="874.3" x2="486.58" y2="871.5" stroke="#000" stroke-width="1.2" />
<line x1="503.44" y1="874.3" x2="503.44" y2="871.5" stroke="#000" stroke-width="1.2" />
<line x1="515.4" y1="874.3" x2="515.4" y2="871.5" stroke="#000" stroke-width="1.2" />
<line x1="524.68" y1="874.3" x2="524.68" y2="871.5" stroke="#000" stroke-width="1.2" />
<line x1="532.26" y1="874.3" x2="532.26" y2="871.5" stroke="#000" stroke-width="1.2" />
<line x1="538.67" y1="874.3" x2="538.67" y2="871.5" stroke="#000" stroke-width="1.2" />
<line x1="544.22" y1="874.3" x2="544.22" y2="871.5" stroke="#000" stroke-width="1.2" />
<line x1="549.12" y1="874.3" x2="549.12" y2="871.5" stroke="#000" stroke-width="1.2" />
<text x="74.8" y="899.8" font-size="20.8" fill="#000" text-anchor="middle" >100k</text>
<text x="170.54" y="899.8" font-size="20.8" fill="#000" text-anchor="middle" >1M</text>
<text x="266.28" y="899.8" font-size="20.8" fill="#000" text-anchor="middle" >10M</text>
<text x="362.02" y="899.8" font-size="20.8" fill="#000" text-anchor="middle" >100M</text>
<text x="457.76" y="899.8" font-size="20.8" fill="#000" text-anchor="middle" >1G</text>
<text x="553.5" y="899.8" font-size="20.8" fill="#000" text-anchor="middle" >10G</text>
<line x1="74.8" y1="835.71" x2="77.6" y2="835.71" stroke="#000" stroke-width="1.2" />
<line x1="74.8" y1="758.53" x2="77.6" y2="758.53" stroke="#000" stroke-width="1.2" />
<line x1="74.8" y1="681.35" x2="77.6" y2="681.35" stroke="#000" stroke-width="1.2" />
<line x1="74.8" y1="604.17" x2="77.6" y2="604.17" stroke="#000" stroke-width="1.2" />
<line x1="74.8" y1="526.99" x2="77.6" y2="526.99" stroke="#000" stroke-width="1.2" />
<line x1="74.8" y1="797.12" x2="81.1" y2="797.12" stroke="#000" stroke-width="1.2" />
<line x1="74.8" y1="719.94" x2="81.1" y2="719.94" stroke="#000" stroke-width="1.2" />
<line x1="74.8" y1="642.76" x2="81.1" y2="642.76" stroke="#000" stroke-width="1.2" />
<line x1="74.8" y1="565.58" x2="81.1" y2="565.58" stroke="#000" stroke-width="1.2" />
<text x="72" y="880" font-size="20.8" fill="#000" text-anchor="end" >0</text>
<text x="72" y="802.82" font-size="20.8" fill="#000" text-anchor="end" >50</text>
<text x="72" y="725.64" font-size="20.8" fill="#000" text-anchor="end" >100</text>
<text x="72" y="648.46" font-size="20.8" fill="#000" text-anchor="end" >150</text>
<text x="72" y="571.28" font-size="20.8" fill="#000" text-anchor="end" >200</text>
<text x="72" y="494.1" font-size="20.8" fill="#000" text-anchor="end" >250</text>
<text x="314.3" y="926.4" font-size="25" fill="#000" text-anchor="middle" word-spacing="1.7">Frequency of 90% μ<tspan dy="6" font-size="16">i</tspan><tspan dy="-6"> (Hz)</tspan></text>
<text x="25.2" y="680.3" font-size="25" fill="#000" text-anchor="middle" transform="rotate(-90 25.2 680.3)" word-spacing="2" letter-spacing="0.15">Ms (Am<tspan dy="-8" font-size="15">2</tspan><tspan dy="8">/kg)</tspan></text>
<text x="6.1" y="503.3" font-size="41" fill="#000" text-anchor="start" >d</text>
<text x="85.9" y="512" font-size="19.8" fill="#008080" text-anchor="start" >Metallic composites</text>
<text x="258.8" y="548.6" font-size="16" fill="#1010f0" text-anchor="start" >FeSi particles</text>
<text x="272.7" y="589.6" font-size="16" fill="#1010f0" text-anchor="start" >FeSiCr particles</text>
<text x="117.6" y="611.6" font-size="16" fill="#6aa823" text-anchor="middle" >Fe(Ni)</text>
<text x="120.3" y="631.8" font-size="16" fill="#6aa823" text-anchor="middle" >particles</text>
<text x="120" y="665.5" font-size="16" fill="#1010f0" text-anchor="middle" >FeSiAl</text>
<text x="120.3" y="686.5" font-size="16" fill="#1010f0" text-anchor="middle" >particles</text>
<text x="149.2" y="713.6" font-size="16" fill="#1073b4" text-anchor="middle" >Amorphous</text>
<text x="151.6" y="734" font-size="16" fill="#1073b4" text-anchor="middle" >particles</text>
<text x="399.2" y="637.9" font-size="16" fill="#f28c28" text-anchor="middle" >Metal</text>
<text x="401.3" y="658" font-size="16" fill="#f28c28" text-anchor="middle" >flakes</text>
<text x="89.2" y="769.2" font-size="19.9" fill="#555" text-anchor="start" >Ferrite ceramics</text>
<text x="467.4" y="732" font-size="19.6" fill="#f2101c" text-anchor="middle" font-weight="bold" >This work</text>
<text x="304" y="849.4" font-size="16.4" fill="#555" text-anchor="middle" >Spinel ferrites</text>
<text x="498.6" y="820.9" font-size="16" fill="#555" text-anchor="middle" >Hexagonal</text>
<text x="498.2" y="842" font-size="16" fill="#555" text-anchor="middle" >ferrites</text>
<ellipse cx="762.3" cy="642" rx="62.6" ry="19" transform="rotate(-5.2 762.3 642)" fill="#78a82d" fill-opacity="0.31"/>
<ellipse cx="808" cy="659" rx="87.5" ry="42" transform="rotate(-3 808 659)" fill="#0000ee" fill-opacity="0.31"/>
<ellipse cx="809" cy="677" rx="44" ry="77" transform="rotate(21.5 809 677)" fill="#004774" fill-opacity="0.31"/>
<path d="M771.2,506.5 L776.5,505.2 L782.9,506.3 L789.8,509.1 L796.8,513 L803.4,517.3 L809.3,521.3 L814.8,525.2 L820.3,529.1 L825.9,533 L831.7,537.1 L837.3,541.3 L842.9,545.7 L848.2,550.4 L853.2,555.4 L857.9,560.8 L862.2,566.4 L866.4,572.2 L870.3,578.2 L874,584.3 L877.6,590.6 L881,596.9 L884.4,603.2 L887.6,609.6 L890.9,615.8 L894.2,622 L897.4,628.2 L900.7,634.3 L904,640.4 L907.2,646.5 L910.5,652.6 L913.7,658.8 L916.9,665.1 L920.1,671.5 L923.2,678 L926.4,684.7 L929.4,691.6 L932.2,698.5 L934.5,705.5 L936.4,712.5 L937.7,719.5 L938.1,726.3 L937.7,733 L936.1,739.6 L933.4,745.7 L929.3,750.5 L923.4,752.8 L916.2,752.4 L909.1,750.5 L902.4,747.8 L896,744.3 L890,740.2 L884.2,735.8 L878.6,731.2 L873.3,726.4 L868.1,721.4 L863.2,716.4 L858.3,711.2 L853.7,705.9 L849.1,700.6 L844.7,695.1 L840.4,689.5 L836.2,683.9 L832.1,678.2 L828,672.4 L824,666.6 L820,660.7 L816.1,654.8 L812.2,648.8 L808.4,642.8 L804.7,636.7 L801,630.6 L797.4,624.4 L793.9,618.3 L790.5,612 L787.1,605.8 L783.9,599.4 L780.8,593.1 L777.8,586.7 L774.9,580.3 L772.1,573.9 L769.5,567.4 L767.2,560.8 L765.3,554.1 L763.8,547.1 L762.9,539.9 L762.7,532.4 L763.2,524.6 L764.7,517.1 L767.3,510.7 Z" fill="#f88005" fill-opacity="0.3"/>
<ellipse cx="946.5" cy="687.3" rx="87.5" ry="40" transform="rotate(51 946.5 687.3)" fill="#808080" fill-opacity="0.3"/>
<ellipse cx="1021.9" cy="716.4" rx="14" ry="22" transform="rotate(8 1021.9 716.4)" fill="#e41219" fill-opacity="0.4"/>
<ellipse cx="1065" cy="779.3" rx="26.5" ry="69.5" transform="rotate(-10.4 1065 779.3)" fill="#808080" fill-opacity="0.3"/>
<polyline points="798.1,488.6 805.5,495.1 812.7,501.6 819.7,508.2 826.3,514.7 832.6,521.2 838.6,527.7 844.1,534.3 849.4,540.8 854.5,547.3 859.3,553.8 864,560.4 868.5,566.9 872.9,573.4 877.3,579.9 881.6,586.5 885.8,593 890.1,599.5 894.2,606 898.2,612.6 902.1,619.1 905.8,625.6 909.2,632.1 912.5,638.6 915.6,645.2 918.5,651.7 921.4,658.2 924.1,664.7 926.8,671.3 929.3,677.8 931.8,684.3 934.2,690.8 936.5,697.4 938.8,703.9 941.1,710.4 943.4,716.9 945.6,723.5 947.7,730 949.7,736.5 951.6,743 953.3,749.5 955,756.1 956.4,762.6 957.8,769.1 959.1,775.6 960.4,782.2 961.5,788.7 962.6,795.2 963.7,801.7 964.6,808.3 965.4,814.8 966,821.3 966.6,827.8 967.2,834.4 967.8,840.9 968.3,847.4 968.7,853.9 969,860.5 969.3,867 969.5,873.5" fill="none" stroke="#7a7a7a" stroke-width="2.6" stroke-dasharray="11 6"/>
<path d="M771.5,509 L777.8,519.7 H765.2 Z" fill="#f08228"/>
<rect x="769.3" y="516.6" width="1.6" height="1" fill="#fff"/><rect x="772.1" y="516.6" width="1.6" height="1" fill="#fff"/><rect x="770.9" y="513.6" width="1.2" height="1" fill="#fff"/>
<path d="M789.6,575.2 L795.9,585.9 H783.3 Z" fill="#f08228"/>
<rect x="787.4" y="582.8" width="1.6" height="1" fill="#fff"/><rect x="790.2" y="582.8" width="1.6" height="1" fill="#fff"/><rect x="789" y="579.8" width="1.2" height="1" fill="#fff"/>
<path d="M830.4,604.7 L836.7,615.4 H824.1 Z" fill="#f08228"/>
<rect x="828.2" y="612.3" width="1.6" height="1" fill="#fff"/><rect x="831" y="612.3" width="1.6" height="1" fill="#fff"/><rect x="829.8" y="609.3" width="1.2" height="1" fill="#fff"/>
<path d="M861.1,656.3 L867.4,667 H854.8 Z" fill="#f08228"/>
<rect x="858.9" y="663.9" width="1.6" height="1" fill="#fff"/><rect x="861.7" y="663.9" width="1.6" height="1" fill="#fff"/><rect x="860.5" y="660.9" width="1.2" height="1" fill="#fff"/>
<path d="M896.8,653.2 L903.1,663.9 H890.5 Z" fill="#f08228"/>
<rect x="894.6" y="660.8" width="1.6" height="1" fill="#fff"/><rect x="897.4" y="660.8" width="1.6" height="1" fill="#fff"/><rect x="896.2" y="657.8" width="1.2" height="1" fill="#fff"/>
<path d="M842.9,690.8 L849.2,701.5 H836.6 Z" fill="#f08228"/>
<rect x="840.7" y="698.4" width="1.6" height="1" fill="#fff"/><rect x="843.5" y="698.4" width="1.6" height="1" fill="#fff"/><rect x="842.3" y="695.4" width="1.2" height="1" fill="#fff"/>
<path d="M860.8,713 L867.1,723.7 H854.5 Z" fill="#f08228"/>
<rect x="858.6" y="720.6" width="1.6" height="1" fill="#fff"/><rect x="861.4" y="720.6" width="1.6" height="1" fill="#fff"/><rect x="860.2" y="717.6" width="1.2" height="1" fill="#fff"/>
<path d="M914.4,739.1 L920.7,749.8 H908.1 Z" fill="#f08228"/>
<rect x="912.2" y="746.7" width="1.6" height="1" fill="#fff"/><rect x="915" y="746.7" width="1.6" height="1" fill="#fff"/><rect x="913.8" y="743.7" width="1.2" height="1" fill="#fff"/>
<rect x="706.5" y="630.1" width="8" height="8" fill="#66a61e" rx="0.8"/>
<rect x="708.5" y="633.8" width="4" height="1.4" fill="#fff"/>
<rect x="683.9" y="643" width="8" height="8" fill="#66a61e" rx="0.8"/>
<rect x="685.9" y="646.7" width="4" height="1.4" fill="#fff"/>
<rect x="706.7" y="654.9" width="8" height="8" fill="#66a61e" rx="0.8"/>
<rect x="708.7" y="658.6" width="4" height="1.4" fill="#fff"/>
<rect x="778.1" y="643" width="8" height="8" fill="#66a61e" rx="0.8"/>
<rect x="780.1" y="646.7" width="4" height="1.4" fill="#fff"/>
<rect x="792.9" y="628.6" width="8" height="8" fill="#66a61e" rx="0.8"/>
<rect x="794.9" y="632.3" width="4" height="1.4" fill="#fff"/>
<circle cx="714.8" cy="640.4" r="4.6" fill="#0000f5"/>
<rect x="713.2" y="638.9" width="3.2" height="1" fill="#fff"/>
<circle cx="711" cy="647" r="4.6" fill="#0000f5"/>
<rect x="709.4" y="645.5" width="3.2" height="1" fill="#fff"/>
<circle cx="700.7" cy="658.9" r="4.6" fill="#0000f5"/>
<rect x="699.1" y="657.4" width="3.2" height="1" fill="#fff"/>
<circle cx="728.6" cy="648.9" r="4.6" fill="#0000f5"/>
<rect x="727" y="647.4" width="3.2" height="1" fill="#fff"/>
<circle cx="736.6" cy="641.6" r="4.6" fill="#0000f5"/>
<rect x="735" y="640.1" width="3.2" height="1" fill="#fff"/>
<circle cx="741.4" cy="647.4" r="4.6" fill="#0000f5"/>
<rect x="739.8" y="645.9" width="3.2" height="1" fill="#fff"/>
<circle cx="759.3" cy="658.9" r="4.6" fill="#0000f5"/>
<rect x="757.7" y="657.4" width="3.2" height="1" fill="#fff"/>
<circle cx="718.5" cy="683.7" r="4.6" fill="#0000f5"/>
<rect x="716.9" y="682.2" width="3.2" height="1" fill="#fff"/>
<circle cx="772.1" cy="667.7" r="4.6" fill="#0000f5"/>
<rect x="770.5" y="666.2" width="3.2" height="1" fill="#fff"/>
<circle cx="781.9" cy="674" r="4.6" fill="#0000f5"/>
<rect x="780.3" y="672.5" width="3.2" height="1" fill="#fff"/>
<circle cx="812.6" cy="647" r="4.6" fill="#0000f5"/>
<rect x="811" y="645.5" width="3.2" height="1" fill="#fff"/>
<circle cx="816.6" cy="622" r="4.6" fill="#0000f5"/>
<rect x="815" y="620.5" width="3.2" height="1" fill="#fff"/>
<circle cx="812.6" cy="677.7" r="4.6" fill="#0000f5"/>
<rect x="811" y="676.2" width="3.2" height="1" fill="#fff"/>
<circle cx="861.1" cy="674" r="4.6" fill="#0000f5"/>
<rect x="859.5" y="672.5" width="3.2" height="1" fill="#fff"/>
<circle cx="874" cy="658.9" r="4.6" fill="#0000f5"/>
<rect x="872.4" y="657.4" width="3.2" height="1" fill="#fff"/>
<rect x="808.4" y="603.1" width="8.4" height="8.4" fill="#0b6cb0" rx="0.8"/>
<rect x="811.8" y="606.3" width="1.6" height="1" fill="#fff" fill-opacity="0.65"/>
<rect x="785.2" y="654.3" width="8.4" height="8.4" fill="#0b6cb0" rx="0.8"/>
<rect x="788.6" y="657.5" width="1.6" height="1" fill="#fff" fill-opacity="0.65"/>
<rect x="737.3" y="707.4" width="8.4" height="8.4" fill="#0b6cb0" rx="0.8"/>
<rect x="740.7" y="710.6" width="1.6" height="1" fill="#fff" fill-opacity="0.65"/>
<rect x="807.9" y="707.4" width="8.4" height="8.4" fill="#0b6cb0" rx="0.8"/>
<rect x="811.3" y="710.6" width="1.6" height="1" fill="#fff" fill-opacity="0.65"/>
<circle cx="898.8" cy="621.9" r="5.1" fill="url(#gdk)"/>
<circle cx="904.4" cy="629.4" r="5.1" fill="url(#gdk)"/>
<circle cx="883.6" cy="637.4" r="5.1" fill="url(#gdk)"/>
<circle cx="914.4" cy="653" r="5.1" fill="url(#gdk)"/>
<circle cx="914.4" cy="674" r="5.1" fill="url(#gdk)"/>
<circle cx="904.4" cy="701.6" r="5.1" fill="url(#gdk)"/>
<circle cx="955" cy="684" r="5.1" fill="url(#gdk)"/>
<circle cx="945" cy="723.1" r="5.1" fill="url(#gdk)"/>
<circle cx="981.1" cy="710.6" r="5.1" fill="url(#gdk)"/>
<circle cx="975.5" cy="727.6" r="5.1" fill="url(#gdk)"/>
<circle cx="993.6" cy="738.2" r="5.1" fill="url(#gdk)"/>
<circle cx="1000.1" cy="744.2" r="5.1" fill="url(#gdk)"/>
<path d="M945,712.2 L950.9,718.1 L945,724 L939.1,718.1 Z" fill="#111"/>
<path d="M945,714.6 L948.5,718.1 L945,721.6 L941.5,718.1 Z" fill="#fff"/>
<path d="M945,716.3 L946.8,718.1 L945,719.9 L943.2,718.1 Z" fill="#111"/>
<path d="M1046.7,717.2 L1052.6,723.1 L1046.7,729 L1040.8,723.1 Z" fill="#111"/>
<path d="M1046.7,719.6 L1050.2,723.1 L1046.7,726.6 L1043.2,723.1 Z" fill="#fff"/>
<path d="M1046.7,721.3 L1048.5,723.1 L1046.7,724.9 L1044.9,723.1 Z" fill="#111"/>
<path d="M1077.8,812.5 L1083.7,818.4 L1077.8,824.3 L1071.9,818.4 Z" fill="#111"/>
<path d="M1077.8,814.9 L1081.3,818.4 L1077.8,821.9 L1074.3,818.4 Z" fill="#fff"/>
<path d="M1077.8,816.6 L1079.6,818.4 L1077.8,820.2 L1076,818.4 Z" fill="#111"/>
<path d="M1077.8,839.5 L1083.7,845.4 L1077.8,851.3 L1071.9,845.4 Z" fill="#111"/>
<path d="M1077.8,841.9 L1081.3,845.4 L1077.8,848.9 L1074.3,845.4 Z" fill="#fff"/>
<path d="M1077.8,843.6 L1079.6,845.4 L1077.8,847.2 L1076,845.4 Z" fill="#111"/>
<polygon points="1024.7,697.1 1026.3,701.4 1030.9,701.6 1027.3,704.4 1028.5,708.9 1024.7,706.3 1020.9,708.9 1022.1,704.4 1018.5,701.6 1023.1,701.4" fill="#e9363f"/>
<polygon points="1020.2,713.6 1022.5,719.9 1029.2,720.2 1024,724.3 1025.8,730.8 1020.2,727.1 1014.6,730.8 1016.4,724.3 1011.2,720.2 1017.9,719.9" fill="#f40008"/>
<rect x="639.5" y="488.2" width="479.1" height="386.1" fill="none" stroke="#000" stroke-width="1.2"/>
<line x1="657.45" y1="874.3" x2="657.45" y2="871.5" stroke="#000" stroke-width="1.2" />
<line x1="670.19" y1="874.3" x2="670.19" y2="871.5" stroke="#000" stroke-width="1.2" />
<line x1="680.07" y1="874.3" x2="680.07" y2="871.5" stroke="#000" stroke-width="1.2" />
<line x1="688.15" y1="874.3" x2="688.15" y2="871.5" stroke="#000" stroke-width="1.2" />
<line x1="694.97" y1="874.3" x2="694.97" y2="871.5" stroke="#000" stroke-width="1.2" />
<line x1="700.89" y1="874.3" x2="700.89" y2="871.5" stroke="#000" stroke-width="1.2" />
<line x1="706.1" y1="874.3" x2="706.1" y2="871.5" stroke="#000" stroke-width="1.2" />
<line x1="710.77" y1="874.3" x2="710.77" y2="868" stroke="#000" stroke-width="1.2" />
<line x1="741.46" y1="874.3" x2="741.46" y2="871.5" stroke="#000" stroke-width="1.2" />
<line x1="759.41" y1="874.3" x2="759.41" y2="871.5" stroke="#000" stroke-width="1.2" />
<line x1="772.15" y1="874.3" x2="772.15" y2="871.5" stroke="#000" stroke-width="1.2" />
<line x1="782.03" y1="874.3" x2="782.03" y2="871.5" stroke="#000" stroke-width="1.2" />
<line x1="790.11" y1="874.3" x2="790.11" y2="871.5" stroke="#000" stroke-width="1.2" />
<line x1="796.93" y1="874.3" x2="796.93" y2="871.5" stroke="#000" stroke-width="1.2" />
<line x1="802.84" y1="874.3" x2="802.84" y2="871.5" stroke="#000" stroke-width="1.2" />
<line x1="808.06" y1="874.3" x2="808.06" y2="871.5" stroke="#000" stroke-width="1.2" />
<line x1="812.72" y1="874.3" x2="812.72" y2="868" stroke="#000" stroke-width="1.2" />
<line x1="843.42" y1="874.3" x2="843.42" y2="871.5" stroke="#000" stroke-width="1.2" />
<line x1="861.37" y1="874.3" x2="861.37" y2="871.5" stroke="#000" stroke-width="1.2" />
<line x1="874.11" y1="874.3" x2="874.11" y2="871.5" stroke="#000" stroke-width="1.2" />
<line x1="883.99" y1="874.3" x2="883.99" y2="871.5" stroke="#000" stroke-width="1.2" />
<line x1="892.06" y1="874.3" x2="892.06" y2="871.5" stroke="#000" stroke-width="1.2" />
<line x1="898.89" y1="874.3" x2="898.89" y2="871.5" stroke="#000" stroke-width="1.2" />
<line x1="904.8" y1="874.3" x2="904.8" y2="871.5" stroke="#000" stroke-width="1.2" />
<line x1="910.02" y1="874.3" x2="910.02" y2="871.5" stroke="#000" stroke-width="1.2" />
<line x1="914.68" y1="874.3" x2="914.68" y2="868" stroke="#000" stroke-width="1.2" />
<line x1="945.38" y1="874.3" x2="945.38" y2="871.5" stroke="#000" stroke-width="1.2" />
<line x1="963.33" y1="874.3" x2="963.33" y2="871.5" stroke="#000" stroke-width="1.2" />
<line x1="976.07" y1="874.3" x2="976.07" y2="871.5" stroke="#000" stroke-width="1.2" />
<line x1="985.95" y1="874.3" x2="985.95" y2="871.5" stroke="#000" stroke-width="1.2" />
<line x1="994.02" y1="874.3" x2="994.02" y2="871.5" stroke="#000" stroke-width="1.2" />
<line x1="1000.85" y1="874.3" x2="1000.85" y2="871.5" stroke="#000" stroke-width="1.2" />
<line x1="1006.76" y1="874.3" x2="1006.76" y2="871.5" stroke="#000" stroke-width="1.2" />
<line x1="1011.98" y1="874.3" x2="1011.98" y2="871.5" stroke="#000" stroke-width="1.2" />
<line x1="1016.64" y1="874.3" x2="1016.64" y2="868" stroke="#000" stroke-width="1.2" />
<line x1="1047.33" y1="874.3" x2="1047.33" y2="871.5" stroke="#000" stroke-width="1.2" />
<line x1="1065.29" y1="874.3" x2="1065.29" y2="871.5" stroke="#000" stroke-width="1.2" />
<line x1="1078.03" y1="874.3" x2="1078.03" y2="871.5" stroke="#000" stroke-width="1.2" />
<line x1="1087.91" y1="874.3" x2="1087.91" y2="871.5" stroke="#000" stroke-width="1.2" />
<line x1="1095.98" y1="874.3" x2="1095.98" y2="871.5" stroke="#000" stroke-width="1.2" />
<line x1="1102.81" y1="874.3" x2="1102.81" y2="871.5" stroke="#000" stroke-width="1.2" />
<line x1="1108.72" y1="874.3" x2="1108.72" y2="871.5" stroke="#000" stroke-width="1.2" />
<line x1="1113.93" y1="874.3" x2="1113.93" y2="871.5" stroke="#000" stroke-width="1.2" />
<text x="710.77" y="899.8" font-size="20.8" fill="#000" text-anchor="middle" >1M</text>
<text x="812.72" y="899.8" font-size="20.8" fill="#000" text-anchor="middle" >10M</text>
<text x="914.68" y="899.8" font-size="20.8" fill="#000" text-anchor="middle" >100M</text>
<text x="1016.64" y="899.8" font-size="20.8" fill="#000" text-anchor="middle" >1G</text>
<text x="1118.6" y="899.8" font-size="20.8" fill="#000" text-anchor="middle" >10G</text>
<line x1="639.5" y1="867.2" x2="642.3" y2="867.2" stroke="#000" stroke-width="1.2" />
<line x1="639.5" y1="860.94" x2="642.3" y2="860.94" stroke="#000" stroke-width="1.2" />
<line x1="639.5" y1="855.34" x2="645.8" y2="855.34" stroke="#000" stroke-width="1.2" />
<line x1="639.5" y1="818.5" x2="642.3" y2="818.5" stroke="#000" stroke-width="1.2" />
<line x1="639.5" y1="796.95" x2="642.3" y2="796.95" stroke="#000" stroke-width="1.2" />
<line x1="639.5" y1="781.66" x2="642.3" y2="781.66" stroke="#000" stroke-width="1.2" />
<line x1="639.5" y1="769.8" x2="642.3" y2="769.8" stroke="#000" stroke-width="1.2" />
<line x1="639.5" y1="760.11" x2="642.3" y2="760.11" stroke="#000" stroke-width="1.2" />
<line x1="639.5" y1="751.92" x2="642.3" y2="751.92" stroke="#000" stroke-width="1.2" />
<line x1="639.5" y1="744.82" x2="642.3" y2="744.82" stroke="#000" stroke-width="1.2" />
<line x1="639.5" y1="738.56" x2="642.3" y2="738.56" stroke="#000" stroke-width="1.2" />
<line x1="639.5" y1="732.96" x2="645.8" y2="732.96" stroke="#000" stroke-width="1.2" />
<line x1="639.5" y1="696.12" x2="642.3" y2="696.12" stroke="#000" stroke-width="1.2" />
<line x1="639.5" y1="674.57" x2="642.3" y2="674.57" stroke="#000" stroke-width="1.2" />
<line x1="639.5" y1="659.28" x2="642.3" y2="659.28" stroke="#000" stroke-width="1.2" />
<line x1="639.5" y1="647.42" x2="642.3" y2="647.42" stroke="#000" stroke-width="1.2" />
<line x1="639.5" y1="637.73" x2="642.3" y2="637.73" stroke="#000" stroke-width="1.2" />
<line x1="639.5" y1="629.54" x2="642.3" y2="629.54" stroke="#000" stroke-width="1.2" />
<line x1="639.5" y1="622.44" x2="642.3" y2="622.44" stroke="#000" stroke-width="1.2" />
<line x1="639.5" y1="616.18" x2="642.3" y2="616.18" stroke="#000" stroke-width="1.2" />
<line x1="639.5" y1="610.58" x2="645.8" y2="610.58" stroke="#000" stroke-width="1.2" />
<line x1="639.5" y1="573.74" x2="642.3" y2="573.74" stroke="#000" stroke-width="1.2" />
<line x1="639.5" y1="552.19" x2="642.3" y2="552.19" stroke="#000" stroke-width="1.2" />
<line x1="639.5" y1="536.9" x2="642.3" y2="536.9" stroke="#000" stroke-width="1.2" />
<line x1="639.5" y1="525.04" x2="642.3" y2="525.04" stroke="#000" stroke-width="1.2" />
<line x1="639.5" y1="515.35" x2="642.3" y2="515.35" stroke="#000" stroke-width="1.2" />
<line x1="639.5" y1="507.16" x2="642.3" y2="507.16" stroke="#000" stroke-width="1.2" />
<line x1="639.5" y1="500.06" x2="642.3" y2="500.06" stroke="#000" stroke-width="1.2" />
<line x1="639.5" y1="493.8" x2="642.3" y2="493.8" stroke="#000" stroke-width="1.2" />
<text x="630.4" y="860.94" font-size="20.8" fill="#000" text-anchor="end" >1</text>
<text x="630.4" y="738.56" font-size="20.8" fill="#000" text-anchor="end" >10</text>
<text x="630.4" y="616.18" font-size="20.8" fill="#000" text-anchor="end" >100</text>
<text x="630.4" y="493.8" font-size="20.8" fill="#000" text-anchor="end" >1k</text>
<text x="878.8" y="927.4" font-size="25.3" fill="#000" text-anchor="middle" word-spacing="1.7">Frequency of 90% μ<tspan dy="6" font-size="16">i</tspan><tspan dy="-6"> (Hz)</tspan></text>
<text x="583" y="680.2" font-size="25" fill="#000" text-anchor="middle" transform="rotate(-90 583 680.2)" >μ<tspan dy="5" font-size="15">i</tspan></text>
<text x="575.3" y="503.3" font-size="41" fill="#000" text-anchor="start" >e</text>
<path d="M843.2,516.1 H876" stroke="#333" stroke-width="2.4"/><path d="M872,511.6 L891,516.1 L872,520.6 Z" fill="#333"/>
<text x="909.9" y="521.6" font-size="19.9" fill="#555" text-anchor="start" >Ferrite ceramics</text>
<text x="681.8" y="554.2" font-size="16.45" fill="#f28c28" text-anchor="start" >Metal flakes</text>
<text x="649.2" y="622.9" font-size="16.45" fill="#6aa823" text-anchor="start" >Fe(Ni) particles</text>
<text x="707.9" y="697" font-size="16.45" fill="#1010f0" text-anchor="middle" >FeSi(Al,Cr)</text>
<text x="707.4" y="719.1" font-size="16.45" fill="#1010f0" text-anchor="middle" >particles</text>
<text x="712.9" y="760.7" font-size="16.45" fill="#1073b4" text-anchor="start" >Amorphous particles</text>
<text x="975" y="648.9" font-size="16.5" fill="#262626" text-anchor="start" >Spinel ferrites</text>
<text x="1054" y="690.5" font-size="19.8" fill="#f2101c" text-anchor="middle" font-weight="bold" >This work</text>
<text x="1010" y="829.4" font-size="16.5" fill="#262626" text-anchor="middle" >Hexagonal</text>
<text x="1010" y="849.4" font-size="16.5" fill="#262626" text-anchor="middle" >ferrites</text>
<text x="729.4" y="849.4" font-size="19.8" fill="#008080" text-anchor="start" stroke="#008080" stroke-width="0.5">Metallic composites</text>
<path d="M946,843.4 H920" stroke="#008080" stroke-width="3.4"/><path d="M923,838.4 L907,843.4 L923,848.4 Z" fill="#008080"/>
<rect x="1754" y="0" width="3" height="942" fill="#000"/>
<rect x="0" y="941" width="1757" height="1" fill="#000"/>
</svg>
</body></html>
